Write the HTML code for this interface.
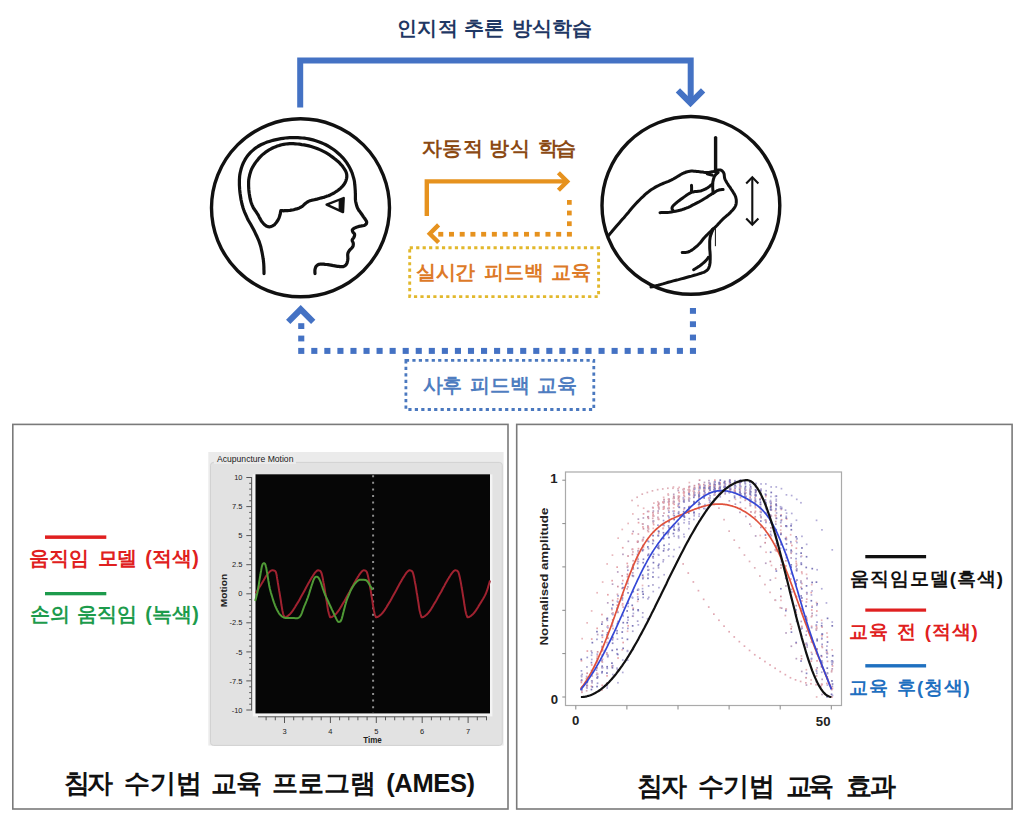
<!DOCTYPE html>
<html><head><meta charset="utf-8"><title>AMES</title>
<style>
html,body{margin:0;padding:0;background:#fff;}
body{width:1024px;height:819px;overflow:hidden;position:relative;font-family:"Liberation Sans",sans-serif;}
svg{position:absolute;left:0;top:0;}
.t{position:absolute;white-space:nowrap;font-weight:bold;line-height:1;font-family:"Liberation Sans",sans-serif;}
</style></head><body>
<svg width="1024" height="819" viewBox="0 0 1024 819">
 <!-- top blue arrow -->
 <g fill="none" stroke="#4472c4" stroke-width="6" stroke-linejoin="miter">
  <polyline points="300.2,107.6 300.2,60.5 690.7,60.5 690.7,103"/>
  <polyline points="677.9,90.4 690.5,102.9 703.1,90.4" stroke-width="6.1"/>
 </g>
 <!-- circles -->
 <g fill="none" stroke="#111" stroke-width="3.4">
  <circle cx="300.5" cy="207.8" r="89"/>
  <circle cx="690.9" cy="205.4" r="88.9"/>
 </g>
 <!-- head -->
 <g fill="none" stroke="#111" stroke-width="3.2" stroke-linecap="round" stroke-linejoin="round"><path d="M264 273.6 L264 272.5 L264 270.9 L263.9 269.1 L263.9 267.1 L263.8 265.2 L263.7 263.4 L263.5 261.8 L263.4 260.2 L263.1 258.6 L262.9 257.1 L262.6 255.5 L262.3 253.8 L262 252.1 L261.6 250.3 L261.2 248.5 L260.8 246.7 L260.2 244.8 L259.6 242.9 L258.9 240.9 L258 238.9 L257.1 236.8 L256.1 234.7 L255.1 232.6 L254.1 230.5 L253 228.4 L251.9 226.4 L250.7 224.3 L249.5 222.3 L248.3 220.2 L247.3 218.2 L246.4 216.2 L245.5 214.1 L244.6 212.1 L243.8 210 L243.1 208 L242.5 205.9 L241.9 203.8 L241.5 201.7 L241 199.6 L240.7 197.5 L240.4 195.4 L240.1 193.5 L239.9 191.7 L239.7 189.9 L239.6 188.3 L239.5 186.6 L239.4 185 L239.4 183.3 L239.4 181.6 L239.4 179.9 L239.5 178.3 L239.6 176.6 L239.8 174.9 L240.1 173.2 L240.5 171.5 L240.9 169.8 L241.4 168 L242 166.3 L242.6 164.6 L243.3 163 L244.1 161.4 L244.9 159.9 L245.8 158.4 L246.8 156.9 L247.8 155.5 L249 154.1 L250.3 152.7 L251.6 151.4 L253.1 150.1 L254.6 148.8 L256.2 147.6 L257.9 146.5 L259.6 145.5 L261.4 144.5 L263.3 143.7 L265.2 142.9 L267.2 142.1 L269.3 141.4 L271.5 140.7 L273.8 140.1 L276.2 139.6 L278.6 139.1 L280.9 138.7 L283.2 138.3 L285.4 138 L287.5 137.8 L289.6 137.7 L291.7 137.6 L293.8 137.6 L295.9 137.6 L298 137.7 L300.1 137.8 L302.2 138 L304.4 138.2 L306.5 138.5 L308.6 138.9 L310.7 139.4 L312.9 139.9 L315 140.5 L317.2 141.2 L319.3 141.9 L321.3 142.7 L323.3 143.6 L325.3 144.5 L327.2 145.5 L329.1 146.6 L331 147.8 L332.8 149 L334.6 150.3 L336.4 151.7 L338.1 153.2 L339.8 154.7 L341.4 156.3 L342.9 157.9 L344.3 159.5 L345.6 161.2 L346.8 162.9 L347.9 164.7 L349 166.4 L349.9 168.1 L350.7 169.8 L351.5 171.5 L352.2 173.2 L352.7 174.9 L353.2 176.6 L353.7 178.2 L354.1 179.8 L354.4 181.3 L354.6 182.8 L354.7 184.3 L354.9 185.7 L355 187.1 L355.1 188.5 L355.2 189.9 L355.3 191.2 L355.3 192.5 L355.4 193.8 L355.4 195 L355.4 196.1 L355.4 197.1 L355.4 198.1 L355.4 199 L355.5 200 L355.6 201 L355.8 202.1 L356.1 203.3 L356.4 204.6 L356.7 205.8 L357.1 206.9 L357.5 208 L358 208.9 L358.5 209.8 L359 210.6 L359.6 211.3 L360.2 212.1 L360.7 212.8 L361.2 213.5 L361.7 214.2 L362.1 214.8 L362.6 215.5 L363 216.2 L363.5 216.9 L364.1 217.7 L364.7 218.5 L365.3 219.4 L365.9 220.3 L366.4 221.1 L366.6 221.8 L366.7 222.5 L366.6 223.1 L366.4 223.7 L366 224.2 L365.5 224.7 L364.9 225.1 L364 225.5 L362.9 225.7 L361.7 225.9 L360.4 226.2 L359.1 226.4 L358 226.7 L357 227.1 L355.9 227.5 L355 227.9 L354.1 228.3 L353.3 228.8 L352.8 229.2 L352.5 229.6 L352.3 230.1 L352.4 230.6 L352.5 231 L352.6 231.5 L352.8 231.9 L353 232.3 L353.4 232.7 L353.7 233 L354.1 233.4 L354.4 233.8 L354.6 234.2 L354.6 234.7 L354.6 235.2 L354.5 235.8 L354.3 236.3 L354.1 236.9 L353.9 237.4 L353.6 237.9 L353.3 238.3 L352.9 238.7 L352.6 239.2 L352.3 239.6 L352.2 240.1 L352.2 240.6 L352.4 241.2 L352.7 241.8 L353 242.3 L353.2 242.9 L353.3 243.5 L353.3 244.1 L353.3 244.7 L353.2 245.3 L353.1 245.9 L352.9 246.5 L352.6 247 L352.2 247.5 L351.8 248 L351.3 248.4 L350.8 248.9 L350.2 249.4 L349.8 249.9 L349.4 250.5 L349 251.1 L348.6 251.7 L348.3 252.3 L348 253 L347.8 253.8 L347.7 254.6 L347.7 255.5 L347.8 256.5 L347.8 257.5 L347.9 258.4 L347.8 259.3 L347.7 260.2 L347.5 261.1 L347.3 261.9 L347.1 262.8 L346.8 263.5 L346.4 264.2 L346 264.8 L345.5 265.3 L345 265.7 L344.5 266.1 L343.8 266.4 L343 266.6 L342.1 266.7 L341 266.7 L339.9 266.6 L338.7 266.4 L337.5 266.3 L336.2 266.1 L334.9 265.9 L333.6 265.7 L332.2 265.4 L330.8 265.1 L329.4 264.9 L328 264.7 L326.6 264.5 L325.1 264.4 L323.6 264.2 L322.2 264.2 L320.9 264.1 L319.8 264.2 L318.9 264.4 L318.2 264.6 L317.7 264.9 L317.2 265.3 L316.8 265.7 L316.4 266.1 L316 266.6 L315.7 267.1 L315.5 267.7 L315.3 268.3 L315.1 268.9 L315 269.5 L314.9 270.2 L314.9 271 L314.9 271.8 L314.9 272.5 L315 273.1 L315 273.6"/><path d="M280.8 210.7 L281.3 210.7 L282 210.7 L282.8 210.7 L283.7 210.8 L284.6 210.7 L285.6 210.7 L286.6 210.6 L287.7 210.6 L288.8 210.5 L290 210.4 L291.2 210.2 L292.4 210 L293.7 209.7 L295.1 209.3 L296.6 208.9 L298 208.4 L299.4 207.9 L300.6 207.3 L301.7 206.7 L302.7 205.9 L303.6 205.1 L304.4 204.3 L305.2 203.6 L306 203 L306.7 202.5 L307.3 202.1 L307.9 201.7 L308.5 201.4 L309.2 201.1 L310 200.8 L311 200.5 L312 200.2 L313.2 200 L314.4 199.7 L315.7 199.4 L317 199.1 L318.4 198.7 L319.9 198.3 L321.5 197.9 L323.1 197.5 L324.6 197.1 L326 196.6 L327.3 196.1 L328.5 195.7 L329.6 195.2 L330.7 194.7 L331.8 194.1 L333 193.5 L334.2 192.8 L335.5 192 L336.8 191.2 L338.1 190.3 L339.3 189.3 L340.4 188.4 L341.4 187.4 L342.4 186.4 L343.3 185.4 L344.1 184.3 L344.8 183.2 L345.4 182 L345.9 180.8 L346.3 179.6 L346.6 178.3 L346.8 177 L346.8 175.7 L346.7 174.4 L346.4 173.1 L346 171.9 L345.4 170.6 L344.6 169.3 L343.8 168.1 L342.9 166.8 L341.9 165.5 L340.8 164.3 L339.6 163 L338.3 161.7 L336.8 160.5 L335.3 159.2 L333.6 157.9 L331.8 156.6 L329.9 155.2 L327.9 153.9 L325.9 152.7 L323.9 151.6 L321.9 150.6 L319.8 149.6 L317.7 148.7 L315.6 147.9 L313.4 147.2 L311.2 146.5 L308.9 145.9 L306.5 145.4 L304.1 144.9 L301.7 144.6 L299.4 144.2 L297.2 144 L295.2 143.8 L293.3 143.7 L291.4 143.6 L289.6 143.6 L287.7 143.8 L285.8 144 L283.7 144.4 L281.6 144.8 L279.5 145.4 L277.3 146.1 L275.2 146.9 L273.1 147.8 L271.1 148.8 L269.1 149.9 L267.2 151.1 L265.3 152.4 L263.4 153.9 L261.7 155.4 L260 157.1 L258.4 158.9 L256.8 160.9 L255.3 162.9 L254 164.9 L252.8 166.8 L251.8 168.7 L251 170.6 L250.4 172.5 L249.8 174.4 L249.4 176.3 L249 178.2 L248.7 180.1 L248.6 182.1 L248.6 184 L248.6 186 L248.7 187.9 L248.8 189.7 L249 191.5 L249.2 193.3 L249.5 195.1 L249.8 196.9 L250.1 198.5 L250.5 200 L250.8 201.4 L251.2 202.6 L251.6 203.7 L252 204.8 L252.5 205.9 L253 207 L253.6 208.2 L254.4 209.3 L255.2 210.5 L256 211.6 L256.8 212.9 L257.6 214.1 L258.4 215.4 L259.1 216.9 L259.9 218.4 L260.7 219.8 L261.5 221.1 L262.3 222.3 L263.2 223.3 L264.1 224.2 L265 225 L265.9 225.7 L266.9 226.2 L267.8 226.6 L268.7 226.8 L269.7 226.8 L270.6 226.6 L271.6 226.3 L272.5 225.9 L273.3 225.5 L274.1 225 L274.8 224.3 L275.5 223.5 L276.2 222.7 L276.8 221.8 L277.4 221 L277.9 220.1 L278.4 219.2 L278.8 218.3 L279.2 217.3 L279.5 216.4 L279.8 215.5 L280.1 214.6 L280.3 213.7 L280.4 212.8 L280.6 211.9 L280.7 211.2 L280.8 210.7 Z"/>
  <path d="M326.6 204.6 L343.7 198 L343 212.1 Z" stroke-width="2.4"/>
 </g>
 <path d="M338.6 200.2 L343.7 198 L343 212.1 L338.6 210.2 Z" fill="#111"/>
 <!-- hand -->
 <g fill="none" stroke="#111" stroke-width="3" stroke-linecap="round" stroke-linejoin="round"><path d="M608.3 235.8 L609.2 234.7 L610.6 233.1 L612.1 231.3 L613.8 229.3 L615.5 227.3 L617 225.5 L618.4 223.9 L619.7 222.4 L621.1 220.8 L622.4 219.3 L623.9 217.7 L625.4 215.9 L627 214 L628.8 211.9 L630.5 209.8 L632.4 207.6 L634.2 205.5 L636 203.5 L637.8 201.6 L639.7 199.7 L641.6 197.8 L643.5 196.1 L645.2 194.4 L646.9 193 L648.4 191.8 L649.8 190.7 L651.1 189.8 L652.4 189 L653.7 188.2 L655 187.4 L656.3 186.6 L657.7 186 L659 185.3 L660.3 184.7 L661.6 184.1 L663 183.5 L664.4 182.9 L665.7 182.4 L667.1 181.8 L668.5 181.3 L670 180.6 L671.6 179.9 L673.3 179 L675.2 177.9 L677.1 176.7 L679 175.6 L680.8 174.5 L682.4 173.7 L683.8 173 L685.1 172.5 L686.3 172 L687.5 171.7 L688.6 171.4 L689.9 171.2 L691.2 171.1 L692.6 171.1 L694 171.2 L695.4 171.3 L696.8 171.5 L698.2 171.6 L699.6 171.7 L701 171.9 L702.5 172.1 L703.9 172.3 L705.2 172.4 L706.5 172.5 L707.7 172.5 L708.9 172.4 L710 172.2 L711.1 172 L712.1 171.8 L713.1 171.6 L714 171.4 L714.9 171 L715.8 170.7 L716.6 170.4 L717.4 170.2 L718.1 170 L718.8 169.9 L719.4 169.9 L719.9 169.9 L720.4 170 L720.9 170.2 L721.4 170.4 L721.9 170.7 L722.4 171.1 L722.8 171.6 L723.2 172.1 L723.6 172.7 L723.9 173.3 L724.1 174 L724.2 174.8 L724.3 175.7 L724.4 176.6 L724.5 177.4 L724.7 178.3 L725 179.1 L725.3 179.8 L725.7 180.6 L726.1 181.4 L726.6 182.2 L727.2 183.2 L727.9 184.3 L728.7 185.6 L729.7 186.9 L730.6 188.2 L731.4 189.5 L732.2 190.7 L732.9 191.8 L733.5 192.8 L734.1 193.7 L734.6 194.6 L735.1 195.6 L735.5 196.5 L735.8 197.5 L736 198.5 L736.2 199.4 L736.3 200.4 L736.3 201.4 L736.3 202.3 L736.2 203.2 L736.1 204 L735.9 204.8 L735.6 205.6 L735.2 206.4 L734.7 207.3 L734.1 208.2 L733.3 209.2 L732.5 210.2 L731.6 211.1 L730.7 212.1 L729.7 213.1 L728.7 214.1 L727.6 215 L726.5 215.9 L725.4 216.9 L724.2 217.9 L723.1 218.9 L722 220 L720.8 221.3 L719.6 222.6 L718.4 223.8 L717.4 225 L716.4 226 L715.5 226.9 L714.7 227.6 L713.9 228.3 L713.3 228.9 L712.7 229.3 L712.3 229.7"/><path d="M718.1 172.5 L717.7 172.8 L717.2 173.3 L716.6 173.8 L715.9 174.5 L715.3 175.1 L714.8 175.8 L714.4 176.5 L714.1 177.3 L713.8 178.1 L713.5 179 L713.3 179.9 L713.1 180.8 L712.9 181.7 L712.8 182.6 L712.8 183.6 L712.7 184.6 L712.7 185.6 L712.7 186.6 L712.7 187.7 L712.8 189 L712.9 190.3 L713 191.5 L713 192.5 L713.1 193.2"/><path d="M707.3 173.9 L707.9 174.1 L708.8 174.3 L709.8 174.5 L710.8 174.8 L711.7 175 L712.3 175.2"/><path d="M691.5 185.3 L691.5 185.7 L691.5 186.2 L691.6 186.7 L691.6 187.4 L691.6 188 L691.6 188.5 L691.6 189 L691.6 189.5 L691.6 189.9 L691.5 190.4 L691.5 190.7 L691.5 191"/><path d="M712.3 184.1 L711.9 184.5 L711.3 185 L710.6 185.5 L709.8 186.2 L709 186.8 L708.1 187.4 L707.2 188 L706.2 188.6 L705.2 189.2 L704 189.7 L702.8 190.2 L701.5 190.7 L700 191 L698.4 191.2 L696.7 191.4 L694.9 191.6 L693.2 191.9 L691.5 192.4 L689.9 193.1 L688.4 194 L686.8 195 L685.3 196.1 L683.9 197.1 L682.4 198.2 L680.9 199.3 L679.3 200.5 L677.8 201.7 L676.4 202.8 L675.1 203.9 L674.1 204.8 L673.4 205.5 L672.8 206.2 L672.5 206.7 L672.2 207.2 L672.1 207.6 L672 208.1 L672 208.6 L672.2 209.1 L672.5 209.7 L672.8 210.1 L673.1 210.5 L673.3 210.8"/><path d="M660 212.7 L661.3 212.6 L663 212.6 L665 212.5 L667.2 212.4 L669.5 212.2 L671.6 211.9 L673.6 211.6 L675.7 211.2 L677.7 210.8 L679.8 210.3 L681.9 209.7 L684 209 L686.1 208.2 L688.3 207.3 L690.4 206.3 L692.5 205.2 L694.6 204.2 L696.5 203.2 L698.4 202.2 L700.1 201.2 L701.9 200.2 L703.5 199.2 L705.1 198.3 L706.5 197.4 L707.8 196.6 L709 195.8 L710.1 195.1 L711.1 194.4 L712.1 193.8 L713.1 193.2 L714 192.6 L714.9 192.1 L715.7 191.5 L716.5 191.1 L717.3 190.6 L718.1 190.3 L719 190 L720 189.8 L720.9 189.7 L721.8 189.6 L722.6 189.6 L723.1 189.5"/><path d="M682.2 252.6 L683 252.5 L684 252.5 L685.3 252.4 L686.6 252.3 L688 252 L689.4 251.5 L690.7 250.8 L692.2 249.9 L693.6 248.9 L695 247.7 L696.5 246.5 L697.8 245.3 L699.1 244 L700.3 242.7 L701.5 241.2 L702.6 239.8 L703.8 238.3 L705 237 L706.3 235.6 L707.7 234.2 L709.1 232.8 L710.4 231.6 L711.5 230.5 L712.3 229.7"/><path d="M713.3 228.7 L712.9 229.6 L712.4 230.8 L711.8 232.3 L711.2 233.9 L710.6 235.5 L710.2 237 L710 238.5 L709.8 240 L709.7 241.5 L709.7 243.1 L709.7 244.7 L709.7 246.3 L709.7 248 L709.8 249.8 L710 251.6 L710.1 253.3 L710.2 255.1 L710.2 256.7 L710.2 258.2 L710.2 259.7 L710.1 261.2 L710.1 262.5 L709.9 263.8 L709.7 265 L709.4 266.1 L709.1 267 L708.8 267.9 L708.3 268.7 L707.8 269.5 L707.1 270.2 L706.4 270.8 L705.6 271.3 L704.8 271.8 L703.7 272.3 L702.5 272.7 L700.9 273.3 L699 273.9 L696.7 274.6 L694.2 275.3 L691.5 276.1 L688.9 276.8 L686.3 277.5 L683.8 278.2 L681.2 278.9 L678.5 279.6 L675.9 280.2 L673.3 280.9 L670.8 281.6 L668.2 282.3 L665.5 283.1 L662.9 283.9 L660.3 284.6 L658.1 285.3 L656.2 285.8 L654.7 286.2 L653.6 286.5 L652.7 286.7 L652 286.8 L651.5 286.9 L651 287"/><path d="M693.6 269.7 L694.4 269.2 L695.6 268.5 L696.9 267.7 L698.3 266.8 L699.7 265.9 L700.9 265 L702 264.1 L703.1 263.2 L704.1 262.3 L705.1 261.4 L705.9 260.5 L706.6 259.8 L707.1 259.2 L707.5 258.7 L707.8 258.2 L708 257.8 L708.2 257.5 L708.3 257.3"/>
  <path d="M715.6 137.6 L715.6 172" stroke-width="3.4"/>
  <path d="M715.4 228.7 L715.4 245.8" stroke-width="1"/>
 </g>
 <g fill="none" stroke="#111" stroke-width="2.1">
  <line x1="752.3" y1="178" x2="752.3" y2="224"/>
  <polyline points="746.2,183.4 752.3,177.2 758.4,183.4"/>
  <polyline points="746.2,218.6 752.3,224.8 758.4,218.6"/>
 </g>
 <!-- orange arrows -->
 <g fill="none" stroke="#e6921e" stroke-width="4.4" stroke-linejoin="miter">
  <polyline points="426.8,216 426.8,181.4 567.5,181.4"/>
  <polyline points="558.4,172.7 567.2,181.5 558.4,190.3"/>
  <polyline points="438.6,224.9 429.8,233.7 438.6,242.5"/>
 </g>
 <!-- yellow dotted box -->
 <rect x="409.7" y="247.7" width="188.9" height="48.9" fill="none" stroke="#e2b82c" stroke-width="2.9" stroke-dasharray="3.2 3.25"/>
 <!-- blue dotted feedback path -->
 <g fill="none" stroke="#4472c4" stroke-width="6">
  <polyline points="288.2,321.9 300.7,309.4 313.2,321.9" stroke-width="6.1"/>
 </g>
 <rect x="405.9" y="360.4" width="187.9" height="49.1" fill="none" stroke="#4a78bf" stroke-width="2.8" stroke-dasharray="3.2 3.25"/>
 <g fill="#e6921e"><rect x="566.90" y="231.9" width="5.0" height="4.7"/><rect x="556.18" y="231.9" width="5.0" height="4.7"/><rect x="545.46" y="231.9" width="5.0" height="4.7"/><rect x="534.74" y="231.9" width="5.0" height="4.7"/><rect x="524.02" y="231.9" width="5.0" height="4.7"/><rect x="513.30" y="231.9" width="5.0" height="4.7"/><rect x="502.58" y="231.9" width="5.0" height="4.7"/><rect x="491.86" y="231.9" width="5.0" height="4.7"/><rect x="481.14" y="231.9" width="5.0" height="4.7"/><rect x="470.42" y="231.9" width="5.0" height="4.7"/><rect x="459.70" y="231.9" width="5.0" height="4.7"/><rect x="448.98" y="231.9" width="5.0" height="4.7"/><rect x="438.26" y="231.9" width="5.0" height="4.7"/><rect x="567.0" y="200.0" width="4.7" height="4.8"/><rect x="567.0" y="210.6" width="4.7" height="4.8"/><rect x="567.0" y="221.3" width="4.7" height="4.8"/></g>
 <g fill="#4472c4"><rect x="298.20" y="347.9" width="6.1" height="6.0"/><rect x="311.26" y="347.9" width="6.1" height="6.0"/><rect x="324.31" y="347.9" width="6.1" height="6.0"/><rect x="337.37" y="347.9" width="6.1" height="6.0"/><rect x="350.43" y="347.9" width="6.1" height="6.0"/><rect x="363.49" y="347.9" width="6.1" height="6.0"/><rect x="376.54" y="347.9" width="6.1" height="6.0"/><rect x="389.60" y="347.9" width="6.1" height="6.0"/><rect x="402.66" y="347.9" width="6.1" height="6.0"/><rect x="415.71" y="347.9" width="6.1" height="6.0"/><rect x="428.77" y="347.9" width="6.1" height="6.0"/><rect x="441.83" y="347.9" width="6.1" height="6.0"/><rect x="454.88" y="347.9" width="6.1" height="6.0"/><rect x="467.94" y="347.9" width="6.1" height="6.0"/><rect x="481.00" y="347.9" width="6.1" height="6.0"/><rect x="494.06" y="347.9" width="6.1" height="6.0"/><rect x="507.11" y="347.9" width="6.1" height="6.0"/><rect x="520.17" y="347.9" width="6.1" height="6.0"/><rect x="533.23" y="347.9" width="6.1" height="6.0"/><rect x="546.28" y="347.9" width="6.1" height="6.0"/><rect x="559.34" y="347.9" width="6.1" height="6.0"/><rect x="572.40" y="347.9" width="6.1" height="6.0"/><rect x="585.45" y="347.9" width="6.1" height="6.0"/><rect x="598.51" y="347.9" width="6.1" height="6.0"/><rect x="611.57" y="347.9" width="6.1" height="6.0"/><rect x="624.62" y="347.9" width="6.1" height="6.0"/><rect x="637.68" y="347.9" width="6.1" height="6.0"/><rect x="650.74" y="347.9" width="6.1" height="6.0"/><rect x="663.80" y="347.9" width="6.1" height="6.0"/><rect x="676.85" y="347.9" width="6.1" height="6.0"/><rect x="689.91" y="347.9" width="6.1" height="6.0"/><rect x="689.9" y="308.0" width="6.1" height="5.8"/><rect x="689.9" y="321.3" width="6.1" height="5.8"/><rect x="689.9" y="334.6" width="6.1" height="5.8"/><rect x="298.2" y="323.2" width="6.1" height="5.8"/><rect x="298.2" y="335.6" width="6.1" height="5.8"/></g>
 <!-- panels -->
 <g fill="none" stroke="#7a7a7a" stroke-width="1.6">
  <rect x="12.8" y="424.4" width="495.2" height="384.6"/>
  <rect x="516.7" y="424.4" width="495.4" height="384.6"/>
 </g>
 <!-- legend lines left -->
 <rect x="45" y="535.4" width="61.3" height="3.5" fill="#e02020"/>
 <rect x="45" y="592" width="61.3" height="3.3" fill="#1d9b4c"/>
 <!-- left chart window -->
 <rect x="208.3" y="452" width="295.3" height="293.6" fill="#ebebeb"/>
 <rect x="210.5" y="462.4" width="291.8" height="283" rx="3" fill="#e2e2e2" stroke="#d2d2d2" stroke-width="1"/>
 <rect x="214" y="454" width="82" height="10" fill="#ebebeb"/>
 <text x="217" y="462" font-size="8.6" fill="#1a1a1a" font-family="Liberation Sans">Acupuncture Motion</text>
 <rect x="252.8" y="474.4" width="239.6" height="242" fill="#f4f4f4"/>
 <rect x="255.5" y="474.3" width="234.5" height="239.1" fill="#060606"/>
 <g stroke="#555" stroke-width="1" fill="none">
  <line x1="251.6" y1="477" x2="251.6" y2="710.5"/>
  <line x1="258" y1="716.8" x2="487" y2="716.8"/>
  <line x1="246.3" y1="710" x2="251.6" y2="710"/><line x1="249.2" y1="704.2" x2="251.6" y2="704.2"/><line x1="249.2" y1="698.4" x2="251.6" y2="698.4"/><line x1="249.2" y1="692.6" x2="251.6" y2="692.6"/><line x1="249.2" y1="686.8" x2="251.6" y2="686.8"/><line x1="246.3" y1="680.9" x2="251.6" y2="680.9"/><line x1="249.2" y1="675.1" x2="251.6" y2="675.1"/><line x1="249.2" y1="669.3" x2="251.6" y2="669.3"/><line x1="249.2" y1="663.5" x2="251.6" y2="663.5"/><line x1="249.2" y1="657.7" x2="251.6" y2="657.7"/><line x1="246.3" y1="651.9" x2="251.6" y2="651.9"/><line x1="249.2" y1="646.1" x2="251.6" y2="646.1"/><line x1="249.2" y1="640.2" x2="251.6" y2="640.2"/><line x1="249.2" y1="634.4" x2="251.6" y2="634.4"/><line x1="249.2" y1="628.6" x2="251.6" y2="628.6"/><line x1="246.3" y1="622.8" x2="251.6" y2="622.8"/><line x1="249.2" y1="617" x2="251.6" y2="617"/><line x1="249.2" y1="611.2" x2="251.6" y2="611.2"/><line x1="249.2" y1="605.4" x2="251.6" y2="605.4"/><line x1="249.2" y1="599.6" x2="251.6" y2="599.6"/><line x1="246.3" y1="593.8" x2="251.6" y2="593.8"/><line x1="249.2" y1="587.9" x2="251.6" y2="587.9"/><line x1="249.2" y1="582.1" x2="251.6" y2="582.1"/><line x1="249.2" y1="576.3" x2="251.6" y2="576.3"/><line x1="249.2" y1="570.5" x2="251.6" y2="570.5"/><line x1="246.3" y1="564.7" x2="251.6" y2="564.7"/><line x1="249.2" y1="558.9" x2="251.6" y2="558.9"/><line x1="249.2" y1="553.1" x2="251.6" y2="553.1"/><line x1="249.2" y1="547.2" x2="251.6" y2="547.2"/><line x1="249.2" y1="541.4" x2="251.6" y2="541.4"/><line x1="246.3" y1="535.6" x2="251.6" y2="535.6"/><line x1="249.2" y1="529.8" x2="251.6" y2="529.8"/><line x1="249.2" y1="524" x2="251.6" y2="524"/><line x1="249.2" y1="518.2" x2="251.6" y2="518.2"/><line x1="249.2" y1="512.4" x2="251.6" y2="512.4"/><line x1="246.3" y1="506.6" x2="251.6" y2="506.6"/><line x1="249.2" y1="500.8" x2="251.6" y2="500.8"/><line x1="249.2" y1="494.9" x2="251.6" y2="494.9"/><line x1="249.2" y1="489.1" x2="251.6" y2="489.1"/><line x1="249.2" y1="483.3" x2="251.6" y2="483.3"/><line x1="246.3" y1="477.5" x2="251.6" y2="477.5"/><line x1="266.1" y1="716.8" x2="266.1" y2="720.3"/><line x1="275.3" y1="716.8" x2="275.3" y2="720.3"/><line x1="284.5" y1="716.8" x2="284.5" y2="723"/><line x1="293.7" y1="716.8" x2="293.7" y2="720.3"/><line x1="302.9" y1="716.8" x2="302.9" y2="720.3"/><line x1="312" y1="716.8" x2="312" y2="720.3"/><line x1="321.2" y1="716.8" x2="321.2" y2="720.3"/><line x1="330.4" y1="716.8" x2="330.4" y2="723"/><line x1="339.6" y1="716.8" x2="339.6" y2="720.3"/><line x1="348.8" y1="716.8" x2="348.8" y2="720.3"/><line x1="357.9" y1="716.8" x2="357.9" y2="720.3"/><line x1="367.1" y1="716.8" x2="367.1" y2="720.3"/><line x1="376.3" y1="716.8" x2="376.3" y2="723"/><line x1="385.5" y1="716.8" x2="385.5" y2="720.3"/><line x1="394.7" y1="716.8" x2="394.7" y2="720.3"/><line x1="403.8" y1="716.8" x2="403.8" y2="720.3"/><line x1="413" y1="716.8" x2="413" y2="720.3"/><line x1="422.2" y1="716.8" x2="422.2" y2="723"/><line x1="431.4" y1="716.8" x2="431.4" y2="720.3"/><line x1="440.6" y1="716.8" x2="440.6" y2="720.3"/><line x1="449.7" y1="716.8" x2="449.7" y2="720.3"/><line x1="458.9" y1="716.8" x2="458.9" y2="720.3"/><line x1="468.1" y1="716.8" x2="468.1" y2="723"/><line x1="477.3" y1="716.8" x2="477.3" y2="720.3"/><line x1="486.5" y1="716.8" x2="486.5" y2="720.3"/>
 </g>
 <g font-size="7.5" fill="#222" text-anchor="end" font-family="Liberation Sans"><text x="242.5" y="480.1">10</text><text x="242.5" y="509.2">7.5</text><text x="242.5" y="538.2">5</text><text x="242.5" y="567.3">2.5</text><text x="242.5" y="596.4">0</text><text x="242.5" y="625.4">-2.5</text><text x="242.5" y="654.5">-5</text><text x="242.5" y="683.5">-7.5</text><text x="242.5" y="712.6">-10</text></g>
 <g font-size="7.5" fill="#222" text-anchor="middle" font-family="Liberation Sans"><text x="284.5" y="733.5">3</text><text x="330.4" y="733.5">4</text><text x="376.3" y="733.5">5</text><text x="422.2" y="733.5">6</text><text x="468.1" y="733.5">7</text></g>
 <text transform="translate(372.5,743.2) scale(1,1.16)" font-size="8" font-weight="bold" fill="#222" text-anchor="middle" font-family="Liberation Sans">Time</text>
 <text transform="translate(226.9,590.6) rotate(-90) scale(1.25,1)" font-size="8.2" font-weight="bold" fill="#222" text-anchor="middle" font-family="Liberation Sans">Motion</text>
 <line x1="373.1" y1="475.2" x2="373.1" y2="713" stroke="#8e8e8e" stroke-width="2" stroke-dasharray="2 4.6"/>
 <path d="M255.7 593.2 L256.4 592.1 L257.4 590.5 L258.6 588.6 L259.8 586.6 L261 584.7 L262 583 L262.9 581.6 L263.7 580.2 L264.4 578.9 L265.1 577.7 L265.8 576.5 L266.5 575.5 L267.2 574.5 L267.9 573.6 L268.6 572.8 L269.3 572.1 L269.9 571.5 L270.5 571 L271.1 570.6 L271.6 570.4 L272.1 570.3 L272.6 570.3 L273 570.3 L273.5 570.4 L274 570.5 L274.4 570.6 L274.8 570.8 L275.2 571.1 L275.6 571.6 L276 572.5 L276.3 573.7 L276.7 575.2 L276.9 576.9 L277.2 578.9 L277.6 580.9 L277.9 583 L278.3 585.3 L278.7 587.8 L279.1 590.4 L279.6 593 L280 595.6 L280.4 598 L280.8 600.3 L281.1 602.6 L281.4 604.8 L281.8 606.9 L282.1 608.8 L282.4 610.5 L282.7 611.9 L283 613.2 L283.3 614.2 L283.6 615.1 L283.9 615.9 L284.1 616.5 L284.3 616.9 L284.4 617.2 L284.4 617.3 L284.5 617.3 L284.7 617.2 L284.9 617.2 L285.2 617.2 L285.6 617.1 L285.9 617 L286.4 616.8 L286.9 616.5 L287.4 616.2 L288 615.8 L288.6 615.3 L289.2 614.8 L289.9 614.2 L290.6 613.4 L291.4 612.5 L292.2 611.4 L293.1 610.1 L294 608.7 L295 607.2 L295.9 605.6 L296.9 604 L297.9 602.4 L298.9 600.7 L299.9 598.9 L300.9 597.1 L301.9 595.3 L302.9 593.5 L303.9 591.7 L305 589.7 L306 587.8 L307 585.9 L308 584.1 L308.9 582.5 L309.8 581 L310.6 579.6 L311.3 578.3 L312.1 577.1 L312.8 576 L313.4 575 L314 574.1 L314.5 573.3 L315 572.7 L315.5 572.1 L316 571.6 L316.4 571.2 L316.8 570.9 L317.2 570.6 L317.5 570.4 L317.9 570.3 L318.3 570.3 L318.6 570.4 L319.1 570.5 L319.5 570.6 L319.9 570.7 L320.4 571.1 L320.8 571.6 L321.2 572.5 L321.7 573.7 L322.1 575.2 L322.5 576.9 L322.9 578.9 L323.2 580.9 L323.6 583 L324.1 585.3 L324.5 587.8 L324.9 590.4 L325.3 593 L325.8 595.6 L326.1 598 L326.5 600.3 L326.9 602.6 L327.2 604.8 L327.5 606.9 L327.8 608.8 L328.1 610.5 L328.5 611.9 L328.8 613.2 L329.1 614.2 L329.4 615.1 L329.6 615.9 L329.8 616.5 L330 616.9 L330.1 617.2 L330.2 617.3 L330.3 617.3 L330.4 617.2 L330.6 617.2 L331 617.2 L331.3 617.1 L331.7 617 L332.1 616.8 L332.6 616.5 L333.1 616.2 L333.7 615.8 L334.3 615.3 L335 614.8 L335.6 614.2 L336.4 613.4 L337.1 612.5 L338 611.4 L338.9 610.1 L339.8 608.7 L340.7 607.2 L341.7 605.6 L342.6 604 L343.6 602.4 L344.6 600.7 L345.6 598.9 L346.6 597.1 L347.6 595.3 L348.6 593.5 L349.7 591.7 L350.7 589.7 L351.7 587.8 L352.8 585.9 L353.7 584.1 L354.6 582.5 L355.5 581 L356.3 579.6 L357.1 578.3 L357.8 577.1 L358.5 576 L359.1 575 L359.7 574.1 L360.3 573.3 L360.8 572.7 L361.3 572.1 L361.7 571.6 L362.1 571.2 L362.6 570.9 L362.9 570.6 L363.3 570.4 L363.7 570.3 L364 570.3 L364.4 570.4 L364.8 570.5 L365.2 570.6 L365.7 570.7 L366.1 571.1 L366.6 571.6 L367 572.5 L367.4 573.7 L367.8 575.2 L368.2 576.9 L368.6 578.9 L369 580.9 L369.4 583 L369.8 585.3 L370.2 587.8 L370.7 590.4 L371.1 593 L371.5 595.6 L371.9 598 L372.3 600.3 L372.6 602.6 L372.9 604.8 L373.3 606.9 L373.6 608.8 L373.9 610.5 L374.2 611.9 L374.5 613.2 L374.8 614.2 L375.1 615.1 L375.4 615.9 L375.6 616.5 L375.8 616.9 L375.9 617.2 L375.9 617.3 L376 617.3 L376.2 617.2 L376.4 617.2 L376.7 617.2 L377.1 617.1 L377.4 617 L377.9 616.8 L378.4 616.5 L378.9 616.2 L379.5 615.8 L380.1 615.3 L380.7 614.8 L381.4 614.2 L382.1 613.4 L382.9 612.5 L383.7 611.4 L384.6 610.1 L385.5 608.7 L386.5 607.2 L387.4 605.6 L388.4 604 L389.4 602.4 L390.4 600.7 L391.4 598.9 L392.4 597.1 L393.4 595.3 L394.4 593.5 L395.4 591.7 L396.5 589.7 L397.5 587.8 L398.5 585.9 L399.5 584.1 L400.4 582.5 L401.3 581 L402.1 579.6 L402.8 578.3 L403.6 577.1 L404.3 576 L404.9 575 L405.5 574.1 L406 573.3 L406.5 572.7 L407 572.1 L407.5 571.6 L407.9 571.2 L408.3 570.9 L408.7 570.6 L409 570.4 L409.4 570.3 L409.8 570.3 L410.1 570.4 L410.6 570.5 L411 570.6 L411.4 570.7 L411.9 571.1 L412.3 571.6 L412.8 572.5 L413.2 573.7 L413.6 575.2 L414 576.9 L414.4 578.9 L414.7 580.9 L415.1 583 L415.6 585.3 L416 587.8 L416.4 590.4 L416.8 593 L417.3 595.6 L417.6 598 L418 600.3 L418.4 602.6 L418.7 604.8 L419 606.9 L419.3 608.8 L419.6 610.5 L420 611.9 L420.3 613.2 L420.6 614.2 L420.9 615.1 L421.1 615.9 L421.3 616.5 L421.5 616.9 L421.6 617.2 L421.7 617.3 L421.8 617.3 L421.9 617.2 L422.1 617.2 L422.5 617.2 L422.8 617.1 L423.2 617 L423.6 616.8 L424.1 616.5 L424.6 616.2 L425.2 615.8 L425.8 615.3 L426.5 614.8 L427.1 614.2 L427.9 613.4 L428.6 612.5 L429.5 611.4 L430.4 610.1 L431.3 608.7 L432.2 607.2 L433.2 605.6 L434.1 604 L435.1 602.4 L436.1 600.7 L437.1 598.9 L438.1 597.1 L439.1 595.3 L440.1 593.5 L441.2 591.7 L442.2 589.7 L443.2 587.8 L444.3 585.9 L445.2 584.1 L446.1 582.5 L447 581 L447.8 579.6 L448.6 578.3 L449.3 577.1 L450 576 L450.6 575 L451.2 574.1 L451.8 573.3 L452.3 572.7 L452.8 572.1 L453.2 571.6 L453.6 571.2 L454.1 570.9 L454.4 570.6 L454.8 570.4 L455.2 570.3 L455.5 570.3 L455.9 570.4 L456.3 570.5 L456.7 570.6 L457.2 570.7 L457.6 571.1 L458.1 571.6 L458.5 572.5 L458.9 573.7 L459.3 575.2 L459.7 576.9 L460.1 578.9 L460.5 580.9 L460.9 583 L461.3 585.3 L461.7 587.8 L462.2 590.4 L462.6 593 L463 595.6 L463.4 598 L463.8 600.3 L464.1 602.6 L464.4 604.8 L464.8 606.9 L465.1 608.8 L465.4 610.5 L465.7 611.9 L466 613.2 L466.3 614.2 L466.6 615.1 L466.9 615.9 L467.1 616.5 L467.3 616.9 L467.4 617.2 L467.4 617.3 L467.5 617.3 L467.7 617.2 L467.9 617.2 L468.2 617.2 L468.6 617.1 L468.9 617 L469.4 616.8 L469.9 616.5 L470.4 616.2 L471 615.8 L471.6 615.3 L472.2 614.8 L472.9 614.2 L473.6 613.4 L474.4 612.5 L475.2 611.4 L476.1 610.1 L477 608.7 L478 607.2 L478.9 605.6 L479.9 604 L480.9 602.4 L481.9 600.7 L483 599 L484 597.3 L485 595.4 L485.9 593.5 L486.7 591.3 L487.6 588.9 L488.3 586.3 L489 584 L489.6 581.9 L490 580.5" fill="none" stroke="#a02230" stroke-width="2" stroke-linejoin="round"/>
 <path d="M255.2 601 L255.4 600.1 L255.8 598.9 L256.2 597.4 L256.6 595.8 L257.1 594 L257.5 592 L257.9 589.8 L258.3 587.3 L258.8 584.6 L259.2 581.9 L259.6 579.3 L260 577 L260.4 574.8 L260.7 572.7 L261.1 570.7 L261.4 568.9 L261.7 567.3 L262 566 L262.3 565 L262.6 564.3 L262.8 563.9 L263.1 563.6 L263.3 563.4 L263.6 563.3 L263.9 563.2 L264.2 563.2 L264.5 563.4 L264.8 563.7 L265.2 564.2 L265.5 565 L265.8 566.2 L266.2 567.6 L266.5 569.4 L266.8 571.2 L267.2 573.1 L267.5 575 L267.8 576.9 L268.1 578.9 L268.4 580.9 L268.8 583 L269.1 585 L269.5 587 L269.9 588.9 L270.4 590.8 L270.9 592.7 L271.5 594.6 L272 596.3 L272.5 598 L273 599.6 L273.5 601.1 L274 602.6 L274.5 603.9 L275 605.3 L275.5 606.5 L276 607.7 L276.5 608.8 L277 609.8 L277.5 610.7 L278 611.6 L278.5 612.5 L279 613.3 L279.6 614.1 L280.2 614.8 L280.8 615.4 L281.4 616 L282 616.5 L282.6 616.9 L283.2 617.2 L283.8 617.5 L284.5 617.7 L285.2 617.9 L286 618 L286.9 618.1 L287.9 618.1 L288.9 618.1 L289.9 618.1 L291 618 L292 618 L293 618 L294.1 618.1 L295.2 618.2 L296.2 618.2 L297.2 618.2 L298 618 L298.7 617.7 L299.2 617.4 L299.7 617 L300.1 616.5 L300.5 615.8 L301 615 L301.5 613.9 L302 612.6 L302.5 611.2 L303 609.7 L303.5 608.3 L304 607 L304.4 605.9 L304.9 604.9 L305.3 603.9 L305.7 603 L306.1 602 L306.5 601 L306.9 599.9 L307.3 598.8 L307.8 597.6 L308.2 596.4 L308.6 595.2 L309 594 L309.4 592.7 L309.8 591.4 L310.2 590 L310.7 588.6 L311.1 587.3 L311.5 586 L311.9 584.7 L312.4 583.4 L312.8 582.1 L313.2 580.9 L313.6 579.9 L314 579 L314.4 578.3 L314.7 577.8 L315 577.4 L315.3 577.1 L315.6 576.9 L316 576.8 L316.4 576.7 L316.8 576.7 L317.2 576.8 L317.6 577 L318.1 577.4 L318.5 577.8 L318.9 578.4 L319.3 579.1 L319.7 579.9 L320.1 580.8 L320.6 581.9 L321 583 L321.5 584.3 L321.9 585.8 L322.4 587.3 L322.9 588.9 L323.5 590.5 L324 592 L324.6 593.4 L325.1 594.8 L325.7 596.1 L326.3 597.4 L326.9 598.7 L327.5 600 L328.1 601.3 L328.7 602.5 L329.2 603.8 L329.8 605 L330.4 606.3 L331 607.5 L331.6 608.8 L332.2 610.1 L332.8 611.3 L333.4 612.6 L333.9 613.8 L334.5 615 L335 616.1 L335.6 617.3 L336.1 618.4 L336.6 619.4 L337.1 620.3 L337.5 621 L337.9 621.5 L338.2 621.8 L338.6 621.9 L338.9 622 L339.2 621.9 L339.5 621.8 L339.8 621.7 L340.1 621.5 L340.5 621.3 L340.8 620.9 L341.1 620.3 L341.5 619.5 L341.9 618.3 L342.3 616.8 L342.7 615.2 L343.1 613.4 L343.6 611.6 L344 610 L344.4 608.4 L344.8 606.9 L345.2 605.3 L345.7 603.8 L346.1 602.3 L346.5 601 L346.9 599.8 L347.3 598.6 L347.7 597.6 L348.1 596.6 L348.6 595.6 L349 594.5 L349.5 593.4 L349.9 592.3 L350.4 591.2 L350.9 590.1 L351.5 589 L352 588 L352.6 587.1 L353.1 586.1 L353.7 585.3 L354.3 584.5 L354.9 583.7 L355.5 583 L356.1 582.4 L356.6 581.7 L357.2 581.2 L357.8 580.7 L358.4 580.3 L359 580 L359.6 579.8 L360.3 579.7 L361 579.7 L361.7 579.7 L362.4 579.7 L363 579.8 L363.6 579.8 L364.2 579.8 L364.8 579.9 L365.4 580 L366 580.2 L366.5 580.5 L367 581 L367.5 581.5 L368 582.2 L368.5 582.9 L369 583.7 L369.5 584.5 L370 585.4 L370.6 586.4 L371.2 587.5 L371.7 588.5 L372.2 589.4 L372.5 590" fill="none" stroke="#4f9a36" stroke-width="2" stroke-linejoin="round"/>
 <!-- right chart -->
 <rect x="565.5" y="472" width="276" height="233.5" fill="#fff" stroke="#aaa" stroke-width="1.2"/>
 <g><rect x="591.2" y="681.9" width="1.7" height="1.7" fill="#b9a0c0"/><rect x="596.5" y="677.0" width="1.7" height="1.7" fill="#b9a0c0"/><rect x="601.8" y="666.8" width="1.7" height="1.7" fill="#b9a0c0"/><rect x="606.0" y="652.1" width="1.7" height="1.7" fill="#b9a0c0"/><rect x="611.9" y="637.2" width="1.7" height="1.7" fill="#b9a0c0"/><rect x="617.2" y="620.7" width="1.7" height="1.7" fill="#b9a0c0"/><rect x="627.0" y="586.0" width="1.7" height="1.7" fill="#b9a0c0"/><rect x="631.9" y="572.0" width="1.7" height="1.7" fill="#b9a0c0"/><rect x="637.2" y="558.3" width="1.7" height="1.7" fill="#b9a0c0"/><rect x="641.8" y="539.0" width="1.7" height="1.7" fill="#b9a0c0"/><rect x="647.0" y="526.8" width="1.7" height="1.7" fill="#b9a0c0"/><rect x="652.8" y="520.2" width="1.7" height="1.7" fill="#b9a0c0"/><rect x="657.6" y="518.3" width="1.7" height="1.7" fill="#b9a0c0"/><rect x="662.6" y="506.3" width="1.7" height="1.7" fill="#b9a0c0"/><rect x="667.2" y="507.6" width="1.7" height="1.7" fill="#b9a0c0"/><rect x="673.0" y="496.4" width="1.7" height="1.7" fill="#b9a0c0"/><rect x="678.1" y="499.3" width="1.7" height="1.7" fill="#b9a0c0"/><rect x="682.6" y="498.2" width="1.7" height="1.7" fill="#b9a0c0"/><rect x="687.9" y="498.6" width="1.7" height="1.7" fill="#b9a0c0"/><rect x="698.6" y="494.5" width="1.7" height="1.7" fill="#b9a0c0"/><rect x="704.0" y="487.4" width="1.7" height="1.7" fill="#b9a0c0"/><rect x="713.7" y="484.1" width="1.7" height="1.7" fill="#b9a0c0"/><rect x="724.1" y="485.4" width="1.7" height="1.7" fill="#b9a0c0"/><rect x="729.6" y="489.6" width="1.7" height="1.7" fill="#b9a0c0"/><rect x="733.6" y="489.2" width="1.7" height="1.7" fill="#b9a0c0"/><rect x="745.0" y="495.6" width="1.7" height="1.7" fill="#b9a0c0"/><rect x="749.8" y="501.6" width="1.7" height="1.7" fill="#b9a0c0"/><rect x="754.5" y="505.0" width="1.7" height="1.7" fill="#b9a0c0"/><rect x="759.6" y="510.9" width="1.7" height="1.7" fill="#b9a0c0"/><rect x="764.7" y="519.3" width="1.7" height="1.7" fill="#b9a0c0"/><rect x="770.5" y="534.8" width="1.7" height="1.7" fill="#b9a0c0"/><rect x="774.8" y="548.7" width="1.7" height="1.7" fill="#b9a0c0"/><rect x="780.1" y="564.1" width="1.7" height="1.7" fill="#b9a0c0"/><rect x="785.1" y="585.1" width="1.7" height="1.7" fill="#b9a0c0"/><rect x="790.2" y="594.3" width="1.7" height="1.7" fill="#b9a0c0"/><rect x="795.6" y="620.4" width="1.7" height="1.7" fill="#b9a0c0"/><rect x="806.3" y="646.2" width="1.7" height="1.7" fill="#b9a0c0"/><rect x="810.6" y="658.2" width="1.7" height="1.7" fill="#b9a0c0"/><rect x="815.4" y="680.8" width="1.7" height="1.7" fill="#b9a0c0"/><rect x="821.2" y="693.6" width="1.7" height="1.7" fill="#b9a0c0"/><rect x="581.3" y="686.1" width="1.7" height="1.7" fill="#b9a0c0"/><rect x="586.2" y="681.9" width="1.7" height="1.7" fill="#b9a0c0"/><rect x="596.0" y="660.8" width="1.7" height="1.7" fill="#b9a0c0"/><rect x="601.5" y="648.3" width="1.7" height="1.7" fill="#b9a0c0"/><rect x="611.2" y="612.8" width="1.7" height="1.7" fill="#b9a0c0"/><rect x="617.2" y="601.2" width="1.7" height="1.7" fill="#b9a0c0"/><rect x="626.6" y="566.4" width="1.7" height="1.7" fill="#b9a0c0"/><rect x="631.5" y="548.6" width="1.7" height="1.7" fill="#b9a0c0"/><rect x="637.2" y="540.6" width="1.7" height="1.7" fill="#b9a0c0"/><rect x="642.0" y="523.2" width="1.7" height="1.7" fill="#b9a0c0"/><rect x="647.4" y="515.9" width="1.7" height="1.7" fill="#b9a0c0"/><rect x="652.5" y="510.2" width="1.7" height="1.7" fill="#b9a0c0"/><rect x="657.3" y="510.2" width="1.7" height="1.7" fill="#b9a0c0"/><rect x="662.1" y="501.6" width="1.7" height="1.7" fill="#b9a0c0"/><rect x="668.2" y="498.2" width="1.7" height="1.7" fill="#b9a0c0"/><rect x="672.9" y="493.5" width="1.7" height="1.7" fill="#b9a0c0"/><rect x="677.4" y="489.7" width="1.7" height="1.7" fill="#b9a0c0"/><rect x="683.4" y="491.6" width="1.7" height="1.7" fill="#b9a0c0"/><rect x="688.7" y="485.6" width="1.7" height="1.7" fill="#b9a0c0"/><rect x="693.8" y="487.2" width="1.7" height="1.7" fill="#b9a0c0"/><rect x="697.9" y="483.1" width="1.7" height="1.7" fill="#b9a0c0"/><rect x="703.6" y="481.6" width="1.7" height="1.7" fill="#b9a0c0"/><rect x="708.1" y="479.8" width="1.7" height="1.7" fill="#b9a0c0"/><rect x="713.3" y="483.3" width="1.7" height="1.7" fill="#b9a0c0"/><rect x="718.9" y="481.6" width="1.7" height="1.7" fill="#b9a0c0"/><rect x="728.6" y="483.6" width="1.7" height="1.7" fill="#b9a0c0"/><rect x="738.8" y="494.1" width="1.7" height="1.7" fill="#b9a0c0"/><rect x="744.0" y="494.6" width="1.7" height="1.7" fill="#b9a0c0"/><rect x="749.3" y="496.7" width="1.7" height="1.7" fill="#b9a0c0"/><rect x="754.2" y="502.5" width="1.7" height="1.7" fill="#b9a0c0"/><rect x="759.6" y="514.2" width="1.7" height="1.7" fill="#b9a0c0"/><rect x="764.6" y="519.2" width="1.7" height="1.7" fill="#b9a0c0"/><rect x="769.8" y="530.7" width="1.7" height="1.7" fill="#b9a0c0"/><rect x="775.5" y="542.6" width="1.7" height="1.7" fill="#b9a0c0"/><rect x="780.2" y="556.1" width="1.7" height="1.7" fill="#b9a0c0"/><rect x="790.4" y="588.6" width="1.7" height="1.7" fill="#b9a0c0"/><rect x="795.4" y="604.8" width="1.7" height="1.7" fill="#b9a0c0"/><rect x="800.4" y="620.6" width="1.7" height="1.7" fill="#b9a0c0"/><rect x="805.3" y="634.2" width="1.7" height="1.7" fill="#b9a0c0"/><rect x="816.3" y="667.0" width="1.7" height="1.7" fill="#b9a0c0"/><rect x="821.3" y="678.5" width="1.7" height="1.7" fill="#b9a0c0"/><rect x="826.4" y="694.9" width="1.7" height="1.7" fill="#b9a0c0"/><rect x="580.6" y="680.0" width="1.7" height="1.7" fill="#cf93a3"/><rect x="586.3" y="672.4" width="1.7" height="1.7" fill="#cf93a3"/><rect x="596.8" y="651.0" width="1.7" height="1.7" fill="#cf93a3"/><rect x="601.8" y="630.2" width="1.7" height="1.7" fill="#cf93a3"/><rect x="606.0" y="618.2" width="1.7" height="1.7" fill="#cf93a3"/><rect x="611.8" y="599.6" width="1.7" height="1.7" fill="#cf93a3"/><rect x="617.0" y="585.7" width="1.7" height="1.7" fill="#cf93a3"/><rect x="621.3" y="575.0" width="1.7" height="1.7" fill="#cf93a3"/><rect x="627.2" y="555.2" width="1.7" height="1.7" fill="#cf93a3"/><rect x="647.0" y="516.1" width="1.7" height="1.7" fill="#cf93a3"/><rect x="657.8" y="502.2" width="1.7" height="1.7" fill="#cf93a3"/><rect x="663.2" y="498.7" width="1.7" height="1.7" fill="#cf93a3"/><rect x="668.1" y="499.1" width="1.7" height="1.7" fill="#cf93a3"/><rect x="673.1" y="497.4" width="1.7" height="1.7" fill="#cf93a3"/><rect x="682.9" y="491.1" width="1.7" height="1.7" fill="#cf93a3"/><rect x="688.6" y="490.0" width="1.7" height="1.7" fill="#cf93a3"/><rect x="693.5" y="486.7" width="1.7" height="1.7" fill="#cf93a3"/><rect x="698.3" y="483.9" width="1.7" height="1.7" fill="#cf93a3"/><rect x="703.5" y="486.1" width="1.7" height="1.7" fill="#cf93a3"/><rect x="714.3" y="481.2" width="1.7" height="1.7" fill="#cf93a3"/><rect x="719.1" y="482.7" width="1.7" height="1.7" fill="#cf93a3"/><rect x="724.2" y="484.9" width="1.7" height="1.7" fill="#cf93a3"/><rect x="729.6" y="488.3" width="1.7" height="1.7" fill="#cf93a3"/><rect x="744.9" y="492.0" width="1.7" height="1.7" fill="#cf93a3"/><rect x="749.2" y="500.3" width="1.7" height="1.7" fill="#cf93a3"/><rect x="754.3" y="499.8" width="1.7" height="1.7" fill="#cf93a3"/><rect x="760.0" y="507.8" width="1.7" height="1.7" fill="#cf93a3"/><rect x="764.6" y="512.4" width="1.7" height="1.7" fill="#cf93a3"/><rect x="770.1" y="527.0" width="1.7" height="1.7" fill="#cf93a3"/><rect x="774.8" y="530.2" width="1.7" height="1.7" fill="#cf93a3"/><rect x="785.1" y="559.9" width="1.7" height="1.7" fill="#cf93a3"/><rect x="790.7" y="572.4" width="1.7" height="1.7" fill="#cf93a3"/><rect x="800.6" y="607.9" width="1.7" height="1.7" fill="#cf93a3"/><rect x="806.1" y="619.2" width="1.7" height="1.7" fill="#cf93a3"/><rect x="811.3" y="638.5" width="1.7" height="1.7" fill="#cf93a3"/><rect x="816.3" y="648.1" width="1.7" height="1.7" fill="#cf93a3"/><rect x="820.8" y="664.4" width="1.7" height="1.7" fill="#cf93a3"/><rect x="826.4" y="675.9" width="1.7" height="1.7" fill="#cf93a3"/><rect x="830.9" y="688.7" width="1.7" height="1.7" fill="#cf93a3"/><rect x="586.5" y="684.7" width="1.7" height="1.7" fill="#e6a4aa"/><rect x="590.6" y="685.4" width="1.7" height="1.7" fill="#e6a4aa"/><rect x="601.1" y="660.2" width="1.7" height="1.7" fill="#e6a4aa"/><rect x="605.9" y="653.3" width="1.7" height="1.7" fill="#e6a4aa"/><rect x="611.5" y="638.3" width="1.7" height="1.7" fill="#e6a4aa"/><rect x="617.2" y="620.9" width="1.7" height="1.7" fill="#e6a4aa"/><rect x="621.8" y="602.9" width="1.7" height="1.7" fill="#e6a4aa"/><rect x="632.5" y="575.0" width="1.7" height="1.7" fill="#e6a4aa"/><rect x="636.6" y="560.4" width="1.7" height="1.7" fill="#e6a4aa"/><rect x="642.5" y="548.8" width="1.7" height="1.7" fill="#e6a4aa"/><rect x="647.6" y="530.8" width="1.7" height="1.7" fill="#e6a4aa"/><rect x="652.8" y="523.7" width="1.7" height="1.7" fill="#e6a4aa"/><rect x="657.8" y="518.6" width="1.7" height="1.7" fill="#e6a4aa"/><rect x="662.5" y="508.3" width="1.7" height="1.7" fill="#e6a4aa"/><rect x="668.0" y="503.8" width="1.7" height="1.7" fill="#e6a4aa"/><rect x="673.0" y="500.5" width="1.7" height="1.7" fill="#e6a4aa"/><rect x="678.5" y="495.6" width="1.7" height="1.7" fill="#e6a4aa"/><rect x="682.7" y="492.1" width="1.7" height="1.7" fill="#e6a4aa"/><rect x="688.5" y="489.7" width="1.7" height="1.7" fill="#e6a4aa"/><rect x="693.3" y="495.1" width="1.7" height="1.7" fill="#e6a4aa"/><rect x="698.1" y="490.4" width="1.7" height="1.7" fill="#e6a4aa"/><rect x="708.9" y="485.0" width="1.7" height="1.7" fill="#e6a4aa"/><rect x="713.5" y="486.8" width="1.7" height="1.7" fill="#e6a4aa"/><rect x="718.9" y="481.9" width="1.7" height="1.7" fill="#e6a4aa"/><rect x="724.3" y="482.5" width="1.7" height="1.7" fill="#e6a4aa"/><rect x="729.1" y="483.3" width="1.7" height="1.7" fill="#e6a4aa"/><rect x="734.0" y="480.4" width="1.7" height="1.7" fill="#e6a4aa"/><rect x="738.8" y="482.4" width="1.7" height="1.7" fill="#e6a4aa"/><rect x="749.8" y="487.3" width="1.7" height="1.7" fill="#e6a4aa"/><rect x="754.9" y="491.1" width="1.7" height="1.7" fill="#e6a4aa"/><rect x="760.1" y="493.7" width="1.7" height="1.7" fill="#e6a4aa"/><rect x="764.5" y="499.6" width="1.7" height="1.7" fill="#e6a4aa"/><rect x="770.1" y="505.1" width="1.7" height="1.7" fill="#e6a4aa"/><rect x="774.5" y="514.6" width="1.7" height="1.7" fill="#e6a4aa"/><rect x="780.7" y="518.9" width="1.7" height="1.7" fill="#e6a4aa"/><rect x="785.4" y="536.6" width="1.7" height="1.7" fill="#e6a4aa"/><rect x="791.0" y="544.6" width="1.7" height="1.7" fill="#e6a4aa"/><rect x="795.5" y="562.5" width="1.7" height="1.7" fill="#e6a4aa"/><rect x="800.9" y="571.2" width="1.7" height="1.7" fill="#e6a4aa"/><rect x="810.9" y="609.2" width="1.7" height="1.7" fill="#e6a4aa"/><rect x="815.6" y="625.5" width="1.7" height="1.7" fill="#e6a4aa"/><rect x="821.3" y="634.7" width="1.7" height="1.7" fill="#e6a4aa"/><rect x="826.3" y="651.4" width="1.7" height="1.7" fill="#e6a4aa"/><rect x="831.7" y="665.1" width="1.7" height="1.7" fill="#e6a4aa"/><rect x="580.9" y="687.1" width="1.7" height="1.7" fill="#d8a8b4"/><rect x="591.4" y="675.1" width="1.7" height="1.7" fill="#d8a8b4"/><rect x="601.7" y="649.9" width="1.7" height="1.7" fill="#d8a8b4"/><rect x="616.2" y="608.2" width="1.7" height="1.7" fill="#d8a8b4"/><rect x="622.0" y="594.4" width="1.7" height="1.7" fill="#d8a8b4"/><rect x="626.8" y="580.8" width="1.7" height="1.7" fill="#d8a8b4"/><rect x="632.3" y="559.9" width="1.7" height="1.7" fill="#d8a8b4"/><rect x="637.5" y="551.4" width="1.7" height="1.7" fill="#d8a8b4"/><rect x="642.2" y="538.5" width="1.7" height="1.7" fill="#d8a8b4"/><rect x="652.4" y="522.0" width="1.7" height="1.7" fill="#d8a8b4"/><rect x="663.1" y="512.3" width="1.7" height="1.7" fill="#d8a8b4"/><rect x="668.3" y="507.4" width="1.7" height="1.7" fill="#d8a8b4"/><rect x="672.6" y="500.6" width="1.7" height="1.7" fill="#d8a8b4"/><rect x="677.6" y="498.0" width="1.7" height="1.7" fill="#d8a8b4"/><rect x="688.2" y="497.7" width="1.7" height="1.7" fill="#d8a8b4"/><rect x="693.3" y="490.6" width="1.7" height="1.7" fill="#d8a8b4"/><rect x="698.8" y="488.0" width="1.7" height="1.7" fill="#d8a8b4"/><rect x="703.8" y="489.0" width="1.7" height="1.7" fill="#d8a8b4"/><rect x="708.1" y="486.5" width="1.7" height="1.7" fill="#d8a8b4"/><rect x="713.5" y="481.3" width="1.7" height="1.7" fill="#d8a8b4"/><rect x="718.5" y="488.0" width="1.7" height="1.7" fill="#d8a8b4"/><rect x="724.1" y="480.6" width="1.7" height="1.7" fill="#d8a8b4"/><rect x="728.8" y="481.5" width="1.7" height="1.7" fill="#d8a8b4"/><rect x="734.8" y="482.0" width="1.7" height="1.7" fill="#d8a8b4"/><rect x="739.4" y="489.5" width="1.7" height="1.7" fill="#d8a8b4"/><rect x="749.0" y="490.8" width="1.7" height="1.7" fill="#d8a8b4"/><rect x="754.2" y="496.9" width="1.7" height="1.7" fill="#d8a8b4"/><rect x="759.2" y="498.0" width="1.7" height="1.7" fill="#d8a8b4"/><rect x="764.8" y="504.0" width="1.7" height="1.7" fill="#d8a8b4"/><rect x="770.5" y="515.1" width="1.7" height="1.7" fill="#d8a8b4"/><rect x="774.9" y="520.7" width="1.7" height="1.7" fill="#d8a8b4"/><rect x="780.1" y="532.2" width="1.7" height="1.7" fill="#d8a8b4"/><rect x="785.5" y="538.0" width="1.7" height="1.7" fill="#d8a8b4"/><rect x="790.3" y="552.4" width="1.7" height="1.7" fill="#d8a8b4"/><rect x="795.6" y="568.7" width="1.7" height="1.7" fill="#d8a8b4"/><rect x="801.0" y="582.7" width="1.7" height="1.7" fill="#d8a8b4"/><rect x="805.6" y="601.1" width="1.7" height="1.7" fill="#d8a8b4"/><rect x="811.2" y="614.8" width="1.7" height="1.7" fill="#d8a8b4"/><rect x="815.9" y="627.2" width="1.7" height="1.7" fill="#d8a8b4"/><rect x="821.1" y="645.5" width="1.7" height="1.7" fill="#d8a8b4"/><rect x="826.7" y="652.7" width="1.7" height="1.7" fill="#d8a8b4"/><rect x="830.9" y="669.6" width="1.7" height="1.7" fill="#d8a8b4"/><rect x="581.0" y="691.4" width="1.7" height="1.7" fill="#e6a4aa"/><rect x="585.5" y="677.8" width="1.7" height="1.7" fill="#e6a4aa"/><rect x="591.6" y="671.0" width="1.7" height="1.7" fill="#e6a4aa"/><rect x="595.9" y="661.4" width="1.7" height="1.7" fill="#e6a4aa"/><rect x="601.8" y="649.5" width="1.7" height="1.7" fill="#e6a4aa"/><rect x="606.8" y="637.2" width="1.7" height="1.7" fill="#e6a4aa"/><rect x="611.8" y="619.0" width="1.7" height="1.7" fill="#e6a4aa"/><rect x="617.3" y="605.0" width="1.7" height="1.7" fill="#e6a4aa"/><rect x="626.6" y="575.8" width="1.7" height="1.7" fill="#e6a4aa"/><rect x="632.5" y="563.7" width="1.7" height="1.7" fill="#e6a4aa"/><rect x="637.6" y="547.8" width="1.7" height="1.7" fill="#e6a4aa"/><rect x="641.7" y="540.0" width="1.7" height="1.7" fill="#e6a4aa"/><rect x="647.5" y="526.6" width="1.7" height="1.7" fill="#e6a4aa"/><rect x="652.2" y="515.1" width="1.7" height="1.7" fill="#e6a4aa"/><rect x="663.1" y="506.1" width="1.7" height="1.7" fill="#e6a4aa"/><rect x="668.0" y="503.9" width="1.7" height="1.7" fill="#e6a4aa"/><rect x="672.8" y="501.5" width="1.7" height="1.7" fill="#e6a4aa"/><rect x="678.5" y="500.5" width="1.7" height="1.7" fill="#e6a4aa"/><rect x="683.0" y="500.6" width="1.7" height="1.7" fill="#e6a4aa"/><rect x="698.1" y="493.3" width="1.7" height="1.7" fill="#e6a4aa"/><rect x="704.1" y="491.8" width="1.7" height="1.7" fill="#e6a4aa"/><rect x="708.1" y="491.6" width="1.7" height="1.7" fill="#e6a4aa"/><rect x="713.5" y="484.2" width="1.7" height="1.7" fill="#e6a4aa"/><rect x="718.8" y="485.5" width="1.7" height="1.7" fill="#e6a4aa"/><rect x="723.8" y="486.7" width="1.7" height="1.7" fill="#e6a4aa"/><rect x="729.6" y="487.7" width="1.7" height="1.7" fill="#e6a4aa"/><rect x="734.2" y="487.9" width="1.7" height="1.7" fill="#e6a4aa"/><rect x="738.9" y="490.3" width="1.7" height="1.7" fill="#e6a4aa"/><rect x="744.3" y="496.5" width="1.7" height="1.7" fill="#e6a4aa"/><rect x="749.6" y="495.1" width="1.7" height="1.7" fill="#e6a4aa"/><rect x="759.2" y="507.7" width="1.7" height="1.7" fill="#e6a4aa"/><rect x="764.9" y="512.1" width="1.7" height="1.7" fill="#e6a4aa"/><rect x="774.7" y="529.9" width="1.7" height="1.7" fill="#e6a4aa"/><rect x="780.2" y="541.9" width="1.7" height="1.7" fill="#e6a4aa"/><rect x="785.6" y="553.9" width="1.7" height="1.7" fill="#e6a4aa"/><rect x="795.2" y="580.8" width="1.7" height="1.7" fill="#e6a4aa"/><rect x="801.0" y="600.1" width="1.7" height="1.7" fill="#e6a4aa"/><rect x="805.9" y="617.3" width="1.7" height="1.7" fill="#e6a4aa"/><rect x="810.8" y="625.5" width="1.7" height="1.7" fill="#e6a4aa"/><rect x="815.6" y="652.5" width="1.7" height="1.7" fill="#e6a4aa"/><rect x="820.8" y="655.7" width="1.7" height="1.7" fill="#e6a4aa"/><rect x="831.6" y="687.6" width="1.7" height="1.7" fill="#e6a4aa"/><rect x="590.5" y="650.2" width="1.7" height="1.7" fill="#b9a0c0"/><rect x="596.8" y="633.7" width="1.7" height="1.7" fill="#b9a0c0"/><rect x="601.4" y="621.1" width="1.7" height="1.7" fill="#b9a0c0"/><rect x="606.9" y="602.0" width="1.7" height="1.7" fill="#b9a0c0"/><rect x="611.7" y="583.3" width="1.7" height="1.7" fill="#b9a0c0"/><rect x="616.9" y="571.1" width="1.7" height="1.7" fill="#b9a0c0"/><rect x="622.1" y="553.5" width="1.7" height="1.7" fill="#b9a0c0"/><rect x="627.5" y="540.5" width="1.7" height="1.7" fill="#b9a0c0"/><rect x="632.3" y="530.6" width="1.7" height="1.7" fill="#b9a0c0"/><rect x="637.5" y="518.3" width="1.7" height="1.7" fill="#b9a0c0"/><rect x="642.5" y="517.1" width="1.7" height="1.7" fill="#b9a0c0"/><rect x="646.8" y="510.6" width="1.7" height="1.7" fill="#b9a0c0"/><rect x="651.9" y="506.6" width="1.7" height="1.7" fill="#b9a0c0"/><rect x="657.9" y="507.0" width="1.7" height="1.7" fill="#b9a0c0"/><rect x="663.2" y="500.5" width="1.7" height="1.7" fill="#b9a0c0"/><rect x="667.5" y="501.2" width="1.7" height="1.7" fill="#b9a0c0"/><rect x="682.6" y="489.0" width="1.7" height="1.7" fill="#b9a0c0"/><rect x="687.9" y="491.9" width="1.7" height="1.7" fill="#b9a0c0"/><rect x="693.4" y="487.9" width="1.7" height="1.7" fill="#b9a0c0"/><rect x="698.4" y="487.5" width="1.7" height="1.7" fill="#b9a0c0"/><rect x="703.5" y="487.4" width="1.7" height="1.7" fill="#b9a0c0"/><rect x="708.8" y="489.0" width="1.7" height="1.7" fill="#b9a0c0"/><rect x="724.3" y="493.0" width="1.7" height="1.7" fill="#b9a0c0"/><rect x="728.5" y="500.0" width="1.7" height="1.7" fill="#b9a0c0"/><rect x="734.5" y="503.3" width="1.7" height="1.7" fill="#b9a0c0"/><rect x="739.1" y="511.5" width="1.7" height="1.7" fill="#b9a0c0"/><rect x="745.0" y="515.6" width="1.7" height="1.7" fill="#b9a0c0"/><rect x="749.0" y="523.3" width="1.7" height="1.7" fill="#b9a0c0"/><rect x="754.8" y="535.1" width="1.7" height="1.7" fill="#b9a0c0"/><rect x="759.7" y="545.8" width="1.7" height="1.7" fill="#b9a0c0"/><rect x="764.9" y="562.4" width="1.7" height="1.7" fill="#b9a0c0"/><rect x="769.5" y="579.2" width="1.7" height="1.7" fill="#b9a0c0"/><rect x="774.6" y="599.4" width="1.7" height="1.7" fill="#b9a0c0"/><rect x="780.8" y="607.3" width="1.7" height="1.7" fill="#b9a0c0"/><rect x="785.2" y="632.1" width="1.7" height="1.7" fill="#b9a0c0"/><rect x="790.5" y="645.4" width="1.7" height="1.7" fill="#b9a0c0"/><rect x="795.5" y="657.8" width="1.7" height="1.7" fill="#b9a0c0"/><rect x="800.9" y="670.6" width="1.7" height="1.7" fill="#b9a0c0"/><rect x="805.6" y="684.2" width="1.7" height="1.7" fill="#b9a0c0"/><rect x="580.4" y="689.1" width="1.7" height="1.7" fill="#b9a0c0"/><rect x="586.6" y="680.2" width="1.7" height="1.7" fill="#b9a0c0"/><rect x="590.7" y="669.7" width="1.7" height="1.7" fill="#b9a0c0"/><rect x="596.7" y="659.1" width="1.7" height="1.7" fill="#b9a0c0"/><rect x="607.0" y="626.9" width="1.7" height="1.7" fill="#b9a0c0"/><rect x="611.4" y="624.3" width="1.7" height="1.7" fill="#b9a0c0"/><rect x="616.5" y="610.2" width="1.7" height="1.7" fill="#b9a0c0"/><rect x="627.2" y="575.6" width="1.7" height="1.7" fill="#b9a0c0"/><rect x="632.1" y="564.3" width="1.7" height="1.7" fill="#b9a0c0"/><rect x="637.2" y="550.0" width="1.7" height="1.7" fill="#b9a0c0"/><rect x="642.7" y="536.6" width="1.7" height="1.7" fill="#b9a0c0"/><rect x="647.0" y="525.2" width="1.7" height="1.7" fill="#b9a0c0"/><rect x="652.2" y="520.3" width="1.7" height="1.7" fill="#b9a0c0"/><rect x="657.0" y="516.6" width="1.7" height="1.7" fill="#b9a0c0"/><rect x="662.2" y="515.0" width="1.7" height="1.7" fill="#b9a0c0"/><rect x="673.2" y="501.0" width="1.7" height="1.7" fill="#b9a0c0"/><rect x="678.3" y="502.6" width="1.7" height="1.7" fill="#b9a0c0"/><rect x="688.1" y="499.7" width="1.7" height="1.7" fill="#b9a0c0"/><rect x="698.3" y="493.7" width="1.7" height="1.7" fill="#b9a0c0"/><rect x="703.4" y="487.7" width="1.7" height="1.7" fill="#b9a0c0"/><rect x="709.1" y="482.8" width="1.7" height="1.7" fill="#b9a0c0"/><rect x="713.5" y="488.4" width="1.7" height="1.7" fill="#b9a0c0"/><rect x="718.9" y="487.1" width="1.7" height="1.7" fill="#b9a0c0"/><rect x="723.8" y="485.4" width="1.7" height="1.7" fill="#b9a0c0"/><rect x="729.0" y="488.5" width="1.7" height="1.7" fill="#b9a0c0"/><rect x="734.2" y="481.4" width="1.7" height="1.7" fill="#b9a0c0"/><rect x="739.2" y="486.5" width="1.7" height="1.7" fill="#b9a0c0"/><rect x="743.9" y="492.1" width="1.7" height="1.7" fill="#b9a0c0"/><rect x="749.0" y="492.1" width="1.7" height="1.7" fill="#b9a0c0"/><rect x="754.5" y="501.9" width="1.7" height="1.7" fill="#b9a0c0"/><rect x="759.8" y="503.6" width="1.7" height="1.7" fill="#b9a0c0"/><rect x="764.8" y="506.1" width="1.7" height="1.7" fill="#b9a0c0"/><rect x="769.7" y="514.1" width="1.7" height="1.7" fill="#b9a0c0"/><rect x="775.0" y="523.3" width="1.7" height="1.7" fill="#b9a0c0"/><rect x="780.3" y="532.9" width="1.7" height="1.7" fill="#b9a0c0"/><rect x="790.3" y="557.1" width="1.7" height="1.7" fill="#b9a0c0"/><rect x="795.3" y="565.8" width="1.7" height="1.7" fill="#b9a0c0"/><rect x="800.1" y="580.2" width="1.7" height="1.7" fill="#b9a0c0"/><rect x="806.0" y="593.1" width="1.7" height="1.7" fill="#b9a0c0"/><rect x="811.3" y="612.5" width="1.7" height="1.7" fill="#b9a0c0"/><rect x="815.5" y="629.2" width="1.7" height="1.7" fill="#b9a0c0"/><rect x="820.9" y="638.1" width="1.7" height="1.7" fill="#b9a0c0"/><rect x="825.8" y="651.6" width="1.7" height="1.7" fill="#b9a0c0"/><rect x="831.4" y="668.0" width="1.7" height="1.7" fill="#b9a0c0"/><rect x="580.5" y="681.6" width="1.7" height="1.7" fill="#e6a4aa"/><rect x="586.2" y="676.5" width="1.7" height="1.7" fill="#e6a4aa"/><rect x="590.9" y="664.1" width="1.7" height="1.7" fill="#e6a4aa"/><rect x="596.5" y="655.2" width="1.7" height="1.7" fill="#e6a4aa"/><rect x="601.6" y="636.5" width="1.7" height="1.7" fill="#e6a4aa"/><rect x="606.9" y="625.0" width="1.7" height="1.7" fill="#e6a4aa"/><rect x="611.1" y="608.7" width="1.7" height="1.7" fill="#e6a4aa"/><rect x="616.9" y="597.9" width="1.7" height="1.7" fill="#e6a4aa"/><rect x="622.0" y="579.7" width="1.7" height="1.7" fill="#e6a4aa"/><rect x="626.4" y="562.6" width="1.7" height="1.7" fill="#e6a4aa"/><rect x="631.7" y="548.3" width="1.7" height="1.7" fill="#e6a4aa"/><rect x="636.7" y="540.5" width="1.7" height="1.7" fill="#e6a4aa"/><rect x="642.1" y="526.1" width="1.7" height="1.7" fill="#e6a4aa"/><rect x="647.3" y="525.9" width="1.7" height="1.7" fill="#e6a4aa"/><rect x="652.3" y="513.8" width="1.7" height="1.7" fill="#e6a4aa"/><rect x="657.7" y="505.9" width="1.7" height="1.7" fill="#e6a4aa"/><rect x="663.1" y="507.6" width="1.7" height="1.7" fill="#e6a4aa"/><rect x="668.0" y="502.5" width="1.7" height="1.7" fill="#e6a4aa"/><rect x="673.3" y="503.5" width="1.7" height="1.7" fill="#e6a4aa"/><rect x="678.0" y="495.8" width="1.7" height="1.7" fill="#e6a4aa"/><rect x="683.1" y="494.3" width="1.7" height="1.7" fill="#e6a4aa"/><rect x="688.2" y="491.3" width="1.7" height="1.7" fill="#e6a4aa"/><rect x="693.1" y="491.9" width="1.7" height="1.7" fill="#e6a4aa"/><rect x="698.9" y="484.3" width="1.7" height="1.7" fill="#e6a4aa"/><rect x="703.4" y="486.9" width="1.7" height="1.7" fill="#e6a4aa"/><rect x="708.4" y="487.5" width="1.7" height="1.7" fill="#e6a4aa"/><rect x="714.0" y="479.3" width="1.7" height="1.7" fill="#e6a4aa"/><rect x="718.6" y="482.9" width="1.7" height="1.7" fill="#e6a4aa"/><rect x="723.6" y="484.3" width="1.7" height="1.7" fill="#e6a4aa"/><rect x="728.9" y="484.4" width="1.7" height="1.7" fill="#e6a4aa"/><rect x="734.3" y="490.3" width="1.7" height="1.7" fill="#e6a4aa"/><rect x="738.9" y="494.6" width="1.7" height="1.7" fill="#e6a4aa"/><rect x="744.5" y="495.8" width="1.7" height="1.7" fill="#e6a4aa"/><rect x="749.0" y="498.4" width="1.7" height="1.7" fill="#e6a4aa"/><rect x="754.6" y="506.8" width="1.7" height="1.7" fill="#e6a4aa"/><rect x="759.8" y="510.5" width="1.7" height="1.7" fill="#e6a4aa"/><rect x="765.2" y="520.5" width="1.7" height="1.7" fill="#e6a4aa"/><rect x="775.5" y="535.3" width="1.7" height="1.7" fill="#e6a4aa"/><rect x="785.1" y="565.1" width="1.7" height="1.7" fill="#e6a4aa"/><rect x="790.0" y="578.2" width="1.7" height="1.7" fill="#e6a4aa"/><rect x="795.3" y="595.6" width="1.7" height="1.7" fill="#e6a4aa"/><rect x="800.8" y="610.2" width="1.7" height="1.7" fill="#e6a4aa"/><rect x="805.9" y="622.5" width="1.7" height="1.7" fill="#e6a4aa"/><rect x="810.6" y="641.2" width="1.7" height="1.7" fill="#e6a4aa"/><rect x="816.2" y="660.0" width="1.7" height="1.7" fill="#e6a4aa"/><rect x="821.0" y="665.8" width="1.7" height="1.7" fill="#e6a4aa"/><rect x="826.0" y="682.6" width="1.7" height="1.7" fill="#e6a4aa"/><rect x="831.1" y="696.1" width="1.7" height="1.7" fill="#e6a4aa"/><rect x="585.9" y="686.6" width="1.7" height="1.7" fill="#cf93a3"/><rect x="591.0" y="680.3" width="1.7" height="1.7" fill="#cf93a3"/><rect x="596.2" y="667.1" width="1.7" height="1.7" fill="#cf93a3"/><rect x="601.4" y="654.3" width="1.7" height="1.7" fill="#cf93a3"/><rect x="607.0" y="637.5" width="1.7" height="1.7" fill="#cf93a3"/><rect x="611.6" y="621.9" width="1.7" height="1.7" fill="#cf93a3"/><rect x="616.5" y="604.4" width="1.7" height="1.7" fill="#cf93a3"/><rect x="621.3" y="587.5" width="1.7" height="1.7" fill="#cf93a3"/><rect x="626.6" y="573.4" width="1.7" height="1.7" fill="#cf93a3"/><rect x="631.6" y="553.7" width="1.7" height="1.7" fill="#cf93a3"/><rect x="636.8" y="541.3" width="1.7" height="1.7" fill="#cf93a3"/><rect x="642.6" y="527.9" width="1.7" height="1.7" fill="#cf93a3"/><rect x="647.6" y="517.5" width="1.7" height="1.7" fill="#cf93a3"/><rect x="652.1" y="511.9" width="1.7" height="1.7" fill="#cf93a3"/><rect x="657.9" y="503.5" width="1.7" height="1.7" fill="#cf93a3"/><rect x="662.9" y="501.9" width="1.7" height="1.7" fill="#cf93a3"/><rect x="668.2" y="500.7" width="1.7" height="1.7" fill="#cf93a3"/><rect x="672.9" y="495.5" width="1.7" height="1.7" fill="#cf93a3"/><rect x="677.7" y="496.9" width="1.7" height="1.7" fill="#cf93a3"/><rect x="683.2" y="487.9" width="1.7" height="1.7" fill="#cf93a3"/><rect x="688.4" y="485.9" width="1.7" height="1.7" fill="#cf93a3"/><rect x="693.6" y="484.8" width="1.7" height="1.7" fill="#cf93a3"/><rect x="698.7" y="479.3" width="1.7" height="1.7" fill="#cf93a3"/><rect x="703.0" y="483.8" width="1.7" height="1.7" fill="#cf93a3"/><rect x="708.3" y="482.0" width="1.7" height="1.7" fill="#cf93a3"/><rect x="714.3" y="488.0" width="1.7" height="1.7" fill="#cf93a3"/><rect x="718.5" y="487.5" width="1.7" height="1.7" fill="#cf93a3"/><rect x="724.2" y="484.7" width="1.7" height="1.7" fill="#cf93a3"/><rect x="729.2" y="487.1" width="1.7" height="1.7" fill="#cf93a3"/><rect x="733.8" y="490.4" width="1.7" height="1.7" fill="#cf93a3"/><rect x="750.1" y="511.1" width="1.7" height="1.7" fill="#cf93a3"/><rect x="754.4" y="515.9" width="1.7" height="1.7" fill="#cf93a3"/><rect x="760.0" y="526.5" width="1.7" height="1.7" fill="#cf93a3"/><rect x="764.3" y="541.9" width="1.7" height="1.7" fill="#cf93a3"/><rect x="769.5" y="560.6" width="1.7" height="1.7" fill="#cf93a3"/><rect x="775.0" y="568.2" width="1.7" height="1.7" fill="#cf93a3"/><rect x="780.0" y="595.6" width="1.7" height="1.7" fill="#cf93a3"/><rect x="785.3" y="608.4" width="1.7" height="1.7" fill="#cf93a3"/><rect x="790.3" y="627.9" width="1.7" height="1.7" fill="#cf93a3"/><rect x="800.7" y="657.9" width="1.7" height="1.7" fill="#cf93a3"/><rect x="805.2" y="676.9" width="1.7" height="1.7" fill="#cf93a3"/><rect x="585.8" y="689.9" width="1.7" height="1.7" fill="#d8a8b4"/><rect x="596.8" y="673.2" width="1.7" height="1.7" fill="#d8a8b4"/><rect x="601.5" y="661.2" width="1.7" height="1.7" fill="#d8a8b4"/><rect x="606.1" y="641.6" width="1.7" height="1.7" fill="#d8a8b4"/><rect x="612.2" y="627.7" width="1.7" height="1.7" fill="#d8a8b4"/><rect x="622.3" y="606.3" width="1.7" height="1.7" fill="#d8a8b4"/><rect x="626.3" y="588.0" width="1.7" height="1.7" fill="#d8a8b4"/><rect x="632.5" y="568.3" width="1.7" height="1.7" fill="#d8a8b4"/><rect x="636.6" y="557.2" width="1.7" height="1.7" fill="#d8a8b4"/><rect x="642.0" y="544.8" width="1.7" height="1.7" fill="#d8a8b4"/><rect x="646.9" y="529.7" width="1.7" height="1.7" fill="#d8a8b4"/><rect x="651.9" y="517.5" width="1.7" height="1.7" fill="#d8a8b4"/><rect x="657.2" y="512.2" width="1.7" height="1.7" fill="#d8a8b4"/><rect x="667.8" y="509.6" width="1.7" height="1.7" fill="#d8a8b4"/><rect x="672.4" y="502.5" width="1.7" height="1.7" fill="#d8a8b4"/><rect x="677.4" y="505.3" width="1.7" height="1.7" fill="#d8a8b4"/><rect x="688.7" y="494.2" width="1.7" height="1.7" fill="#d8a8b4"/><rect x="693.2" y="492.1" width="1.7" height="1.7" fill="#d8a8b4"/><rect x="698.6" y="492.2" width="1.7" height="1.7" fill="#d8a8b4"/><rect x="708.6" y="485.1" width="1.7" height="1.7" fill="#d8a8b4"/><rect x="713.6" y="485.5" width="1.7" height="1.7" fill="#d8a8b4"/><rect x="718.9" y="482.9" width="1.7" height="1.7" fill="#d8a8b4"/><rect x="723.8" y="488.8" width="1.7" height="1.7" fill="#d8a8b4"/><rect x="733.9" y="486.5" width="1.7" height="1.7" fill="#d8a8b4"/><rect x="738.8" y="486.8" width="1.7" height="1.7" fill="#d8a8b4"/><rect x="744.9" y="489.2" width="1.7" height="1.7" fill="#d8a8b4"/><rect x="749.3" y="490.2" width="1.7" height="1.7" fill="#d8a8b4"/><rect x="755.0" y="489.8" width="1.7" height="1.7" fill="#d8a8b4"/><rect x="760.0" y="497.3" width="1.7" height="1.7" fill="#d8a8b4"/><rect x="764.5" y="503.4" width="1.7" height="1.7" fill="#d8a8b4"/><rect x="770.2" y="508.5" width="1.7" height="1.7" fill="#d8a8b4"/><rect x="775.1" y="514.8" width="1.7" height="1.7" fill="#d8a8b4"/><rect x="780.2" y="525.3" width="1.7" height="1.7" fill="#d8a8b4"/><rect x="785.5" y="538.8" width="1.7" height="1.7" fill="#d8a8b4"/><rect x="790.9" y="550.6" width="1.7" height="1.7" fill="#d8a8b4"/><rect x="795.8" y="564.3" width="1.7" height="1.7" fill="#d8a8b4"/><rect x="800.2" y="586.4" width="1.7" height="1.7" fill="#d8a8b4"/><rect x="805.9" y="598.3" width="1.7" height="1.7" fill="#d8a8b4"/><rect x="810.6" y="615.9" width="1.7" height="1.7" fill="#d8a8b4"/><rect x="815.5" y="628.0" width="1.7" height="1.7" fill="#d8a8b4"/><rect x="821.5" y="646.6" width="1.7" height="1.7" fill="#d8a8b4"/><rect x="826.7" y="660.5" width="1.7" height="1.7" fill="#d8a8b4"/><rect x="830.7" y="670.9" width="1.7" height="1.7" fill="#d8a8b4"/><rect x="580.6" y="659.9" width="1.7" height="1.7" fill="#e6a4aa"/><rect x="586.5" y="650.2" width="1.7" height="1.7" fill="#e6a4aa"/><rect x="590.9" y="638.2" width="1.7" height="1.7" fill="#e6a4aa"/><rect x="596.3" y="627.5" width="1.7" height="1.7" fill="#e6a4aa"/><rect x="601.1" y="613.7" width="1.7" height="1.7" fill="#e6a4aa"/><rect x="607.0" y="593.9" width="1.7" height="1.7" fill="#e6a4aa"/><rect x="611.3" y="579.8" width="1.7" height="1.7" fill="#e6a4aa"/><rect x="616.3" y="566.3" width="1.7" height="1.7" fill="#e6a4aa"/><rect x="621.9" y="546.9" width="1.7" height="1.7" fill="#e6a4aa"/><rect x="631.5" y="532.9" width="1.7" height="1.7" fill="#e6a4aa"/><rect x="637.7" y="521.8" width="1.7" height="1.7" fill="#e6a4aa"/><rect x="642.7" y="513.0" width="1.7" height="1.7" fill="#e6a4aa"/><rect x="647.8" y="510.6" width="1.7" height="1.7" fill="#e6a4aa"/><rect x="652.3" y="507.0" width="1.7" height="1.7" fill="#e6a4aa"/><rect x="657.1" y="504.4" width="1.7" height="1.7" fill="#e6a4aa"/><rect x="662.1" y="501.2" width="1.7" height="1.7" fill="#e6a4aa"/><rect x="667.6" y="498.5" width="1.7" height="1.7" fill="#e6a4aa"/><rect x="678.1" y="491.7" width="1.7" height="1.7" fill="#e6a4aa"/><rect x="683.1" y="491.9" width="1.7" height="1.7" fill="#e6a4aa"/><rect x="688.1" y="486.9" width="1.7" height="1.7" fill="#e6a4aa"/><rect x="692.9" y="488.4" width="1.7" height="1.7" fill="#e6a4aa"/><rect x="698.4" y="485.6" width="1.7" height="1.7" fill="#e6a4aa"/><rect x="703.4" y="490.0" width="1.7" height="1.7" fill="#e6a4aa"/><rect x="708.5" y="485.2" width="1.7" height="1.7" fill="#e6a4aa"/><rect x="718.8" y="488.9" width="1.7" height="1.7" fill="#e6a4aa"/><rect x="724.2" y="487.0" width="1.7" height="1.7" fill="#e6a4aa"/><rect x="729.5" y="488.3" width="1.7" height="1.7" fill="#e6a4aa"/><rect x="734.6" y="492.5" width="1.7" height="1.7" fill="#e6a4aa"/><rect x="739.7" y="493.0" width="1.7" height="1.7" fill="#e6a4aa"/><rect x="744.9" y="498.6" width="1.7" height="1.7" fill="#e6a4aa"/><rect x="749.1" y="502.8" width="1.7" height="1.7" fill="#e6a4aa"/><rect x="754.6" y="510.5" width="1.7" height="1.7" fill="#e6a4aa"/><rect x="760.0" y="516.1" width="1.7" height="1.7" fill="#e6a4aa"/><rect x="764.9" y="537.1" width="1.7" height="1.7" fill="#e6a4aa"/><rect x="775.5" y="550.2" width="1.7" height="1.7" fill="#e6a4aa"/><rect x="780.4" y="564.5" width="1.7" height="1.7" fill="#e6a4aa"/><rect x="790.4" y="595.4" width="1.7" height="1.7" fill="#e6a4aa"/><rect x="795.2" y="611.2" width="1.7" height="1.7" fill="#e6a4aa"/><rect x="801.0" y="625.5" width="1.7" height="1.7" fill="#e6a4aa"/><rect x="805.2" y="643.3" width="1.7" height="1.7" fill="#e6a4aa"/><rect x="810.5" y="660.3" width="1.7" height="1.7" fill="#e6a4aa"/><rect x="815.5" y="668.8" width="1.7" height="1.7" fill="#e6a4aa"/><rect x="821.3" y="683.7" width="1.7" height="1.7" fill="#e6a4aa"/><rect x="581.0" y="691.4" width="1.7" height="1.7" fill="#d8a8b4"/><rect x="586.5" y="678.3" width="1.7" height="1.7" fill="#d8a8b4"/><rect x="590.9" y="670.9" width="1.7" height="1.7" fill="#d8a8b4"/><rect x="596.1" y="657.4" width="1.7" height="1.7" fill="#d8a8b4"/><rect x="601.2" y="645.7" width="1.7" height="1.7" fill="#d8a8b4"/><rect x="606.5" y="636.1" width="1.7" height="1.7" fill="#d8a8b4"/><rect x="612.1" y="612.1" width="1.7" height="1.7" fill="#d8a8b4"/><rect x="616.6" y="593.5" width="1.7" height="1.7" fill="#d8a8b4"/><rect x="626.9" y="565.3" width="1.7" height="1.7" fill="#d8a8b4"/><rect x="632.1" y="551.1" width="1.7" height="1.7" fill="#d8a8b4"/><rect x="637.5" y="533.2" width="1.7" height="1.7" fill="#d8a8b4"/><rect x="641.7" y="523.1" width="1.7" height="1.7" fill="#d8a8b4"/><rect x="647.7" y="528.1" width="1.7" height="1.7" fill="#d8a8b4"/><rect x="652.9" y="515.2" width="1.7" height="1.7" fill="#d8a8b4"/><rect x="658.1" y="508.1" width="1.7" height="1.7" fill="#d8a8b4"/><rect x="663.2" y="505.8" width="1.7" height="1.7" fill="#d8a8b4"/><rect x="667.5" y="494.1" width="1.7" height="1.7" fill="#d8a8b4"/><rect x="672.5" y="497.6" width="1.7" height="1.7" fill="#d8a8b4"/><rect x="677.5" y="495.3" width="1.7" height="1.7" fill="#d8a8b4"/><rect x="683.6" y="495.6" width="1.7" height="1.7" fill="#d8a8b4"/><rect x="688.6" y="488.8" width="1.7" height="1.7" fill="#d8a8b4"/><rect x="693.1" y="493.2" width="1.7" height="1.7" fill="#d8a8b4"/><rect x="698.4" y="487.3" width="1.7" height="1.7" fill="#d8a8b4"/><rect x="704.0" y="486.5" width="1.7" height="1.7" fill="#d8a8b4"/><rect x="713.4" y="484.9" width="1.7" height="1.7" fill="#d8a8b4"/><rect x="718.7" y="486.7" width="1.7" height="1.7" fill="#d8a8b4"/><rect x="724.0" y="485.6" width="1.7" height="1.7" fill="#d8a8b4"/><rect x="729.2" y="489.2" width="1.7" height="1.7" fill="#d8a8b4"/><rect x="734.0" y="491.4" width="1.7" height="1.7" fill="#d8a8b4"/><rect x="739.7" y="496.8" width="1.7" height="1.7" fill="#d8a8b4"/><rect x="744.3" y="499.5" width="1.7" height="1.7" fill="#d8a8b4"/><rect x="749.5" y="504.9" width="1.7" height="1.7" fill="#d8a8b4"/><rect x="754.1" y="511.9" width="1.7" height="1.7" fill="#d8a8b4"/><rect x="760.3" y="516.8" width="1.7" height="1.7" fill="#d8a8b4"/><rect x="764.7" y="527.0" width="1.7" height="1.7" fill="#d8a8b4"/><rect x="774.5" y="549.1" width="1.7" height="1.7" fill="#d8a8b4"/><rect x="780.1" y="567.1" width="1.7" height="1.7" fill="#d8a8b4"/><rect x="785.8" y="577.8" width="1.7" height="1.7" fill="#d8a8b4"/><rect x="790.0" y="595.1" width="1.7" height="1.7" fill="#d8a8b4"/><rect x="795.0" y="614.1" width="1.7" height="1.7" fill="#d8a8b4"/><rect x="800.8" y="626.0" width="1.7" height="1.7" fill="#d8a8b4"/><rect x="805.6" y="642.6" width="1.7" height="1.7" fill="#d8a8b4"/><rect x="810.6" y="651.6" width="1.7" height="1.7" fill="#d8a8b4"/><rect x="815.7" y="675.1" width="1.7" height="1.7" fill="#d8a8b4"/><rect x="820.8" y="683.3" width="1.7" height="1.7" fill="#d8a8b4"/><rect x="581.3" y="637.8" width="1.7" height="1.7" fill="#e9b8bd"/><rect x="586.3" y="622.0" width="1.7" height="1.7" fill="#e9b8bd"/><rect x="590.8" y="610.1" width="1.7" height="1.7" fill="#e9b8bd"/><rect x="596.3" y="591.9" width="1.7" height="1.7" fill="#e9b8bd"/><rect x="601.8" y="581.2" width="1.7" height="1.7" fill="#e9b8bd"/><rect x="606.3" y="563.1" width="1.7" height="1.7" fill="#e9b8bd"/><rect x="611.6" y="554.3" width="1.7" height="1.7" fill="#e9b8bd"/><rect x="617.3" y="537.3" width="1.7" height="1.7" fill="#e9b8bd"/><rect x="621.4" y="528.6" width="1.7" height="1.7" fill="#e9b8bd"/><rect x="627.3" y="522.6" width="1.7" height="1.7" fill="#e9b8bd"/><rect x="632.0" y="513.1" width="1.7" height="1.7" fill="#e9b8bd"/><rect x="637.2" y="504.8" width="1.7" height="1.7" fill="#e9b8bd"/><rect x="642.8" y="507.4" width="1.7" height="1.7" fill="#e9b8bd"/><rect x="653.0" y="502.3" width="1.7" height="1.7" fill="#e9b8bd"/><rect x="657.0" y="500.9" width="1.7" height="1.7" fill="#e9b8bd"/><rect x="662.8" y="496.5" width="1.7" height="1.7" fill="#e9b8bd"/><rect x="667.3" y="493.1" width="1.7" height="1.7" fill="#e9b8bd"/><rect x="672.6" y="486.1" width="1.7" height="1.7" fill="#e9b8bd"/><rect x="678.3" y="486.5" width="1.7" height="1.7" fill="#e9b8bd"/><rect x="683.1" y="488.5" width="1.7" height="1.7" fill="#e9b8bd"/><rect x="688.5" y="481.7" width="1.7" height="1.7" fill="#e9b8bd"/><rect x="697.9" y="486.9" width="1.7" height="1.7" fill="#e9b8bd"/><rect x="703.5" y="484.7" width="1.7" height="1.7" fill="#e9b8bd"/><rect x="708.8" y="484.6" width="1.7" height="1.7" fill="#e9b8bd"/><rect x="714.2" y="485.3" width="1.7" height="1.7" fill="#e9b8bd"/><rect x="718.4" y="490.8" width="1.7" height="1.7" fill="#e9b8bd"/><rect x="724.3" y="489.6" width="1.7" height="1.7" fill="#e9b8bd"/><rect x="734.6" y="498.5" width="1.7" height="1.7" fill="#e9b8bd"/><rect x="739.7" y="507.1" width="1.7" height="1.7" fill="#e9b8bd"/><rect x="744.6" y="507.4" width="1.7" height="1.7" fill="#e9b8bd"/><rect x="750.1" y="525.4" width="1.7" height="1.7" fill="#e9b8bd"/><rect x="759.4" y="534.6" width="1.7" height="1.7" fill="#e9b8bd"/><rect x="765.2" y="551.4" width="1.7" height="1.7" fill="#e9b8bd"/><rect x="770.6" y="564.6" width="1.7" height="1.7" fill="#e9b8bd"/><rect x="774.7" y="577.3" width="1.7" height="1.7" fill="#e9b8bd"/><rect x="780.1" y="599.5" width="1.7" height="1.7" fill="#e9b8bd"/><rect x="785.4" y="608.2" width="1.7" height="1.7" fill="#e9b8bd"/><rect x="790.8" y="625.8" width="1.7" height="1.7" fill="#e9b8bd"/><rect x="795.4" y="642.4" width="1.7" height="1.7" fill="#e9b8bd"/><rect x="800.6" y="655.1" width="1.7" height="1.7" fill="#e9b8bd"/><rect x="805.5" y="668.9" width="1.7" height="1.7" fill="#e9b8bd"/><rect x="810.3" y="679.1" width="1.7" height="1.7" fill="#e9b8bd"/><rect x="815.8" y="696.1" width="1.7" height="1.7" fill="#e9b8bd"/><rect x="601.4" y="684.5" width="1.7" height="1.7" fill="#e6a4aa"/><rect x="606.2" y="675.0" width="1.7" height="1.7" fill="#e6a4aa"/><rect x="611.1" y="665.5" width="1.7" height="1.7" fill="#e6a4aa"/><rect x="617.2" y="657.2" width="1.7" height="1.7" fill="#e6a4aa"/><rect x="622.3" y="641.7" width="1.7" height="1.7" fill="#e6a4aa"/><rect x="627.3" y="624.9" width="1.7" height="1.7" fill="#e6a4aa"/><rect x="632.4" y="607.4" width="1.7" height="1.7" fill="#e6a4aa"/><rect x="636.8" y="593.2" width="1.7" height="1.7" fill="#e6a4aa"/><rect x="642.5" y="576.4" width="1.7" height="1.7" fill="#e6a4aa"/><rect x="652.1" y="538.9" width="1.7" height="1.7" fill="#e6a4aa"/><rect x="657.9" y="532.2" width="1.7" height="1.7" fill="#e6a4aa"/><rect x="662.4" y="527.5" width="1.7" height="1.7" fill="#e6a4aa"/><rect x="667.3" y="514.9" width="1.7" height="1.7" fill="#e6a4aa"/><rect x="673.4" y="510.2" width="1.7" height="1.7" fill="#e6a4aa"/><rect x="677.5" y="505.1" width="1.7" height="1.7" fill="#e6a4aa"/><rect x="683.4" y="498.7" width="1.7" height="1.7" fill="#e6a4aa"/><rect x="688.4" y="497.4" width="1.7" height="1.7" fill="#e6a4aa"/><rect x="693.2" y="493.3" width="1.7" height="1.7" fill="#e6a4aa"/><rect x="698.0" y="496.3" width="1.7" height="1.7" fill="#e6a4aa"/><rect x="703.3" y="488.9" width="1.7" height="1.7" fill="#e6a4aa"/><rect x="708.7" y="483.6" width="1.7" height="1.7" fill="#e6a4aa"/><rect x="714.0" y="484.4" width="1.7" height="1.7" fill="#e6a4aa"/><rect x="719.1" y="482.0" width="1.7" height="1.7" fill="#e6a4aa"/><rect x="724.1" y="487.4" width="1.7" height="1.7" fill="#e6a4aa"/><rect x="729.1" y="479.3" width="1.7" height="1.7" fill="#e6a4aa"/><rect x="734.2" y="481.9" width="1.7" height="1.7" fill="#e6a4aa"/><rect x="739.3" y="483.2" width="1.7" height="1.7" fill="#e6a4aa"/><rect x="744.8" y="479.3" width="1.7" height="1.7" fill="#e6a4aa"/><rect x="754.8" y="489.6" width="1.7" height="1.7" fill="#e6a4aa"/><rect x="760.3" y="488.8" width="1.7" height="1.7" fill="#e6a4aa"/><rect x="765.1" y="494.5" width="1.7" height="1.7" fill="#e6a4aa"/><rect x="770.1" y="501.7" width="1.7" height="1.7" fill="#e6a4aa"/><rect x="775.1" y="503.8" width="1.7" height="1.7" fill="#e6a4aa"/><rect x="780.3" y="514.2" width="1.7" height="1.7" fill="#e6a4aa"/><rect x="785.8" y="518.0" width="1.7" height="1.7" fill="#e6a4aa"/><rect x="795.5" y="547.4" width="1.7" height="1.7" fill="#e6a4aa"/><rect x="806.2" y="577.6" width="1.7" height="1.7" fill="#e6a4aa"/><rect x="810.4" y="591.7" width="1.7" height="1.7" fill="#e6a4aa"/><rect x="816.0" y="610.2" width="1.7" height="1.7" fill="#e6a4aa"/><rect x="821.2" y="626.2" width="1.7" height="1.7" fill="#e6a4aa"/><rect x="826.5" y="636.2" width="1.7" height="1.7" fill="#e6a4aa"/><rect x="585.9" y="683.1" width="1.7" height="1.7" fill="#e9b8bd"/><rect x="596.1" y="672.3" width="1.7" height="1.7" fill="#e9b8bd"/><rect x="601.8" y="658.3" width="1.7" height="1.7" fill="#e9b8bd"/><rect x="606.6" y="643.5" width="1.7" height="1.7" fill="#e9b8bd"/><rect x="617.2" y="611.4" width="1.7" height="1.7" fill="#e9b8bd"/><rect x="621.6" y="604.2" width="1.7" height="1.7" fill="#e9b8bd"/><rect x="631.7" y="566.3" width="1.7" height="1.7" fill="#e9b8bd"/><rect x="636.5" y="555.7" width="1.7" height="1.7" fill="#e9b8bd"/><rect x="642.7" y="546.2" width="1.7" height="1.7" fill="#e9b8bd"/><rect x="646.7" y="540.1" width="1.7" height="1.7" fill="#e9b8bd"/><rect x="652.4" y="527.5" width="1.7" height="1.7" fill="#e9b8bd"/><rect x="657.4" y="516.8" width="1.7" height="1.7" fill="#e9b8bd"/><rect x="668.0" y="506.5" width="1.7" height="1.7" fill="#e9b8bd"/><rect x="672.8" y="507.0" width="1.7" height="1.7" fill="#e9b8bd"/><rect x="677.7" y="498.9" width="1.7" height="1.7" fill="#e9b8bd"/><rect x="688.0" y="496.7" width="1.7" height="1.7" fill="#e9b8bd"/><rect x="692.8" y="494.8" width="1.7" height="1.7" fill="#e9b8bd"/><rect x="703.8" y="491.8" width="1.7" height="1.7" fill="#e9b8bd"/><rect x="708.3" y="488.0" width="1.7" height="1.7" fill="#e9b8bd"/><rect x="713.6" y="493.3" width="1.7" height="1.7" fill="#e9b8bd"/><rect x="718.5" y="483.6" width="1.7" height="1.7" fill="#e9b8bd"/><rect x="728.9" y="491.1" width="1.7" height="1.7" fill="#e9b8bd"/><rect x="739.3" y="491.8" width="1.7" height="1.7" fill="#e9b8bd"/><rect x="743.9" y="491.1" width="1.7" height="1.7" fill="#e9b8bd"/><rect x="765.0" y="505.5" width="1.7" height="1.7" fill="#e9b8bd"/><rect x="770.6" y="509.0" width="1.7" height="1.7" fill="#e9b8bd"/><rect x="775.3" y="517.2" width="1.7" height="1.7" fill="#e9b8bd"/><rect x="779.8" y="529.2" width="1.7" height="1.7" fill="#e9b8bd"/><rect x="785.0" y="538.5" width="1.7" height="1.7" fill="#e9b8bd"/><rect x="790.0" y="542.1" width="1.7" height="1.7" fill="#e9b8bd"/><rect x="795.3" y="560.5" width="1.7" height="1.7" fill="#e9b8bd"/><rect x="801.2" y="572.7" width="1.7" height="1.7" fill="#e9b8bd"/><rect x="805.8" y="591.9" width="1.7" height="1.7" fill="#e9b8bd"/><rect x="811.3" y="605.2" width="1.7" height="1.7" fill="#e9b8bd"/><rect x="820.8" y="634.6" width="1.7" height="1.7" fill="#e9b8bd"/><rect x="825.9" y="651.5" width="1.7" height="1.7" fill="#e9b8bd"/><rect x="831.9" y="662.1" width="1.7" height="1.7" fill="#e9b8bd"/><rect x="601.1" y="689.3" width="1.7" height="1.7" fill="#e9b8bd"/><rect x="606.1" y="682.1" width="1.7" height="1.7" fill="#e9b8bd"/><rect x="611.1" y="665.6" width="1.7" height="1.7" fill="#e9b8bd"/><rect x="621.4" y="649.0" width="1.7" height="1.7" fill="#e9b8bd"/><rect x="626.7" y="630.4" width="1.7" height="1.7" fill="#e9b8bd"/><rect x="632.4" y="615.4" width="1.7" height="1.7" fill="#e9b8bd"/><rect x="636.8" y="600.5" width="1.7" height="1.7" fill="#e9b8bd"/><rect x="641.7" y="584.6" width="1.7" height="1.7" fill="#e9b8bd"/><rect x="647.8" y="569.1" width="1.7" height="1.7" fill="#e9b8bd"/><rect x="651.9" y="556.5" width="1.7" height="1.7" fill="#e9b8bd"/><rect x="662.2" y="527.6" width="1.7" height="1.7" fill="#e9b8bd"/><rect x="668.2" y="521.5" width="1.7" height="1.7" fill="#e9b8bd"/><rect x="672.6" y="514.2" width="1.7" height="1.7" fill="#e9b8bd"/><rect x="677.7" y="512.0" width="1.7" height="1.7" fill="#e9b8bd"/><rect x="683.1" y="508.5" width="1.7" height="1.7" fill="#e9b8bd"/><rect x="688.7" y="505.5" width="1.7" height="1.7" fill="#e9b8bd"/><rect x="693.0" y="503.3" width="1.7" height="1.7" fill="#e9b8bd"/><rect x="708.6" y="492.4" width="1.7" height="1.7" fill="#e9b8bd"/><rect x="714.3" y="494.0" width="1.7" height="1.7" fill="#e9b8bd"/><rect x="718.9" y="490.1" width="1.7" height="1.7" fill="#e9b8bd"/><rect x="723.8" y="486.3" width="1.7" height="1.7" fill="#e9b8bd"/><rect x="729.2" y="487.3" width="1.7" height="1.7" fill="#e9b8bd"/><rect x="734.2" y="482.7" width="1.7" height="1.7" fill="#e9b8bd"/><rect x="739.7" y="487.4" width="1.7" height="1.7" fill="#e9b8bd"/><rect x="744.2" y="488.4" width="1.7" height="1.7" fill="#e9b8bd"/><rect x="749.0" y="489.2" width="1.7" height="1.7" fill="#e9b8bd"/><rect x="754.6" y="493.8" width="1.7" height="1.7" fill="#e9b8bd"/><rect x="759.5" y="491.4" width="1.7" height="1.7" fill="#e9b8bd"/><rect x="764.9" y="495.8" width="1.7" height="1.7" fill="#e9b8bd"/><rect x="769.5" y="500.8" width="1.7" height="1.7" fill="#e9b8bd"/><rect x="774.6" y="509.9" width="1.7" height="1.7" fill="#e9b8bd"/><rect x="780.4" y="508.7" width="1.7" height="1.7" fill="#e9b8bd"/><rect x="785.0" y="525.1" width="1.7" height="1.7" fill="#e9b8bd"/><rect x="789.8" y="533.9" width="1.7" height="1.7" fill="#e9b8bd"/><rect x="795.4" y="540.3" width="1.7" height="1.7" fill="#e9b8bd"/><rect x="800.8" y="555.2" width="1.7" height="1.7" fill="#e9b8bd"/><rect x="805.7" y="573.5" width="1.7" height="1.7" fill="#e9b8bd"/><rect x="810.9" y="583.8" width="1.7" height="1.7" fill="#e9b8bd"/><rect x="815.7" y="601.7" width="1.7" height="1.7" fill="#e9b8bd"/><rect x="820.8" y="619.4" width="1.7" height="1.7" fill="#e9b8bd"/><rect x="826.1" y="632.2" width="1.7" height="1.7" fill="#e9b8bd"/><rect x="831.3" y="649.0" width="1.7" height="1.7" fill="#e9b8bd"/><rect x="580.8" y="675.8" width="1.7" height="1.7" fill="#b2acd8"/><rect x="590.7" y="654.4" width="1.7" height="1.7" fill="#b2acd8"/><rect x="601.6" y="634.3" width="1.7" height="1.7" fill="#b2acd8"/><rect x="606.4" y="626.2" width="1.7" height="1.7" fill="#b2acd8"/><rect x="612.1" y="613.8" width="1.7" height="1.7" fill="#b2acd8"/><rect x="616.5" y="600.5" width="1.7" height="1.7" fill="#b2acd8"/><rect x="622.0" y="594.2" width="1.7" height="1.7" fill="#b2acd8"/><rect x="627.1" y="582.7" width="1.7" height="1.7" fill="#b2acd8"/><rect x="631.9" y="567.0" width="1.7" height="1.7" fill="#b2acd8"/><rect x="637.6" y="560.8" width="1.7" height="1.7" fill="#b2acd8"/><rect x="642.1" y="544.8" width="1.7" height="1.7" fill="#b2acd8"/><rect x="646.8" y="540.1" width="1.7" height="1.7" fill="#b2acd8"/><rect x="657.5" y="530.3" width="1.7" height="1.7" fill="#b2acd8"/><rect x="663.2" y="524.7" width="1.7" height="1.7" fill="#b2acd8"/><rect x="668.1" y="517.0" width="1.7" height="1.7" fill="#b2acd8"/><rect x="672.3" y="510.4" width="1.7" height="1.7" fill="#b2acd8"/><rect x="677.9" y="506.1" width="1.7" height="1.7" fill="#b2acd8"/><rect x="682.5" y="496.8" width="1.7" height="1.7" fill="#b2acd8"/><rect x="688.7" y="497.8" width="1.7" height="1.7" fill="#b2acd8"/><rect x="693.8" y="494.0" width="1.7" height="1.7" fill="#b2acd8"/><rect x="698.1" y="489.4" width="1.7" height="1.7" fill="#b2acd8"/><rect x="703.9" y="487.3" width="1.7" height="1.7" fill="#b2acd8"/><rect x="708.7" y="482.2" width="1.7" height="1.7" fill="#b2acd8"/><rect x="714.1" y="481.1" width="1.7" height="1.7" fill="#b2acd8"/><rect x="719.5" y="485.5" width="1.7" height="1.7" fill="#b2acd8"/><rect x="729.3" y="485.7" width="1.7" height="1.7" fill="#b2acd8"/><rect x="739.8" y="493.0" width="1.7" height="1.7" fill="#b2acd8"/><rect x="744.1" y="495.2" width="1.7" height="1.7" fill="#b2acd8"/><rect x="750.0" y="494.4" width="1.7" height="1.7" fill="#b2acd8"/><rect x="759.7" y="506.0" width="1.7" height="1.7" fill="#b2acd8"/><rect x="765.4" y="512.2" width="1.7" height="1.7" fill="#b2acd8"/><rect x="769.5" y="522.0" width="1.7" height="1.7" fill="#b2acd8"/><rect x="775.1" y="533.6" width="1.7" height="1.7" fill="#b2acd8"/><rect x="779.7" y="547.3" width="1.7" height="1.7" fill="#b2acd8"/><rect x="785.5" y="556.9" width="1.7" height="1.7" fill="#b2acd8"/><rect x="790.5" y="573.0" width="1.7" height="1.7" fill="#b2acd8"/><rect x="795.8" y="595.8" width="1.7" height="1.7" fill="#b2acd8"/><rect x="800.7" y="609.7" width="1.7" height="1.7" fill="#b2acd8"/><rect x="805.8" y="630.3" width="1.7" height="1.7" fill="#b2acd8"/><rect x="810.6" y="637.4" width="1.7" height="1.7" fill="#b2acd8"/><rect x="816.4" y="653.4" width="1.7" height="1.7" fill="#b2acd8"/><rect x="820.9" y="671.4" width="1.7" height="1.7" fill="#b2acd8"/><rect x="826.6" y="684.3" width="1.7" height="1.7" fill="#b2acd8"/><rect x="831.7" y="694.6" width="1.7" height="1.7" fill="#b2acd8"/><rect x="581.3" y="673.5" width="1.7" height="1.7" fill="#a9a2cc"/><rect x="586.1" y="666.1" width="1.7" height="1.7" fill="#a9a2cc"/><rect x="601.8" y="646.0" width="1.7" height="1.7" fill="#a9a2cc"/><rect x="606.0" y="633.9" width="1.7" height="1.7" fill="#a9a2cc"/><rect x="612.2" y="619.4" width="1.7" height="1.7" fill="#a9a2cc"/><rect x="616.9" y="611.5" width="1.7" height="1.7" fill="#a9a2cc"/><rect x="621.5" y="599.1" width="1.7" height="1.7" fill="#a9a2cc"/><rect x="626.8" y="579.5" width="1.7" height="1.7" fill="#a9a2cc"/><rect x="632.4" y="575.5" width="1.7" height="1.7" fill="#a9a2cc"/><rect x="636.8" y="562.8" width="1.7" height="1.7" fill="#a9a2cc"/><rect x="647.6" y="547.9" width="1.7" height="1.7" fill="#a9a2cc"/><rect x="662.3" y="524.3" width="1.7" height="1.7" fill="#a9a2cc"/><rect x="667.8" y="515.6" width="1.7" height="1.7" fill="#a9a2cc"/><rect x="672.9" y="512.4" width="1.7" height="1.7" fill="#a9a2cc"/><rect x="677.9" y="510.9" width="1.7" height="1.7" fill="#a9a2cc"/><rect x="683.2" y="499.4" width="1.7" height="1.7" fill="#a9a2cc"/><rect x="688.4" y="500.2" width="1.7" height="1.7" fill="#a9a2cc"/><rect x="693.8" y="491.9" width="1.7" height="1.7" fill="#a9a2cc"/><rect x="703.4" y="487.7" width="1.7" height="1.7" fill="#a9a2cc"/><rect x="708.3" y="487.5" width="1.7" height="1.7" fill="#a9a2cc"/><rect x="714.3" y="489.3" width="1.7" height="1.7" fill="#a9a2cc"/><rect x="719.2" y="490.5" width="1.7" height="1.7" fill="#a9a2cc"/><rect x="724.4" y="490.5" width="1.7" height="1.7" fill="#a9a2cc"/><rect x="729.2" y="487.6" width="1.7" height="1.7" fill="#a9a2cc"/><rect x="739.5" y="501.5" width="1.7" height="1.7" fill="#a9a2cc"/><rect x="744.7" y="495.7" width="1.7" height="1.7" fill="#a9a2cc"/><rect x="749.6" y="504.4" width="1.7" height="1.7" fill="#a9a2cc"/><rect x="754.4" y="502.3" width="1.7" height="1.7" fill="#a9a2cc"/><rect x="760.3" y="516.2" width="1.7" height="1.7" fill="#a9a2cc"/><rect x="775.3" y="544.8" width="1.7" height="1.7" fill="#a9a2cc"/><rect x="780.6" y="560.8" width="1.7" height="1.7" fill="#a9a2cc"/><rect x="790.9" y="591.1" width="1.7" height="1.7" fill="#a9a2cc"/><rect x="795.7" y="614.0" width="1.7" height="1.7" fill="#a9a2cc"/><rect x="800.4" y="628.1" width="1.7" height="1.7" fill="#a9a2cc"/><rect x="805.6" y="642.5" width="1.7" height="1.7" fill="#a9a2cc"/><rect x="811.2" y="653.4" width="1.7" height="1.7" fill="#a9a2cc"/><rect x="816.0" y="672.4" width="1.7" height="1.7" fill="#a9a2cc"/><rect x="826.2" y="694.7" width="1.7" height="1.7" fill="#a9a2cc"/><rect x="580.6" y="670.0" width="1.7" height="1.7" fill="#9d9ad0"/><rect x="586.4" y="656.6" width="1.7" height="1.7" fill="#9d9ad0"/><rect x="591.1" y="651.9" width="1.7" height="1.7" fill="#9d9ad0"/><rect x="596.1" y="638.5" width="1.7" height="1.7" fill="#9d9ad0"/><rect x="601.2" y="634.5" width="1.7" height="1.7" fill="#9d9ad0"/><rect x="606.5" y="619.5" width="1.7" height="1.7" fill="#9d9ad0"/><rect x="611.0" y="607.4" width="1.7" height="1.7" fill="#9d9ad0"/><rect x="617.2" y="595.0" width="1.7" height="1.7" fill="#9d9ad0"/><rect x="621.4" y="582.8" width="1.7" height="1.7" fill="#9d9ad0"/><rect x="627.0" y="569.4" width="1.7" height="1.7" fill="#9d9ad0"/><rect x="636.7" y="553.6" width="1.7" height="1.7" fill="#9d9ad0"/><rect x="641.7" y="548.6" width="1.7" height="1.7" fill="#9d9ad0"/><rect x="647.8" y="540.8" width="1.7" height="1.7" fill="#9d9ad0"/><rect x="652.7" y="531.3" width="1.7" height="1.7" fill="#9d9ad0"/><rect x="657.1" y="524.4" width="1.7" height="1.7" fill="#9d9ad0"/><rect x="662.7" y="519.7" width="1.7" height="1.7" fill="#9d9ad0"/><rect x="668.1" y="511.3" width="1.7" height="1.7" fill="#9d9ad0"/><rect x="677.6" y="503.4" width="1.7" height="1.7" fill="#9d9ad0"/><rect x="683.2" y="501.2" width="1.7" height="1.7" fill="#9d9ad0"/><rect x="688.4" y="493.5" width="1.7" height="1.7" fill="#9d9ad0"/><rect x="693.7" y="488.4" width="1.7" height="1.7" fill="#9d9ad0"/><rect x="699.0" y="485.6" width="1.7" height="1.7" fill="#9d9ad0"/><rect x="704.1" y="484.7" width="1.7" height="1.7" fill="#9d9ad0"/><rect x="709.2" y="483.2" width="1.7" height="1.7" fill="#9d9ad0"/><rect x="713.9" y="480.9" width="1.7" height="1.7" fill="#9d9ad0"/><rect x="718.7" y="483.4" width="1.7" height="1.7" fill="#9d9ad0"/><rect x="728.5" y="491.9" width="1.7" height="1.7" fill="#9d9ad0"/><rect x="733.7" y="495.3" width="1.7" height="1.7" fill="#9d9ad0"/><rect x="738.9" y="491.6" width="1.7" height="1.7" fill="#9d9ad0"/><rect x="744.0" y="492.3" width="1.7" height="1.7" fill="#9d9ad0"/><rect x="750.1" y="498.5" width="1.7" height="1.7" fill="#9d9ad0"/><rect x="760.3" y="511.5" width="1.7" height="1.7" fill="#9d9ad0"/><rect x="765.1" y="521.6" width="1.7" height="1.7" fill="#9d9ad0"/><rect x="769.7" y="533.5" width="1.7" height="1.7" fill="#9d9ad0"/><rect x="775.3" y="545.8" width="1.7" height="1.7" fill="#9d9ad0"/><rect x="780.6" y="559.3" width="1.7" height="1.7" fill="#9d9ad0"/><rect x="784.9" y="577.4" width="1.7" height="1.7" fill="#9d9ad0"/><rect x="790.4" y="597.1" width="1.7" height="1.7" fill="#9d9ad0"/><rect x="795.3" y="609.1" width="1.7" height="1.7" fill="#9d9ad0"/><rect x="801.2" y="627.4" width="1.7" height="1.7" fill="#9d9ad0"/><rect x="806.3" y="644.2" width="1.7" height="1.7" fill="#9d9ad0"/><rect x="810.7" y="657.6" width="1.7" height="1.7" fill="#9d9ad0"/><rect x="815.7" y="670.2" width="1.7" height="1.7" fill="#9d9ad0"/><rect x="826.2" y="696.1" width="1.7" height="1.7" fill="#9d9ad0"/><rect x="606.3" y="687.1" width="1.7" height="1.7" fill="#b2acd8"/><rect x="612.0" y="673.7" width="1.7" height="1.7" fill="#b2acd8"/><rect x="616.2" y="667.3" width="1.7" height="1.7" fill="#b2acd8"/><rect x="621.9" y="659.2" width="1.7" height="1.7" fill="#b2acd8"/><rect x="626.6" y="650.5" width="1.7" height="1.7" fill="#b2acd8"/><rect x="637.5" y="624.0" width="1.7" height="1.7" fill="#b2acd8"/><rect x="641.8" y="616.4" width="1.7" height="1.7" fill="#b2acd8"/><rect x="647.1" y="598.0" width="1.7" height="1.7" fill="#b2acd8"/><rect x="652.4" y="590.7" width="1.7" height="1.7" fill="#b2acd8"/><rect x="657.7" y="576.5" width="1.7" height="1.7" fill="#b2acd8"/><rect x="662.3" y="560.8" width="1.7" height="1.7" fill="#b2acd8"/><rect x="667.9" y="555.2" width="1.7" height="1.7" fill="#b2acd8"/><rect x="673.2" y="548.8" width="1.7" height="1.7" fill="#b2acd8"/><rect x="677.8" y="537.0" width="1.7" height="1.7" fill="#b2acd8"/><rect x="683.0" y="533.5" width="1.7" height="1.7" fill="#b2acd8"/><rect x="688.3" y="523.0" width="1.7" height="1.7" fill="#b2acd8"/><rect x="698.4" y="513.1" width="1.7" height="1.7" fill="#b2acd8"/><rect x="704.1" y="504.5" width="1.7" height="1.7" fill="#b2acd8"/><rect x="709.2" y="500.2" width="1.7" height="1.7" fill="#b2acd8"/><rect x="713.3" y="494.2" width="1.7" height="1.7" fill="#b2acd8"/><rect x="719.2" y="488.2" width="1.7" height="1.7" fill="#b2acd8"/><rect x="724.3" y="486.1" width="1.7" height="1.7" fill="#b2acd8"/><rect x="728.9" y="486.9" width="1.7" height="1.7" fill="#b2acd8"/><rect x="734.3" y="484.2" width="1.7" height="1.7" fill="#b2acd8"/><rect x="739.7" y="485.5" width="1.7" height="1.7" fill="#b2acd8"/><rect x="744.4" y="487.0" width="1.7" height="1.7" fill="#b2acd8"/><rect x="749.1" y="484.1" width="1.7" height="1.7" fill="#b2acd8"/><rect x="755.1" y="485.4" width="1.7" height="1.7" fill="#b2acd8"/><rect x="759.9" y="490.1" width="1.7" height="1.7" fill="#b2acd8"/><rect x="764.5" y="493.1" width="1.7" height="1.7" fill="#b2acd8"/><rect x="769.7" y="499.7" width="1.7" height="1.7" fill="#b2acd8"/><rect x="775.4" y="500.2" width="1.7" height="1.7" fill="#b2acd8"/><rect x="779.8" y="507.5" width="1.7" height="1.7" fill="#b2acd8"/><rect x="785.4" y="515.5" width="1.7" height="1.7" fill="#b2acd8"/><rect x="790.5" y="523.2" width="1.7" height="1.7" fill="#b2acd8"/><rect x="796.1" y="541.7" width="1.7" height="1.7" fill="#b2acd8"/><rect x="800.1" y="555.8" width="1.7" height="1.7" fill="#b2acd8"/><rect x="806.3" y="577.6" width="1.7" height="1.7" fill="#b2acd8"/><rect x="810.6" y="594.1" width="1.7" height="1.7" fill="#b2acd8"/><rect x="815.6" y="614.5" width="1.7" height="1.7" fill="#b2acd8"/><rect x="821.1" y="633.3" width="1.7" height="1.7" fill="#b2acd8"/><rect x="831.4" y="661.6" width="1.7" height="1.7" fill="#b2acd8"/><rect x="581.2" y="689.0" width="1.7" height="1.7" fill="#9d9ad0"/><rect x="586.1" y="680.5" width="1.7" height="1.7" fill="#9d9ad0"/><rect x="595.6" y="669.3" width="1.7" height="1.7" fill="#9d9ad0"/><rect x="601.1" y="659.6" width="1.7" height="1.7" fill="#9d9ad0"/><rect x="611.6" y="639.0" width="1.7" height="1.7" fill="#9d9ad0"/><rect x="622.3" y="614.9" width="1.7" height="1.7" fill="#9d9ad0"/><rect x="631.7" y="597.0" width="1.7" height="1.7" fill="#9d9ad0"/><rect x="637.5" y="588.4" width="1.7" height="1.7" fill="#9d9ad0"/><rect x="652.8" y="553.4" width="1.7" height="1.7" fill="#9d9ad0"/><rect x="657.9" y="544.6" width="1.7" height="1.7" fill="#9d9ad0"/><rect x="662.5" y="537.7" width="1.7" height="1.7" fill="#9d9ad0"/><rect x="668.1" y="531.0" width="1.7" height="1.7" fill="#9d9ad0"/><rect x="673.3" y="525.2" width="1.7" height="1.7" fill="#9d9ad0"/><rect x="677.5" y="522.5" width="1.7" height="1.7" fill="#9d9ad0"/><rect x="683.3" y="512.4" width="1.7" height="1.7" fill="#9d9ad0"/><rect x="688.1" y="506.7" width="1.7" height="1.7" fill="#9d9ad0"/><rect x="693.3" y="502.6" width="1.7" height="1.7" fill="#9d9ad0"/><rect x="698.1" y="497.5" width="1.7" height="1.7" fill="#9d9ad0"/><rect x="703.9" y="492.1" width="1.7" height="1.7" fill="#9d9ad0"/><rect x="708.6" y="491.9" width="1.7" height="1.7" fill="#9d9ad0"/><rect x="714.0" y="483.8" width="1.7" height="1.7" fill="#9d9ad0"/><rect x="718.8" y="487.8" width="1.7" height="1.7" fill="#9d9ad0"/><rect x="724.5" y="483.3" width="1.7" height="1.7" fill="#9d9ad0"/><rect x="729.5" y="485.4" width="1.7" height="1.7" fill="#9d9ad0"/><rect x="734.1" y="485.0" width="1.7" height="1.7" fill="#9d9ad0"/><rect x="739.0" y="490.4" width="1.7" height="1.7" fill="#9d9ad0"/><rect x="744.4" y="487.5" width="1.7" height="1.7" fill="#9d9ad0"/><rect x="749.4" y="489.8" width="1.7" height="1.7" fill="#9d9ad0"/><rect x="754.5" y="493.6" width="1.7" height="1.7" fill="#9d9ad0"/><rect x="764.5" y="499.0" width="1.7" height="1.7" fill="#9d9ad0"/><rect x="769.7" y="501.1" width="1.7" height="1.7" fill="#9d9ad0"/><rect x="775.1" y="508.7" width="1.7" height="1.7" fill="#9d9ad0"/><rect x="780.4" y="519.8" width="1.7" height="1.7" fill="#9d9ad0"/><rect x="785.0" y="525.0" width="1.7" height="1.7" fill="#9d9ad0"/><rect x="790.0" y="540.9" width="1.7" height="1.7" fill="#9d9ad0"/><rect x="795.2" y="557.8" width="1.7" height="1.7" fill="#9d9ad0"/><rect x="806.0" y="591.8" width="1.7" height="1.7" fill="#9d9ad0"/><rect x="815.5" y="624.2" width="1.7" height="1.7" fill="#9d9ad0"/><rect x="821.3" y="643.5" width="1.7" height="1.7" fill="#9d9ad0"/><rect x="826.1" y="656.3" width="1.7" height="1.7" fill="#9d9ad0"/><rect x="831.9" y="660.6" width="1.7" height="1.7" fill="#9d9ad0"/><rect x="580.8" y="679.2" width="1.7" height="1.7" fill="#8a85c2"/><rect x="590.6" y="661.8" width="1.7" height="1.7" fill="#8a85c2"/><rect x="601.2" y="641.0" width="1.7" height="1.7" fill="#8a85c2"/><rect x="606.7" y="631.9" width="1.7" height="1.7" fill="#8a85c2"/><rect x="616.5" y="607.1" width="1.7" height="1.7" fill="#8a85c2"/><rect x="621.6" y="597.2" width="1.7" height="1.7" fill="#8a85c2"/><rect x="627.2" y="592.0" width="1.7" height="1.7" fill="#8a85c2"/><rect x="631.6" y="574.7" width="1.7" height="1.7" fill="#8a85c2"/><rect x="636.9" y="567.4" width="1.7" height="1.7" fill="#8a85c2"/><rect x="642.6" y="558.4" width="1.7" height="1.7" fill="#8a85c2"/><rect x="647.1" y="554.5" width="1.7" height="1.7" fill="#8a85c2"/><rect x="652.5" y="539.9" width="1.7" height="1.7" fill="#8a85c2"/><rect x="657.5" y="534.8" width="1.7" height="1.7" fill="#8a85c2"/><rect x="667.7" y="525.1" width="1.7" height="1.7" fill="#8a85c2"/><rect x="677.7" y="512.5" width="1.7" height="1.7" fill="#8a85c2"/><rect x="683.6" y="507.1" width="1.7" height="1.7" fill="#8a85c2"/><rect x="688.4" y="506.8" width="1.7" height="1.7" fill="#8a85c2"/><rect x="693.0" y="496.5" width="1.7" height="1.7" fill="#8a85c2"/><rect x="698.0" y="494.1" width="1.7" height="1.7" fill="#8a85c2"/><rect x="703.4" y="490.3" width="1.7" height="1.7" fill="#8a85c2"/><rect x="709.2" y="489.3" width="1.7" height="1.7" fill="#8a85c2"/><rect x="713.2" y="488.9" width="1.7" height="1.7" fill="#8a85c2"/><rect x="719.1" y="487.2" width="1.7" height="1.7" fill="#8a85c2"/><rect x="724.2" y="487.9" width="1.7" height="1.7" fill="#8a85c2"/><rect x="734.4" y="491.7" width="1.7" height="1.7" fill="#8a85c2"/><rect x="738.8" y="488.4" width="1.7" height="1.7" fill="#8a85c2"/><rect x="744.1" y="496.4" width="1.7" height="1.7" fill="#8a85c2"/><rect x="749.8" y="500.1" width="1.7" height="1.7" fill="#8a85c2"/><rect x="754.8" y="500.3" width="1.7" height="1.7" fill="#8a85c2"/><rect x="765.3" y="507.9" width="1.7" height="1.7" fill="#8a85c2"/><rect x="769.5" y="515.5" width="1.7" height="1.7" fill="#8a85c2"/><rect x="775.4" y="528.8" width="1.7" height="1.7" fill="#8a85c2"/><rect x="780.3" y="543.7" width="1.7" height="1.7" fill="#8a85c2"/><rect x="785.4" y="548.8" width="1.7" height="1.7" fill="#8a85c2"/><rect x="790.4" y="564.0" width="1.7" height="1.7" fill="#8a85c2"/><rect x="796.1" y="579.2" width="1.7" height="1.7" fill="#8a85c2"/><rect x="800.3" y="595.1" width="1.7" height="1.7" fill="#8a85c2"/><rect x="816.3" y="638.4" width="1.7" height="1.7" fill="#8a85c2"/><rect x="821.0" y="660.2" width="1.7" height="1.7" fill="#8a85c2"/><rect x="826.6" y="672.6" width="1.7" height="1.7" fill="#8a85c2"/><rect x="831.7" y="683.2" width="1.7" height="1.7" fill="#8a85c2"/><rect x="606.4" y="684.9" width="1.7" height="1.7" fill="#a9a2cc"/><rect x="611.1" y="678.0" width="1.7" height="1.7" fill="#a9a2cc"/><rect x="616.5" y="668.8" width="1.7" height="1.7" fill="#a9a2cc"/><rect x="626.7" y="649.8" width="1.7" height="1.7" fill="#a9a2cc"/><rect x="631.9" y="630.4" width="1.7" height="1.7" fill="#a9a2cc"/><rect x="636.8" y="620.3" width="1.7" height="1.7" fill="#a9a2cc"/><rect x="641.9" y="612.0" width="1.7" height="1.7" fill="#a9a2cc"/><rect x="647.9" y="596.5" width="1.7" height="1.7" fill="#a9a2cc"/><rect x="652.1" y="584.1" width="1.7" height="1.7" fill="#a9a2cc"/><rect x="657.7" y="567.0" width="1.7" height="1.7" fill="#a9a2cc"/><rect x="662.6" y="559.0" width="1.7" height="1.7" fill="#a9a2cc"/><rect x="667.3" y="549.1" width="1.7" height="1.7" fill="#a9a2cc"/><rect x="677.7" y="535.3" width="1.7" height="1.7" fill="#a9a2cc"/><rect x="688.5" y="517.8" width="1.7" height="1.7" fill="#a9a2cc"/><rect x="693.2" y="511.5" width="1.7" height="1.7" fill="#a9a2cc"/><rect x="697.9" y="503.8" width="1.7" height="1.7" fill="#a9a2cc"/><rect x="703.6" y="505.4" width="1.7" height="1.7" fill="#a9a2cc"/><rect x="709.2" y="495.0" width="1.7" height="1.7" fill="#a9a2cc"/><rect x="724.1" y="485.8" width="1.7" height="1.7" fill="#a9a2cc"/><rect x="729.4" y="484.0" width="1.7" height="1.7" fill="#a9a2cc"/><rect x="734.8" y="485.5" width="1.7" height="1.7" fill="#a9a2cc"/><rect x="739.8" y="485.7" width="1.7" height="1.7" fill="#a9a2cc"/><rect x="744.1" y="488.2" width="1.7" height="1.7" fill="#a9a2cc"/><rect x="749.5" y="488.9" width="1.7" height="1.7" fill="#a9a2cc"/><rect x="754.3" y="494.6" width="1.7" height="1.7" fill="#a9a2cc"/><rect x="764.5" y="500.8" width="1.7" height="1.7" fill="#a9a2cc"/><rect x="770.4" y="509.0" width="1.7" height="1.7" fill="#a9a2cc"/><rect x="775.7" y="512.1" width="1.7" height="1.7" fill="#a9a2cc"/><rect x="779.9" y="521.7" width="1.7" height="1.7" fill="#a9a2cc"/><rect x="785.1" y="538.1" width="1.7" height="1.7" fill="#a9a2cc"/><rect x="790.3" y="551.1" width="1.7" height="1.7" fill="#a9a2cc"/><rect x="796.0" y="568.1" width="1.7" height="1.7" fill="#a9a2cc"/><rect x="800.1" y="581.7" width="1.7" height="1.7" fill="#a9a2cc"/><rect x="805.2" y="605.3" width="1.7" height="1.7" fill="#a9a2cc"/><rect x="810.8" y="626.8" width="1.7" height="1.7" fill="#a9a2cc"/><rect x="821.5" y="662.0" width="1.7" height="1.7" fill="#a9a2cc"/><rect x="826.6" y="672.1" width="1.7" height="1.7" fill="#a9a2cc"/><rect x="831.5" y="685.5" width="1.7" height="1.7" fill="#a9a2cc"/><rect x="596.7" y="682.4" width="1.7" height="1.7" fill="#9d9ad0"/><rect x="601.1" y="672.0" width="1.7" height="1.7" fill="#9d9ad0"/><rect x="606.4" y="667.5" width="1.7" height="1.7" fill="#9d9ad0"/><rect x="611.9" y="664.9" width="1.7" height="1.7" fill="#9d9ad0"/><rect x="616.3" y="652.9" width="1.7" height="1.7" fill="#9d9ad0"/><rect x="621.4" y="637.3" width="1.7" height="1.7" fill="#9d9ad0"/><rect x="627.0" y="627.6" width="1.7" height="1.7" fill="#9d9ad0"/><rect x="631.8" y="615.3" width="1.7" height="1.7" fill="#9d9ad0"/><rect x="637.4" y="609.8" width="1.7" height="1.7" fill="#9d9ad0"/><rect x="642.3" y="596.6" width="1.7" height="1.7" fill="#9d9ad0"/><rect x="647.8" y="585.1" width="1.7" height="1.7" fill="#9d9ad0"/><rect x="652.2" y="571.6" width="1.7" height="1.7" fill="#9d9ad0"/><rect x="658.1" y="563.4" width="1.7" height="1.7" fill="#9d9ad0"/><rect x="668.0" y="548.2" width="1.7" height="1.7" fill="#9d9ad0"/><rect x="678.3" y="529.5" width="1.7" height="1.7" fill="#9d9ad0"/><rect x="693.0" y="511.8" width="1.7" height="1.7" fill="#9d9ad0"/><rect x="698.3" y="507.4" width="1.7" height="1.7" fill="#9d9ad0"/><rect x="703.0" y="507.6" width="1.7" height="1.7" fill="#9d9ad0"/><rect x="708.5" y="499.1" width="1.7" height="1.7" fill="#9d9ad0"/><rect x="713.9" y="491.9" width="1.7" height="1.7" fill="#9d9ad0"/><rect x="723.5" y="486.5" width="1.7" height="1.7" fill="#9d9ad0"/><rect x="729.2" y="486.0" width="1.7" height="1.7" fill="#9d9ad0"/><rect x="734.3" y="487.3" width="1.7" height="1.7" fill="#9d9ad0"/><rect x="739.1" y="484.8" width="1.7" height="1.7" fill="#9d9ad0"/><rect x="744.4" y="489.8" width="1.7" height="1.7" fill="#9d9ad0"/><rect x="749.6" y="492.5" width="1.7" height="1.7" fill="#9d9ad0"/><rect x="754.5" y="498.3" width="1.7" height="1.7" fill="#9d9ad0"/><rect x="759.7" y="492.9" width="1.7" height="1.7" fill="#9d9ad0"/><rect x="765.2" y="502.0" width="1.7" height="1.7" fill="#9d9ad0"/><rect x="769.8" y="508.4" width="1.7" height="1.7" fill="#9d9ad0"/><rect x="775.1" y="507.8" width="1.7" height="1.7" fill="#9d9ad0"/><rect x="785.7" y="525.6" width="1.7" height="1.7" fill="#9d9ad0"/><rect x="795.5" y="552.9" width="1.7" height="1.7" fill="#9d9ad0"/><rect x="800.4" y="562.1" width="1.7" height="1.7" fill="#9d9ad0"/><rect x="811.2" y="606.3" width="1.7" height="1.7" fill="#9d9ad0"/><rect x="816.2" y="621.3" width="1.7" height="1.7" fill="#9d9ad0"/><rect x="821.0" y="637.5" width="1.7" height="1.7" fill="#9d9ad0"/><rect x="826.1" y="652.6" width="1.7" height="1.7" fill="#9d9ad0"/><rect x="831.2" y="663.5" width="1.7" height="1.7" fill="#9d9ad0"/><rect x="591.5" y="686.1" width="1.7" height="1.7" fill="#7d78b8"/><rect x="611.4" y="649.5" width="1.7" height="1.7" fill="#7d78b8"/><rect x="621.4" y="631.2" width="1.7" height="1.7" fill="#7d78b8"/><rect x="627.1" y="616.5" width="1.7" height="1.7" fill="#7d78b8"/><rect x="631.4" y="604.5" width="1.7" height="1.7" fill="#7d78b8"/><rect x="636.8" y="589.3" width="1.7" height="1.7" fill="#7d78b8"/><rect x="642.0" y="577.7" width="1.7" height="1.7" fill="#7d78b8"/><rect x="647.3" y="569.3" width="1.7" height="1.7" fill="#7d78b8"/><rect x="658.0" y="547.6" width="1.7" height="1.7" fill="#7d78b8"/><rect x="662.7" y="537.6" width="1.7" height="1.7" fill="#7d78b8"/><rect x="673.1" y="528.5" width="1.7" height="1.7" fill="#7d78b8"/><rect x="678.3" y="514.6" width="1.7" height="1.7" fill="#7d78b8"/><rect x="682.9" y="515.2" width="1.7" height="1.7" fill="#7d78b8"/><rect x="698.2" y="492.1" width="1.7" height="1.7" fill="#7d78b8"/><rect x="703.3" y="486.9" width="1.7" height="1.7" fill="#7d78b8"/><rect x="709.1" y="486.1" width="1.7" height="1.7" fill="#7d78b8"/><rect x="713.9" y="483.6" width="1.7" height="1.7" fill="#7d78b8"/><rect x="719.4" y="479.3" width="1.7" height="1.7" fill="#7d78b8"/><rect x="723.7" y="486.2" width="1.7" height="1.7" fill="#7d78b8"/><rect x="739.1" y="481.8" width="1.7" height="1.7" fill="#7d78b8"/><rect x="744.7" y="485.6" width="1.7" height="1.7" fill="#7d78b8"/><rect x="749.9" y="491.0" width="1.7" height="1.7" fill="#7d78b8"/><rect x="755.1" y="489.9" width="1.7" height="1.7" fill="#7d78b8"/><rect x="759.6" y="503.5" width="1.7" height="1.7" fill="#7d78b8"/><rect x="764.9" y="503.4" width="1.7" height="1.7" fill="#7d78b8"/><rect x="769.8" y="508.8" width="1.7" height="1.7" fill="#7d78b8"/><rect x="780.0" y="533.5" width="1.7" height="1.7" fill="#7d78b8"/><rect x="785.6" y="543.1" width="1.7" height="1.7" fill="#7d78b8"/><rect x="790.3" y="566.2" width="1.7" height="1.7" fill="#7d78b8"/><rect x="795.3" y="583.1" width="1.7" height="1.7" fill="#7d78b8"/><rect x="801.0" y="597.1" width="1.7" height="1.7" fill="#7d78b8"/><rect x="805.2" y="615.7" width="1.7" height="1.7" fill="#7d78b8"/><rect x="810.5" y="636.8" width="1.7" height="1.7" fill="#7d78b8"/><rect x="815.7" y="648.8" width="1.7" height="1.7" fill="#7d78b8"/><rect x="820.7" y="665.8" width="1.7" height="1.7" fill="#7d78b8"/><rect x="826.7" y="678.1" width="1.7" height="1.7" fill="#7d78b8"/><rect x="830.7" y="693.5" width="1.7" height="1.7" fill="#7d78b8"/><rect x="580.4" y="658.5" width="1.7" height="1.7" fill="#7d78b8"/><rect x="591.5" y="641.8" width="1.7" height="1.7" fill="#7d78b8"/><rect x="596.1" y="630.8" width="1.7" height="1.7" fill="#7d78b8"/><rect x="601.0" y="623.3" width="1.7" height="1.7" fill="#7d78b8"/><rect x="606.5" y="617.5" width="1.7" height="1.7" fill="#7d78b8"/><rect x="612.0" y="603.9" width="1.7" height="1.7" fill="#7d78b8"/><rect x="622.2" y="586.8" width="1.7" height="1.7" fill="#7d78b8"/><rect x="632.2" y="566.9" width="1.7" height="1.7" fill="#7d78b8"/><rect x="641.7" y="549.8" width="1.7" height="1.7" fill="#7d78b8"/><rect x="647.0" y="546.1" width="1.7" height="1.7" fill="#7d78b8"/><rect x="652.2" y="534.8" width="1.7" height="1.7" fill="#7d78b8"/><rect x="658.0" y="530.6" width="1.7" height="1.7" fill="#7d78b8"/><rect x="662.6" y="531.9" width="1.7" height="1.7" fill="#7d78b8"/><rect x="668.2" y="520.6" width="1.7" height="1.7" fill="#7d78b8"/><rect x="673.3" y="518.7" width="1.7" height="1.7" fill="#7d78b8"/><rect x="682.8" y="510.8" width="1.7" height="1.7" fill="#7d78b8"/><rect x="688.5" y="506.9" width="1.7" height="1.7" fill="#7d78b8"/><rect x="693.1" y="500.8" width="1.7" height="1.7" fill="#7d78b8"/><rect x="698.2" y="495.3" width="1.7" height="1.7" fill="#7d78b8"/><rect x="703.4" y="494.5" width="1.7" height="1.7" fill="#7d78b8"/><rect x="708.5" y="492.6" width="1.7" height="1.7" fill="#7d78b8"/><rect x="714.3" y="491.2" width="1.7" height="1.7" fill="#7d78b8"/><rect x="719.5" y="491.0" width="1.7" height="1.7" fill="#7d78b8"/><rect x="729.5" y="488.4" width="1.7" height="1.7" fill="#7d78b8"/><rect x="734.1" y="484.8" width="1.7" height="1.7" fill="#7d78b8"/><rect x="739.1" y="491.6" width="1.7" height="1.7" fill="#7d78b8"/><rect x="744.1" y="493.1" width="1.7" height="1.7" fill="#7d78b8"/><rect x="749.3" y="493.4" width="1.7" height="1.7" fill="#7d78b8"/><rect x="754.9" y="495.0" width="1.7" height="1.7" fill="#7d78b8"/><rect x="759.6" y="501.4" width="1.7" height="1.7" fill="#7d78b8"/><rect x="769.8" y="506.5" width="1.7" height="1.7" fill="#7d78b8"/><rect x="775.5" y="504.7" width="1.7" height="1.7" fill="#7d78b8"/><rect x="780.0" y="514.9" width="1.7" height="1.7" fill="#7d78b8"/><rect x="790.2" y="525.0" width="1.7" height="1.7" fill="#7d78b8"/><rect x="795.3" y="536.0" width="1.7" height="1.7" fill="#7d78b8"/><rect x="801.1" y="547.1" width="1.7" height="1.7" fill="#7d78b8"/><rect x="805.7" y="555.9" width="1.7" height="1.7" fill="#7d78b8"/><rect x="811.4" y="567.8" width="1.7" height="1.7" fill="#7d78b8"/><rect x="815.6" y="581.3" width="1.7" height="1.7" fill="#7d78b8"/><rect x="826.7" y="617.5" width="1.7" height="1.7" fill="#7d78b8"/><rect x="831.4" y="625.0" width="1.7" height="1.7" fill="#7d78b8"/><rect x="586.4" y="681.3" width="1.7" height="1.7" fill="#7d78b8"/><rect x="590.9" y="680.2" width="1.7" height="1.7" fill="#7d78b8"/><rect x="596.4" y="677.0" width="1.7" height="1.7" fill="#7d78b8"/><rect x="601.3" y="665.4" width="1.7" height="1.7" fill="#7d78b8"/><rect x="606.9" y="654.5" width="1.7" height="1.7" fill="#7d78b8"/><rect x="611.8" y="636.4" width="1.7" height="1.7" fill="#7d78b8"/><rect x="616.1" y="632.5" width="1.7" height="1.7" fill="#7d78b8"/><rect x="622.4" y="621.8" width="1.7" height="1.7" fill="#7d78b8"/><rect x="626.3" y="610.1" width="1.7" height="1.7" fill="#7d78b8"/><rect x="641.8" y="574.4" width="1.7" height="1.7" fill="#7d78b8"/><rect x="646.9" y="565.7" width="1.7" height="1.7" fill="#7d78b8"/><rect x="652.2" y="555.8" width="1.7" height="1.7" fill="#7d78b8"/><rect x="657.0" y="546.8" width="1.7" height="1.7" fill="#7d78b8"/><rect x="663.1" y="534.2" width="1.7" height="1.7" fill="#7d78b8"/><rect x="667.3" y="532.2" width="1.7" height="1.7" fill="#7d78b8"/><rect x="672.8" y="526.0" width="1.7" height="1.7" fill="#7d78b8"/><rect x="683.4" y="515.3" width="1.7" height="1.7" fill="#7d78b8"/><rect x="688.1" y="506.4" width="1.7" height="1.7" fill="#7d78b8"/><rect x="693.3" y="501.6" width="1.7" height="1.7" fill="#7d78b8"/><rect x="698.2" y="501.5" width="1.7" height="1.7" fill="#7d78b8"/><rect x="703.3" y="497.1" width="1.7" height="1.7" fill="#7d78b8"/><rect x="713.9" y="487.7" width="1.7" height="1.7" fill="#7d78b8"/><rect x="718.7" y="483.0" width="1.7" height="1.7" fill="#7d78b8"/><rect x="724.1" y="486.1" width="1.7" height="1.7" fill="#7d78b8"/><rect x="728.8" y="480.6" width="1.7" height="1.7" fill="#7d78b8"/><rect x="734.0" y="480.5" width="1.7" height="1.7" fill="#7d78b8"/><rect x="739.5" y="479.4" width="1.7" height="1.7" fill="#7d78b8"/><rect x="749.6" y="487.5" width="1.7" height="1.7" fill="#7d78b8"/><rect x="754.7" y="491.6" width="1.7" height="1.7" fill="#7d78b8"/><rect x="759.7" y="489.6" width="1.7" height="1.7" fill="#7d78b8"/><rect x="764.9" y="493.9" width="1.7" height="1.7" fill="#7d78b8"/><rect x="770.0" y="502.8" width="1.7" height="1.7" fill="#7d78b8"/><rect x="775.3" y="503.4" width="1.7" height="1.7" fill="#7d78b8"/><rect x="785.5" y="525.1" width="1.7" height="1.7" fill="#7d78b8"/><rect x="800.5" y="563.5" width="1.7" height="1.7" fill="#7d78b8"/><rect x="805.7" y="585.0" width="1.7" height="1.7" fill="#7d78b8"/><rect x="810.5" y="599.9" width="1.7" height="1.7" fill="#7d78b8"/><rect x="821.5" y="633.3" width="1.7" height="1.7" fill="#7d78b8"/><rect x="825.7" y="649.4" width="1.7" height="1.7" fill="#7d78b8"/><rect x="831.1" y="660.1" width="1.7" height="1.7" fill="#7d78b8"/><rect x="590.6" y="688.7" width="1.7" height="1.7" fill="#7d78b8"/><rect x="601.3" y="670.9" width="1.7" height="1.7" fill="#7d78b8"/><rect x="606.3" y="665.9" width="1.7" height="1.7" fill="#7d78b8"/><rect x="611.1" y="662.3" width="1.7" height="1.7" fill="#7d78b8"/><rect x="616.1" y="648.6" width="1.7" height="1.7" fill="#7d78b8"/><rect x="626.4" y="621.9" width="1.7" height="1.7" fill="#7d78b8"/><rect x="632.3" y="608.8" width="1.7" height="1.7" fill="#7d78b8"/><rect x="637.3" y="598.4" width="1.7" height="1.7" fill="#7d78b8"/><rect x="641.8" y="590.8" width="1.7" height="1.7" fill="#7d78b8"/><rect x="647.4" y="573.4" width="1.7" height="1.7" fill="#7d78b8"/><rect x="652.6" y="561.8" width="1.7" height="1.7" fill="#7d78b8"/><rect x="657.6" y="546.1" width="1.7" height="1.7" fill="#7d78b8"/><rect x="663.2" y="544.5" width="1.7" height="1.7" fill="#7d78b8"/><rect x="668.1" y="536.7" width="1.7" height="1.7" fill="#7d78b8"/><rect x="673.5" y="529.2" width="1.7" height="1.7" fill="#7d78b8"/><rect x="677.6" y="523.6" width="1.7" height="1.7" fill="#7d78b8"/><rect x="683.6" y="516.3" width="1.7" height="1.7" fill="#7d78b8"/><rect x="688.1" y="509.2" width="1.7" height="1.7" fill="#7d78b8"/><rect x="699.0" y="503.0" width="1.7" height="1.7" fill="#7d78b8"/><rect x="703.8" y="494.5" width="1.7" height="1.7" fill="#7d78b8"/><rect x="708.4" y="487.3" width="1.7" height="1.7" fill="#7d78b8"/><rect x="713.6" y="486.3" width="1.7" height="1.7" fill="#7d78b8"/><rect x="718.3" y="481.8" width="1.7" height="1.7" fill="#7d78b8"/><rect x="723.7" y="480.7" width="1.7" height="1.7" fill="#7d78b8"/><rect x="729.4" y="481.8" width="1.7" height="1.7" fill="#7d78b8"/><rect x="734.6" y="480.7" width="1.7" height="1.7" fill="#7d78b8"/><rect x="739.9" y="481.3" width="1.7" height="1.7" fill="#7d78b8"/><rect x="744.5" y="482.8" width="1.7" height="1.7" fill="#7d78b8"/><rect x="749.0" y="481.3" width="1.7" height="1.7" fill="#7d78b8"/><rect x="755.0" y="494.2" width="1.7" height="1.7" fill="#7d78b8"/><rect x="759.2" y="498.8" width="1.7" height="1.7" fill="#7d78b8"/><rect x="769.9" y="505.7" width="1.7" height="1.7" fill="#7d78b8"/><rect x="775.6" y="517.5" width="1.7" height="1.7" fill="#7d78b8"/><rect x="784.7" y="537.8" width="1.7" height="1.7" fill="#7d78b8"/><rect x="790.3" y="549.4" width="1.7" height="1.7" fill="#7d78b8"/><rect x="795.8" y="569.8" width="1.7" height="1.7" fill="#7d78b8"/><rect x="800.9" y="587.9" width="1.7" height="1.7" fill="#7d78b8"/><rect x="805.2" y="605.4" width="1.7" height="1.7" fill="#7d78b8"/><rect x="816.3" y="639.8" width="1.7" height="1.7" fill="#7d78b8"/><rect x="820.5" y="654.9" width="1.7" height="1.7" fill="#7d78b8"/><rect x="826.4" y="667.3" width="1.7" height="1.7" fill="#7d78b8"/><rect x="831.1" y="680.1" width="1.7" height="1.7" fill="#7d78b8"/><rect x="596.2" y="685.7" width="1.7" height="1.7" fill="#7d78b8"/><rect x="606.1" y="672.2" width="1.7" height="1.7" fill="#7d78b8"/><rect x="611.6" y="666.9" width="1.7" height="1.7" fill="#7d78b8"/><rect x="616.9" y="653.6" width="1.7" height="1.7" fill="#7d78b8"/><rect x="622.3" y="647.5" width="1.7" height="1.7" fill="#7d78b8"/><rect x="626.6" y="638.5" width="1.7" height="1.7" fill="#7d78b8"/><rect x="631.8" y="625.0" width="1.7" height="1.7" fill="#7d78b8"/><rect x="637.3" y="609.0" width="1.7" height="1.7" fill="#7d78b8"/><rect x="642.3" y="593.3" width="1.7" height="1.7" fill="#7d78b8"/><rect x="647.1" y="577.5" width="1.7" height="1.7" fill="#7d78b8"/><rect x="652.1" y="576.1" width="1.7" height="1.7" fill="#7d78b8"/><rect x="657.5" y="564.8" width="1.7" height="1.7" fill="#7d78b8"/><rect x="662.7" y="550.0" width="1.7" height="1.7" fill="#7d78b8"/><rect x="672.6" y="532.7" width="1.7" height="1.7" fill="#7d78b8"/><rect x="677.8" y="528.3" width="1.7" height="1.7" fill="#7d78b8"/><rect x="687.9" y="512.2" width="1.7" height="1.7" fill="#7d78b8"/><rect x="693.2" y="511.7" width="1.7" height="1.7" fill="#7d78b8"/><rect x="697.9" y="503.5" width="1.7" height="1.7" fill="#7d78b8"/><rect x="709.0" y="487.7" width="1.7" height="1.7" fill="#7d78b8"/><rect x="719.2" y="486.6" width="1.7" height="1.7" fill="#7d78b8"/><rect x="723.4" y="482.0" width="1.7" height="1.7" fill="#7d78b8"/><rect x="728.9" y="479.3" width="1.7" height="1.7" fill="#7d78b8"/><rect x="744.3" y="481.1" width="1.7" height="1.7" fill="#7d78b8"/><rect x="749.8" y="485.8" width="1.7" height="1.7" fill="#7d78b8"/><rect x="754.7" y="488.9" width="1.7" height="1.7" fill="#7d78b8"/><rect x="759.5" y="492.4" width="1.7" height="1.7" fill="#7d78b8"/><rect x="770.4" y="491.6" width="1.7" height="1.7" fill="#7d78b8"/><rect x="775.5" y="495.3" width="1.7" height="1.7" fill="#7d78b8"/><rect x="780.7" y="507.7" width="1.7" height="1.7" fill="#7d78b8"/><rect x="785.4" y="517.2" width="1.7" height="1.7" fill="#7d78b8"/><rect x="790.5" y="528.9" width="1.7" height="1.7" fill="#7d78b8"/><rect x="795.9" y="537.8" width="1.7" height="1.7" fill="#7d78b8"/><rect x="800.3" y="552.3" width="1.7" height="1.7" fill="#7d78b8"/><rect x="805.4" y="566.6" width="1.7" height="1.7" fill="#7d78b8"/><rect x="811.3" y="581.6" width="1.7" height="1.7" fill="#7d78b8"/><rect x="816.3" y="603.1" width="1.7" height="1.7" fill="#7d78b8"/><rect x="820.8" y="624.9" width="1.7" height="1.7" fill="#7d78b8"/><rect x="826.7" y="641.2" width="1.7" height="1.7" fill="#7d78b8"/><rect x="831.8" y="654.9" width="1.7" height="1.7" fill="#7d78b8"/><rect x="617.1" y="681.9" width="1.7" height="1.7" fill="#b2acd8"/><rect x="621.9" y="671.6" width="1.7" height="1.7" fill="#b2acd8"/><rect x="626.9" y="659.3" width="1.7" height="1.7" fill="#b2acd8"/><rect x="632.4" y="648.6" width="1.7" height="1.7" fill="#b2acd8"/><rect x="637.4" y="638.8" width="1.7" height="1.7" fill="#b2acd8"/><rect x="646.7" y="617.9" width="1.7" height="1.7" fill="#b2acd8"/><rect x="658.1" y="586.8" width="1.7" height="1.7" fill="#b2acd8"/><rect x="663.3" y="573.9" width="1.7" height="1.7" fill="#b2acd8"/><rect x="672.6" y="555.7" width="1.7" height="1.7" fill="#b2acd8"/><rect x="678.6" y="546.5" width="1.7" height="1.7" fill="#b2acd8"/><rect x="683.4" y="536.0" width="1.7" height="1.7" fill="#b2acd8"/><rect x="688.0" y="527.8" width="1.7" height="1.7" fill="#b2acd8"/><rect x="693.0" y="518.6" width="1.7" height="1.7" fill="#b2acd8"/><rect x="698.2" y="515.4" width="1.7" height="1.7" fill="#b2acd8"/><rect x="704.0" y="507.7" width="1.7" height="1.7" fill="#b2acd8"/><rect x="708.2" y="497.0" width="1.7" height="1.7" fill="#b2acd8"/><rect x="718.9" y="494.1" width="1.7" height="1.7" fill="#b2acd8"/><rect x="724.3" y="484.3" width="1.7" height="1.7" fill="#b2acd8"/><rect x="729.4" y="484.4" width="1.7" height="1.7" fill="#b2acd8"/><rect x="734.2" y="479.9" width="1.7" height="1.7" fill="#b2acd8"/><rect x="738.9" y="480.2" width="1.7" height="1.7" fill="#b2acd8"/><rect x="744.3" y="481.9" width="1.7" height="1.7" fill="#b2acd8"/><rect x="749.5" y="483.6" width="1.7" height="1.7" fill="#b2acd8"/><rect x="754.6" y="482.9" width="1.7" height="1.7" fill="#b2acd8"/><rect x="760.2" y="488.3" width="1.7" height="1.7" fill="#b2acd8"/><rect x="765.3" y="489.9" width="1.7" height="1.7" fill="#b2acd8"/><rect x="770.1" y="495.7" width="1.7" height="1.7" fill="#b2acd8"/><rect x="775.4" y="498.5" width="1.7" height="1.7" fill="#b2acd8"/><rect x="780.7" y="506.6" width="1.7" height="1.7" fill="#b2acd8"/><rect x="785.7" y="512.3" width="1.7" height="1.7" fill="#b2acd8"/><rect x="796.0" y="537.7" width="1.7" height="1.7" fill="#b2acd8"/><rect x="811.2" y="590.1" width="1.7" height="1.7" fill="#b2acd8"/><rect x="816.0" y="604.4" width="1.7" height="1.7" fill="#b2acd8"/><rect x="820.9" y="622.4" width="1.7" height="1.7" fill="#b2acd8"/><rect x="826.1" y="645.3" width="1.7" height="1.7" fill="#b2acd8"/><rect x="830.7" y="660.6" width="1.7" height="1.7" fill="#b2acd8"/><rect x="586.0" y="684.7" width="1.7" height="1.7" fill="#8a85c2"/><rect x="596.8" y="675.9" width="1.7" height="1.7" fill="#8a85c2"/><rect x="606.9" y="655.8" width="1.7" height="1.7" fill="#8a85c2"/><rect x="611.8" y="642.4" width="1.7" height="1.7" fill="#8a85c2"/><rect x="616.2" y="629.9" width="1.7" height="1.7" fill="#8a85c2"/><rect x="627.4" y="602.4" width="1.7" height="1.7" fill="#8a85c2"/><rect x="632.4" y="590.8" width="1.7" height="1.7" fill="#8a85c2"/><rect x="642.3" y="561.8" width="1.7" height="1.7" fill="#8a85c2"/><rect x="647.7" y="553.4" width="1.7" height="1.7" fill="#8a85c2"/><rect x="651.9" y="542.7" width="1.7" height="1.7" fill="#8a85c2"/><rect x="657.4" y="534.6" width="1.7" height="1.7" fill="#8a85c2"/><rect x="662.8" y="522.7" width="1.7" height="1.7" fill="#8a85c2"/><rect x="668.2" y="527.0" width="1.7" height="1.7" fill="#8a85c2"/><rect x="673.4" y="514.9" width="1.7" height="1.7" fill="#8a85c2"/><rect x="678.5" y="506.5" width="1.7" height="1.7" fill="#8a85c2"/><rect x="682.8" y="500.4" width="1.7" height="1.7" fill="#8a85c2"/><rect x="688.1" y="492.9" width="1.7" height="1.7" fill="#8a85c2"/><rect x="693.7" y="494.4" width="1.7" height="1.7" fill="#8a85c2"/><rect x="699.0" y="486.9" width="1.7" height="1.7" fill="#8a85c2"/><rect x="713.7" y="489.6" width="1.7" height="1.7" fill="#8a85c2"/><rect x="723.7" y="486.3" width="1.7" height="1.7" fill="#8a85c2"/><rect x="728.6" y="487.0" width="1.7" height="1.7" fill="#8a85c2"/><rect x="733.8" y="496.8" width="1.7" height="1.7" fill="#8a85c2"/><rect x="739.6" y="493.2" width="1.7" height="1.7" fill="#8a85c2"/><rect x="744.5" y="496.5" width="1.7" height="1.7" fill="#8a85c2"/><rect x="760.0" y="520.2" width="1.7" height="1.7" fill="#8a85c2"/><rect x="764.6" y="534.2" width="1.7" height="1.7" fill="#8a85c2"/><rect x="769.8" y="551.4" width="1.7" height="1.7" fill="#8a85c2"/><rect x="775.5" y="570.2" width="1.7" height="1.7" fill="#8a85c2"/><rect x="780.0" y="587.9" width="1.7" height="1.7" fill="#8a85c2"/><rect x="785.0" y="609.8" width="1.7" height="1.7" fill="#8a85c2"/><rect x="790.6" y="631.3" width="1.7" height="1.7" fill="#8a85c2"/><rect x="795.3" y="641.7" width="1.7" height="1.7" fill="#8a85c2"/><rect x="800.2" y="660.2" width="1.7" height="1.7" fill="#8a85c2"/><rect x="805.7" y="672.5" width="1.7" height="1.7" fill="#8a85c2"/><rect x="580.6" y="674.8" width="1.7" height="1.7" fill="#b2acd8"/><rect x="585.8" y="675.6" width="1.7" height="1.7" fill="#b2acd8"/><rect x="590.9" y="658.6" width="1.7" height="1.7" fill="#b2acd8"/><rect x="596.4" y="653.3" width="1.7" height="1.7" fill="#b2acd8"/><rect x="601.1" y="646.1" width="1.7" height="1.7" fill="#b2acd8"/><rect x="611.6" y="625.1" width="1.7" height="1.7" fill="#b2acd8"/><rect x="616.4" y="622.8" width="1.7" height="1.7" fill="#b2acd8"/><rect x="622.3" y="614.6" width="1.7" height="1.7" fill="#b2acd8"/><rect x="627.3" y="605.6" width="1.7" height="1.7" fill="#b2acd8"/><rect x="631.5" y="596.4" width="1.7" height="1.7" fill="#b2acd8"/><rect x="637.6" y="588.9" width="1.7" height="1.7" fill="#b2acd8"/><rect x="641.9" y="576.8" width="1.7" height="1.7" fill="#b2acd8"/><rect x="647.8" y="568.8" width="1.7" height="1.7" fill="#b2acd8"/><rect x="652.4" y="557.2" width="1.7" height="1.7" fill="#b2acd8"/><rect x="657.5" y="553.7" width="1.7" height="1.7" fill="#b2acd8"/><rect x="667.2" y="533.7" width="1.7" height="1.7" fill="#b2acd8"/><rect x="672.5" y="525.9" width="1.7" height="1.7" fill="#b2acd8"/><rect x="678.3" y="526.7" width="1.7" height="1.7" fill="#b2acd8"/><rect x="683.2" y="521.9" width="1.7" height="1.7" fill="#b2acd8"/><rect x="693.4" y="513.0" width="1.7" height="1.7" fill="#b2acd8"/><rect x="698.1" y="506.2" width="1.7" height="1.7" fill="#b2acd8"/><rect x="708.8" y="501.8" width="1.7" height="1.7" fill="#b2acd8"/><rect x="719.4" y="496.0" width="1.7" height="1.7" fill="#b2acd8"/><rect x="729.5" y="486.5" width="1.7" height="1.7" fill="#b2acd8"/><rect x="734.5" y="486.3" width="1.7" height="1.7" fill="#b2acd8"/><rect x="744.5" y="480.5" width="1.7" height="1.7" fill="#b2acd8"/><rect x="755.2" y="482.6" width="1.7" height="1.7" fill="#b2acd8"/><rect x="760.2" y="483.1" width="1.7" height="1.7" fill="#b2acd8"/><rect x="765.0" y="483.1" width="1.7" height="1.7" fill="#b2acd8"/><rect x="770.3" y="486.1" width="1.7" height="1.7" fill="#b2acd8"/><rect x="775.4" y="486.1" width="1.7" height="1.7" fill="#b2acd8"/><rect x="780.6" y="487.8" width="1.7" height="1.7" fill="#b2acd8"/><rect x="785.6" y="494.0" width="1.7" height="1.7" fill="#b2acd8"/><rect x="790.8" y="494.7" width="1.7" height="1.7" fill="#b2acd8"/><rect x="795.9" y="498.5" width="1.7" height="1.7" fill="#b2acd8"/><rect x="800.1" y="501.9" width="1.7" height="1.7" fill="#b2acd8"/><rect x="815.7" y="519.5" width="1.7" height="1.7" fill="#b2acd8"/><rect x="821.1" y="529.0" width="1.7" height="1.7" fill="#b2acd8"/><rect x="831.4" y="549.0" width="1.7" height="1.7" fill="#b2acd8"/><rect x="586.2" y="687.3" width="1.7" height="1.7" fill="#b2acd8"/><rect x="591.0" y="680.5" width="1.7" height="1.7" fill="#b2acd8"/><rect x="595.8" y="673.8" width="1.7" height="1.7" fill="#b2acd8"/><rect x="601.0" y="666.8" width="1.7" height="1.7" fill="#b2acd8"/><rect x="606.8" y="654.8" width="1.7" height="1.7" fill="#b2acd8"/><rect x="616.6" y="638.3" width="1.7" height="1.7" fill="#b2acd8"/><rect x="621.9" y="627.1" width="1.7" height="1.7" fill="#b2acd8"/><rect x="627.2" y="619.3" width="1.7" height="1.7" fill="#b2acd8"/><rect x="632.5" y="612.6" width="1.7" height="1.7" fill="#b2acd8"/><rect x="636.9" y="596.0" width="1.7" height="1.7" fill="#b2acd8"/><rect x="641.7" y="587.8" width="1.7" height="1.7" fill="#b2acd8"/><rect x="647.3" y="574.1" width="1.7" height="1.7" fill="#b2acd8"/><rect x="652.6" y="567.5" width="1.7" height="1.7" fill="#b2acd8"/><rect x="658.0" y="554.3" width="1.7" height="1.7" fill="#b2acd8"/><rect x="663.2" y="547.9" width="1.7" height="1.7" fill="#b2acd8"/><rect x="668.2" y="543.3" width="1.7" height="1.7" fill="#b2acd8"/><rect x="673.3" y="535.4" width="1.7" height="1.7" fill="#b2acd8"/><rect x="677.5" y="529.9" width="1.7" height="1.7" fill="#b2acd8"/><rect x="683.5" y="518.9" width="1.7" height="1.7" fill="#b2acd8"/><rect x="688.2" y="521.0" width="1.7" height="1.7" fill="#b2acd8"/><rect x="693.3" y="514.9" width="1.7" height="1.7" fill="#b2acd8"/><rect x="698.4" y="507.9" width="1.7" height="1.7" fill="#b2acd8"/><rect x="704.1" y="503.8" width="1.7" height="1.7" fill="#b2acd8"/><rect x="709.2" y="497.1" width="1.7" height="1.7" fill="#b2acd8"/><rect x="713.2" y="497.9" width="1.7" height="1.7" fill="#b2acd8"/><rect x="718.5" y="493.3" width="1.7" height="1.7" fill="#b2acd8"/><rect x="724.5" y="491.2" width="1.7" height="1.7" fill="#b2acd8"/><rect x="728.9" y="491.0" width="1.7" height="1.7" fill="#b2acd8"/><rect x="733.8" y="485.5" width="1.7" height="1.7" fill="#b2acd8"/><rect x="738.8" y="483.5" width="1.7" height="1.7" fill="#b2acd8"/><rect x="750.0" y="487.7" width="1.7" height="1.7" fill="#b2acd8"/><rect x="754.7" y="485.8" width="1.7" height="1.7" fill="#b2acd8"/><rect x="759.2" y="492.8" width="1.7" height="1.7" fill="#b2acd8"/><rect x="769.7" y="501.9" width="1.7" height="1.7" fill="#b2acd8"/><rect x="774.7" y="495.5" width="1.7" height="1.7" fill="#b2acd8"/><rect x="779.7" y="505.9" width="1.7" height="1.7" fill="#b2acd8"/><rect x="784.7" y="509.3" width="1.7" height="1.7" fill="#b2acd8"/><rect x="790.9" y="512.6" width="1.7" height="1.7" fill="#b2acd8"/><rect x="795.6" y="519.4" width="1.7" height="1.7" fill="#b2acd8"/><rect x="801.1" y="535.5" width="1.7" height="1.7" fill="#b2acd8"/><rect x="805.8" y="543.5" width="1.7" height="1.7" fill="#b2acd8"/><rect x="816.3" y="568.9" width="1.7" height="1.7" fill="#b2acd8"/><rect x="820.9" y="587.9" width="1.7" height="1.7" fill="#b2acd8"/><rect x="825.6" y="602.1" width="1.7" height="1.7" fill="#b2acd8"/><rect x="831.4" y="621.2" width="1.7" height="1.7" fill="#b2acd8"/><rect x="682.3" y="563.1" width="1.7" height="1.7" fill="#e2a9b3"/><rect x="687.4" y="572.2" width="1.7" height="1.7" fill="#e2a9b3"/><rect x="692.5" y="581.1" width="1.7" height="1.7" fill="#e2a9b3"/><rect x="697.6" y="589.8" width="1.7" height="1.7" fill="#e2a9b3"/><rect x="702.8" y="598.5" width="1.7" height="1.7" fill="#e2a9b3"/><rect x="707.9" y="606.2" width="1.7" height="1.7" fill="#e2a9b3"/><rect x="713.0" y="613.3" width="1.7" height="1.7" fill="#e2a9b3"/><rect x="718.1" y="619.4" width="1.7" height="1.7" fill="#e2a9b3"/><rect x="723.2" y="625.3" width="1.7" height="1.7" fill="#e2a9b3"/><rect x="728.3" y="630.9" width="1.7" height="1.7" fill="#e2a9b3"/><rect x="733.4" y="636.1" width="1.7" height="1.7" fill="#e2a9b3"/><rect x="738.5" y="640.8" width="1.7" height="1.7" fill="#e2a9b3"/><rect x="743.6" y="645.3" width="1.7" height="1.7" fill="#e2a9b3"/><rect x="748.7" y="649.6" width="1.7" height="1.7" fill="#e2a9b3"/><rect x="753.9" y="653.9" width="1.7" height="1.7" fill="#e2a9b3"/><rect x="759.0" y="657.3" width="1.7" height="1.7" fill="#e2a9b3"/><rect x="764.1" y="660.7" width="1.7" height="1.7" fill="#e2a9b3"/><rect x="769.2" y="664.1" width="1.7" height="1.7" fill="#e2a9b3"/><rect x="774.3" y="667.4" width="1.7" height="1.7" fill="#e2a9b3"/><rect x="779.4" y="670.8" width="1.7" height="1.7" fill="#e2a9b3"/><rect x="784.5" y="673.8" width="1.7" height="1.7" fill="#e2a9b3"/><rect x="789.6" y="676.9" width="1.7" height="1.7" fill="#e2a9b3"/><rect x="794.7" y="679.0" width="1.7" height="1.7" fill="#e2a9b3"/><rect x="799.8" y="680.6" width="1.7" height="1.7" fill="#e2a9b3"/><rect x="805.0" y="682.0" width="1.7" height="1.7" fill="#e2a9b3"/><rect x="810.1" y="682.9" width="1.7" height="1.7" fill="#e2a9b3"/><rect x="815.2" y="683.9" width="1.7" height="1.7" fill="#e2a9b3"/><rect x="820.3" y="685.0" width="1.7" height="1.7" fill="#e2a9b3"/><rect x="631.2" y="499.6" width="1.7" height="1.7" fill="#dfb0b8"/><rect x="636.3" y="496.4" width="1.7" height="1.7" fill="#dfb0b8"/><rect x="641.4" y="493.3" width="1.7" height="1.7" fill="#dfb0b8"/><rect x="646.5" y="491.6" width="1.7" height="1.7" fill="#dfb0b8"/><rect x="651.6" y="490.0" width="1.7" height="1.7" fill="#dfb0b8"/><rect x="656.8" y="488.8" width="1.7" height="1.7" fill="#dfb0b8"/><rect x="661.9" y="488.1" width="1.7" height="1.7" fill="#dfb0b8"/><rect x="667.0" y="487.4" width="1.7" height="1.7" fill="#dfb0b8"/><rect x="672.1" y="487.4" width="1.7" height="1.7" fill="#dfb0b8"/><rect x="677.2" y="487.9" width="1.7" height="1.7" fill="#dfb0b8"/><rect x="682.3" y="488.5" width="1.7" height="1.7" fill="#dfb0b8"/><rect x="687.4" y="489.0" width="1.7" height="1.7" fill="#dfb0b8"/><rect x="692.5" y="490.3" width="1.7" height="1.7" fill="#dfb0b8"/><rect x="697.6" y="492.0" width="1.7" height="1.7" fill="#dfb0b8"/><rect x="702.8" y="493.7" width="1.7" height="1.7" fill="#dfb0b8"/><rect x="707.9" y="497.5" width="1.7" height="1.7" fill="#dfb0b8"/><rect x="713.0" y="502.3" width="1.7" height="1.7" fill="#dfb0b8"/><rect x="718.1" y="507.3" width="1.7" height="1.7" fill="#dfb0b8"/><rect x="723.2" y="518.8" width="1.7" height="1.7" fill="#dfb0b8"/><rect x="728.3" y="530.3" width="1.7" height="1.7" fill="#dfb0b8"/><rect x="733.4" y="539.3" width="1.7" height="1.7" fill="#dfb0b8"/><rect x="738.5" y="546.9" width="1.7" height="1.7" fill="#dfb0b8"/><rect x="743.6" y="554.2" width="1.7" height="1.7" fill="#dfb0b8"/><rect x="748.7" y="560.6" width="1.7" height="1.7" fill="#dfb0b8"/><rect x="753.9" y="567.0" width="1.7" height="1.7" fill="#dfb0b8"/><rect x="759.0" y="575.2" width="1.7" height="1.7" fill="#dfb0b8"/><rect x="764.1" y="583.7" width="1.7" height="1.7" fill="#dfb0b8"/><rect x="769.2" y="591.5" width="1.7" height="1.7" fill="#dfb0b8"/><rect x="774.3" y="599.3" width="1.7" height="1.7" fill="#dfb0b8"/><rect x="779.4" y="606.9" width="1.7" height="1.7" fill="#dfb0b8"/><rect x="784.5" y="614.7" width="1.7" height="1.7" fill="#dfb0b8"/><rect x="789.6" y="623.4" width="1.7" height="1.7" fill="#dfb0b8"/></g>
 <g stroke="#888" stroke-width="1"><line x1="562.3" y1="697" x2="565.5" y2="697"/><line x1="562.3" y1="653.6" x2="565.5" y2="653.6"/><line x1="562.3" y1="610.3" x2="565.5" y2="610.3"/><line x1="562.3" y1="566.9" x2="565.5" y2="566.9"/><line x1="562.3" y1="523.6" x2="565.5" y2="523.6"/><line x1="562.3" y1="480.2" x2="565.5" y2="480.2"/><line x1="575.8" y1="705.6" x2="575.8" y2="709.5"/><line x1="626.9" y1="705.6" x2="626.9" y2="709.5"/><line x1="678" y1="705.6" x2="678" y2="709.5"/><line x1="729.1" y1="705.6" x2="729.1" y2="709.5"/><line x1="780.2" y1="705.6" x2="780.2" y2="709.5"/><line x1="831.3" y1="705.6" x2="831.3" y2="709.5"/></g>
 <path d="M580.5 688.7 L581.5 687.5 L582.5 686.2 L583.5 684.9 L584.5 683.5 L585.5 682.0 L586.5 680.5 L587.5 678.9 L588.5 677.2 L589.5 675.5 L590.5 673.7 L591.5 671.9 L592.5 670.0 L593.5 668.0 L594.5 666.0 L595.5 664.0 L596.5 661.9 L597.5 659.7 L598.5 657.5 L599.5 655.2 L600.5 652.9 L601.5 650.6 L602.5 648.2 L603.5 645.8 L604.5 643.3 L605.5 640.8 L606.5 638.2 L607.5 635.6 L608.5 633.0 L609.5 630.4 L610.5 627.7 L611.5 625.0 L612.5 622.2 L613.5 619.4 L614.5 616.7 L615.5 613.8 L616.5 611.0 L617.5 608.2 L618.5 605.4 L619.5 602.5 L620.5 599.7 L621.5 596.9 L622.5 594.1 L623.5 591.3 L624.5 588.5 L625.5 585.8 L626.5 583.1 L627.5 580.4 L628.5 577.7 L629.5 575.1 L630.5 572.6 L631.5 570.1 L632.5 567.6 L633.5 565.2 L634.5 562.9 L635.5 560.6 L636.5 558.4 L637.5 556.3 L638.5 554.3 L639.5 552.3 L640.5 550.4 L641.5 548.6 L642.5 546.9 L643.5 545.2 L644.5 543.6 L645.5 542.1 L646.5 540.6 L647.5 539.2 L648.5 537.8 L649.5 536.6 L650.5 535.3 L651.5 534.1 L652.5 533.0 L653.5 531.9 L654.5 530.9 L655.5 529.9 L656.5 529.0 L657.5 528.1 L658.5 527.3 L659.5 526.4 L660.5 525.7 L661.5 524.9 L662.5 524.2 L663.5 523.6 L664.5 522.9 L665.5 522.3 L666.5 521.7 L667.5 521.2 L668.5 520.6 L669.5 520.1 L670.5 519.6 L671.5 519.1 L672.5 518.6 L673.5 518.2 L674.5 517.7 L675.5 517.3 L676.5 516.8 L677.5 516.4 L678.5 516.0 L679.5 515.6 L680.5 515.1 L681.5 514.7 L682.5 514.3 L683.5 513.8 L684.5 513.4 L685.5 513.0 L686.5 512.6 L687.5 512.1 L688.5 511.7 L689.5 511.3 L690.5 510.9 L691.5 510.5 L692.5 510.1 L693.5 509.7 L694.5 509.3 L695.5 508.9 L696.5 508.6 L697.5 508.2 L698.5 507.9 L699.5 507.5 L700.5 507.2 L701.5 506.9 L702.5 506.6 L703.5 506.3 L704.5 506.0 L705.5 505.8 L706.5 505.5 L707.5 505.3 L708.5 505.1 L709.5 504.9 L710.5 504.7 L711.5 504.6 L712.5 504.5 L713.5 504.3 L714.5 504.3 L715.5 504.2 L716.5 504.1 L717.5 504.1 L718.5 504.1 L719.5 504.1 L720.5 504.1 L721.5 504.2 L722.5 504.2 L723.5 504.3 L724.5 504.4 L725.5 504.6 L726.5 504.7 L727.5 504.9 L728.5 505.1 L729.5 505.3 L730.5 505.6 L731.5 505.8 L732.5 506.1 L733.5 506.5 L734.5 506.8 L735.5 507.1 L736.5 507.5 L737.5 507.9 L738.5 508.4 L739.5 508.8 L740.5 509.3 L741.5 509.8 L742.5 510.4 L743.5 510.9 L744.5 511.5 L745.5 512.1 L746.5 512.7 L747.5 513.4 L748.5 514.1 L749.5 514.8 L750.5 515.5 L751.5 516.3 L752.5 517.1 L753.5 517.9 L754.5 518.7 L755.5 519.6 L756.5 520.5 L757.5 521.5 L758.5 522.5 L759.5 523.5 L760.5 524.5 L761.5 525.6 L762.5 526.8 L763.5 528.0 L764.5 529.2 L765.5 530.5 L766.5 531.9 L767.5 533.2 L768.5 534.7 L769.5 536.2 L770.5 537.7 L771.5 539.4 L772.5 541.0 L773.5 542.8 L774.5 544.6 L775.5 546.5 L776.5 548.4 L777.5 550.4 L778.5 552.5 L779.5 554.6 L780.5 556.8 L781.5 559.1 L782.5 561.4 L783.5 563.8 L784.5 566.2 L785.5 568.7 L786.5 571.2 L787.5 573.8 L788.5 576.4 L789.5 579.0 L790.5 581.7 L791.5 584.4 L792.5 587.1 L793.5 589.9 L794.5 592.6 L795.5 595.4 L796.5 598.2 L797.5 601.0 L798.5 603.8 L799.5 606.5 L800.5 609.3 L801.5 612.1 L802.5 614.9 L803.5 617.7 L804.5 620.4 L805.5 623.1 L806.5 625.8 L807.5 628.5 L808.5 631.2 L809.5 633.9 L810.5 636.5 L811.5 639.1 L812.5 641.7 L813.5 644.3 L814.5 646.9 L815.5 649.4 L816.5 652.0 L817.5 654.5 L818.5 657.0 L819.5 659.5 L820.5 662.0 L821.5 664.5 L822.5 667.0 L823.5 669.5 L824.5 671.9 L825.5 674.4 L826.5 676.9 L827.5 679.3 L828.5 681.8 L829.5 684.2 L830.5 686.6 L831.4 688.8" fill="none" stroke="#e0513c" stroke-width="1.7" stroke-linejoin="round"/>
 <path d="M580.5 689.9 L581.5 688.7 L582.5 687.5 L583.5 686.2 L584.5 685.0 L585.5 683.6 L586.5 682.3 L587.5 680.9 L588.5 679.4 L589.5 677.9 L590.5 676.4 L591.5 674.9 L592.5 673.3 L593.5 671.7 L594.5 670.1 L595.5 668.4 L596.5 666.7 L597.5 664.9 L598.5 663.2 L599.5 661.4 L600.5 659.6 L601.5 657.7 L602.5 655.8 L603.5 653.9 L604.5 652.0 L605.5 650.0 L606.5 648.1 L607.5 646.1 L608.5 644.0 L609.5 642.0 L610.5 639.9 L611.5 637.8 L612.5 635.7 L613.5 633.6 L614.5 631.5 L615.5 629.3 L616.5 627.1 L617.5 624.9 L618.5 622.7 L619.5 620.5 L620.5 618.2 L621.5 616.0 L622.5 613.7 L623.5 611.5 L624.5 609.2 L625.5 606.9 L626.5 604.7 L627.5 602.4 L628.5 600.1 L629.5 597.9 L630.5 595.6 L631.5 593.4 L632.5 591.1 L633.5 588.9 L634.5 586.7 L635.5 584.5 L636.5 582.4 L637.5 580.2 L638.5 578.1 L639.5 576.0 L640.5 573.9 L641.5 571.9 L642.5 569.9 L643.5 567.9 L644.5 566.0 L645.5 564.1 L646.5 562.3 L647.5 560.4 L648.5 558.7 L649.5 556.9 L650.5 555.3 L651.5 553.6 L652.5 552.0 L653.5 550.4 L654.5 548.9 L655.5 547.4 L656.5 546.0 L657.5 544.5 L658.5 543.1 L659.5 541.8 L660.5 540.4 L661.5 539.1 L662.5 537.8 L663.5 536.6 L664.5 535.3 L665.5 534.1 L666.5 532.9 L667.5 531.7 L668.5 530.5 L669.5 529.4 L670.5 528.3 L671.5 527.1 L672.5 526.0 L673.5 524.9 L674.5 523.8 L675.5 522.8 L676.5 521.7 L677.5 520.6 L678.5 519.5 L679.5 518.5 L680.5 517.4 L681.5 516.3 L682.5 515.3 L683.5 514.2 L684.5 513.2 L685.5 512.2 L686.5 511.1 L687.5 510.1 L688.5 509.1 L689.5 508.2 L690.5 507.2 L691.5 506.2 L692.5 505.3 L693.5 504.4 L694.5 503.5 L695.5 502.6 L696.5 501.8 L697.5 500.9 L698.5 500.1 L699.5 499.4 L700.5 498.6 L701.5 497.9 L702.5 497.2 L703.5 496.5 L704.5 495.9 L705.5 495.3 L706.5 494.7 L707.5 494.2 L708.5 493.7 L709.5 493.2 L710.5 492.8 L711.5 492.4 L712.5 492.1 L713.5 491.8 L714.5 491.5 L715.5 491.3 L716.5 491.1 L717.5 490.9 L718.5 490.8 L719.5 490.7 L720.5 490.7 L721.5 490.6 L722.5 490.6 L723.5 490.7 L724.5 490.7 L725.5 490.8 L726.5 491.0 L727.5 491.1 L728.5 491.3 L729.5 491.5 L730.5 491.8 L731.5 492.0 L732.5 492.3 L733.5 492.6 L734.5 493.0 L735.5 493.3 L736.5 493.7 L737.5 494.1 L738.5 494.5 L739.5 495.0 L740.5 495.4 L741.5 495.9 L742.5 496.4 L743.5 496.9 L744.5 497.4 L745.5 498.0 L746.5 498.6 L747.5 499.1 L748.5 499.7 L749.5 500.3 L750.5 500.9 L751.5 501.6 L752.5 502.2 L753.5 502.8 L754.5 503.5 L755.5 504.2 L756.5 504.9 L757.5 505.7 L758.5 506.5 L759.5 507.3 L760.5 508.2 L761.5 509.1 L762.5 510.1 L763.5 511.2 L764.5 512.3 L765.5 513.5 L766.5 514.7 L767.5 516.0 L768.5 517.4 L769.5 518.9 L770.5 520.5 L771.5 522.2 L772.5 523.9 L773.5 525.8 L774.5 527.7 L775.5 529.7 L776.5 531.7 L777.5 533.9 L778.5 536.1 L779.5 538.3 L780.5 540.7 L781.5 543.1 L782.5 545.5 L783.5 548.0 L784.5 550.6 L785.5 553.2 L786.5 555.9 L787.5 558.7 L788.5 561.6 L789.5 564.5 L790.5 567.6 L791.5 570.7 L792.5 573.9 L793.5 577.2 L794.5 580.6 L795.5 584.0 L796.5 587.4 L797.5 590.8 L798.5 594.3 L799.5 597.7 L800.5 601.2 L801.5 604.6 L802.5 608.1 L803.5 611.4 L804.5 614.8 L805.5 618.1 L806.5 621.4 L807.5 624.6 L808.5 627.7 L809.5 630.8 L810.5 633.8 L811.5 636.8 L812.5 639.7 L813.5 642.5 L814.5 645.3 L815.5 648.1 L816.5 650.8 L817.5 653.5 L818.5 656.2 L819.5 658.8 L820.5 661.4 L821.5 664.0 L822.5 666.6 L823.5 669.1 L824.5 671.7 L825.5 674.2 L826.5 676.8 L827.5 679.3 L828.5 681.9 L829.5 684.4 L830.5 687.0 L831.4 689.4" fill="none" stroke="#3447d6" stroke-width="1.7" stroke-linejoin="round"/>
 <path d="M580.9 697.0 L582.4 697.0 L583.8 696.8 L585.3 696.6 L586.8 696.3 L588.3 695.9 L589.7 695.5 L591.2 694.9 L592.7 694.3 L594.2 693.6 L595.6 692.8 L597.1 691.9 L598.6 691.0 L600.1 690.0 L601.5 688.9 L603.0 687.7 L604.5 686.4 L605.9 685.1 L607.4 683.6 L608.9 682.2 L610.4 680.6 L611.8 679.0 L613.3 677.3 L614.8 675.5 L616.3 673.6 L617.7 671.7 L619.2 669.8 L620.7 667.7 L622.2 665.6 L623.6 663.5 L625.1 661.3 L626.6 659.0 L628.1 656.7 L629.5 654.3 L631.0 651.9 L632.5 649.4 L633.9 646.9 L635.4 644.3 L636.9 641.7 L638.4 639.0 L639.8 636.3 L641.3 633.6 L642.8 630.8 L644.3 628.0 L645.7 625.2 L647.2 622.4 L648.7 619.5 L650.2 616.6 L651.6 613.6 L653.1 610.7 L654.6 607.7 L656.0 604.7 L657.5 601.7 L659.0 598.7 L660.5 595.7 L661.9 592.7 L663.4 589.7 L664.9 586.7 L666.4 583.7 L667.8 580.6 L669.3 577.6 L670.8 574.6 L672.3 571.6 L673.7 568.7 L675.2 565.7 L676.7 562.8 L678.2 559.8 L679.6 556.9 L681.1 554.1 L682.6 551.2 L684.0 548.4 L685.5 545.6 L687.0 542.8 L688.5 540.1 L689.9 537.4 L691.4 534.8 L692.9 532.2 L694.4 529.6 L695.8 527.1 L697.3 524.7 L698.8 522.2 L700.3 519.9 L701.7 517.6 L703.2 515.3 L704.7 513.1 L706.1 511.0 L707.6 508.9 L709.1 506.9 L710.6 504.9 L712.0 503.0 L713.5 501.2 L715.0 499.5 L716.5 497.8 L717.9 496.2 L719.4 494.6 L720.9 493.2 L722.4 491.8 L723.8 490.4 L725.3 489.2 L726.8 488.0 L728.3 486.9 L729.7 485.9 L731.2 485.0 L732.7 484.2 L734.1 483.4 L735.6 482.7 L737.1 482.1 L738.6 481.6 L740.0 481.1 L741.5 480.8 L743.0 480.5 L744.5 480.3 L745.9 480.2 L747.4 480.2 L748.9 480.5 L750.4 481.0 L751.8 481.9 L753.3 483.2 L754.8 484.7 L756.2 486.6 L757.7 488.7 L759.2 491.2 L760.7 493.9 L762.1 497.0 L763.6 500.3 L765.1 503.9 L766.6 507.7 L768.0 511.8 L769.5 516.1 L771.0 520.6 L772.5 525.3 L773.9 530.3 L775.4 535.4 L776.9 540.6 L778.4 546.0 L779.8 551.5 L781.3 557.2 L782.8 562.9 L784.2 568.7 L785.7 574.6 L787.2 580.5 L788.7 586.5 L790.1 592.4 L791.6 598.3 L793.1 604.2 L794.6 610.1 L796.0 615.9 L797.5 621.6 L799.0 627.2 L800.5 632.7 L801.9 638.1 L803.4 643.3 L804.9 648.3 L806.3 653.2 L807.8 657.9 L809.3 662.3 L810.8 666.6 L812.2 670.6 L813.7 674.4 L815.2 677.9 L816.7 681.1 L818.1 684.1 L819.6 686.7 L821.1 689.1 L822.6 691.2 L824.0 692.9 L825.5 694.4 L827.0 695.5 L828.5 696.3 L829.9 696.8 L831.4 697.0" fill="none" stroke="#111" stroke-width="2.2" stroke-linejoin="round"/>
 <g font-size="13.2" font-weight="bold" fill="#222" font-family="Liberation Sans">
  <text x="557.6" y="483.2" text-anchor="end">1</text>
  <text x="558.1" y="704.2" text-anchor="end">0</text>
  <text x="575.7" y="725.3" text-anchor="middle">0</text>
  <text x="823.2" y="725.5" text-anchor="middle">50</text>
 </g>
 <text transform="translate(548.1,576.6) rotate(-90) scale(1.2,1)" font-size="11" font-weight="bold" fill="#222" text-anchor="middle" font-family="Liberation Sans">Normalised amplitude</text>
 <!-- right legend lines -->
 <rect x="865.3" y="555" width="60.8" height="3.3" fill="#111"/>
 <rect x="865.3" y="608.5" width="60.8" height="3.2" fill="#e02020"/>
 <rect x="865.3" y="664.1" width="60.8" height="3.4" fill="#1f70c0"/>
</svg>
<div class="t" style="left:396.8px;top:18.1px;font-size:20.00px;letter-spacing:0.50px;color:#1f3864">인지적</div>
<div class="t" style="left:464.0px;top:18.1px;font-size:20.00px;letter-spacing:-0.50px;color:#1f3864">추론</div>
<div class="t" style="left:512.2px;top:18.1px;font-size:20.00px;letter-spacing:0.00px;color:#1f3864">방식학습</div>
<div class="t" style="left:422.0px;top:137.8px;font-size:20.22px;letter-spacing:0.30px;color:#8b4a14">자동적</div>
<div class="t" style="left:488.6px;top:137.8px;font-size:20.22px;letter-spacing:1.00px;color:#8b4a14">방식</div>
<div class="t" style="left:537.8px;top:137.8px;font-size:20.22px;letter-spacing:-2.00px;color:#8b4a14">학습</div>
<div class="t" style="left:416.4px;top:263.4px;font-size:19.58px;letter-spacing:-0.55px;color:#dd7a28">실시간</div>
<div class="t" style="left:483.8px;top:263.4px;font-size:19.58px;letter-spacing:0.15px;color:#dd7a28">피드백</div>
<div class="t" style="left:551.0px;top:263.4px;font-size:19.58px;letter-spacing:-0.30px;color:#dd7a28">교육</div>
<div class="t" style="left:423.2px;top:375.0px;font-size:20.22px;letter-spacing:-1.60px;color:#4f7dc0">사후</div>
<div class="t" style="left:470.4px;top:375.0px;font-size:20.22px;letter-spacing:-0.40px;color:#4f7dc0">피드백</div>
<div class="t" style="left:536.8px;top:375.0px;font-size:20.22px;letter-spacing:-0.20px;color:#4f7dc0">교육</div>
<div class="t" style="left:29.0px;top:549.2px;font-size:19.68px;letter-spacing:0.00px;color:#e02020">움직임</div>
<div class="t" style="left:97.6px;top:549.2px;font-size:19.68px;letter-spacing:-0.10px;color:#e02020">모델</div>
<div class="t" style="left:145.2px;top:549.2px;font-size:19.68px;letter-spacing:0.13px;color:#e02020">(적색)</div>
<div class="t" style="left:29.8px;top:604.9px;font-size:19.68px;letter-spacing:0.30px;color:#1d9b4c">손의</div>
<div class="t" style="left:77.4px;top:604.9px;font-size:19.68px;letter-spacing:0.00px;color:#1d9b4c">움직임</div>
<div class="t" style="left:145.2px;top:604.9px;font-size:19.68px;letter-spacing:0.13px;color:#1d9b4c">(녹색)</div>
<div class="t" style="left:63.6px;top:770.8px;font-size:25.52px;letter-spacing:-2.70px;color:#111">침자</div>
<div class="t" style="left:124.2px;top:770.8px;font-size:25.52px;letter-spacing:-0.32px;color:#111">수기법</div>
<div class="t" style="left:211.2px;top:770.8px;font-size:25.52px;letter-spacing:-1.15px;color:#111">교육</div>
<div class="t" style="left:272.2px;top:770.8px;font-size:25.52px;letter-spacing:-0.17px;color:#111">프로그램</div>
<div class="t" style="left:386.2px;top:770.8px;font-size:25.52px;letter-spacing:-0.36px;color:#111">(AMES)</div>
<div class="t" style="left:636.8px;top:773.7px;font-size:25.52px;letter-spacing:-1.90px;color:#111">침자</div>
<div class="t" style="left:697.8px;top:773.7px;font-size:25.52px;letter-spacing:-0.30px;color:#111">수기법</div>
<div class="t" style="left:785.6px;top:773.7px;font-size:25.52px;letter-spacing:-3.40px;color:#111">교육</div>
<div class="t" style="left:845.6px;top:773.7px;font-size:25.52px;letter-spacing:-1.40px;color:#111">효과</div>
<div class="t" style="left:850.4px;top:570.2px;font-size:18.69px;letter-spacing:0.88px;color:#111">움직임모델(흑색)</div>
<div class="t" style="left:848.8px;top:623.2px;font-size:18.69px;letter-spacing:1.60px;color:#e02020">교육</div>
<div class="t" style="left:897.2px;top:623.2px;font-size:18.69px;letter-spacing:0.00px;color:#e02020">전</div>
<div class="t" style="left:924.8px;top:623.2px;font-size:18.69px;letter-spacing:0.80px;color:#e02020">(적색)</div>
<div class="t" style="left:848.8px;top:679.1px;font-size:18.69px;letter-spacing:1.60px;color:#1f70c0">교육</div>
<div class="t" style="left:897.2px;top:679.1px;font-size:18.69px;letter-spacing:0.80px;color:#1f70c0">후(청색)</div>
</body></html>
